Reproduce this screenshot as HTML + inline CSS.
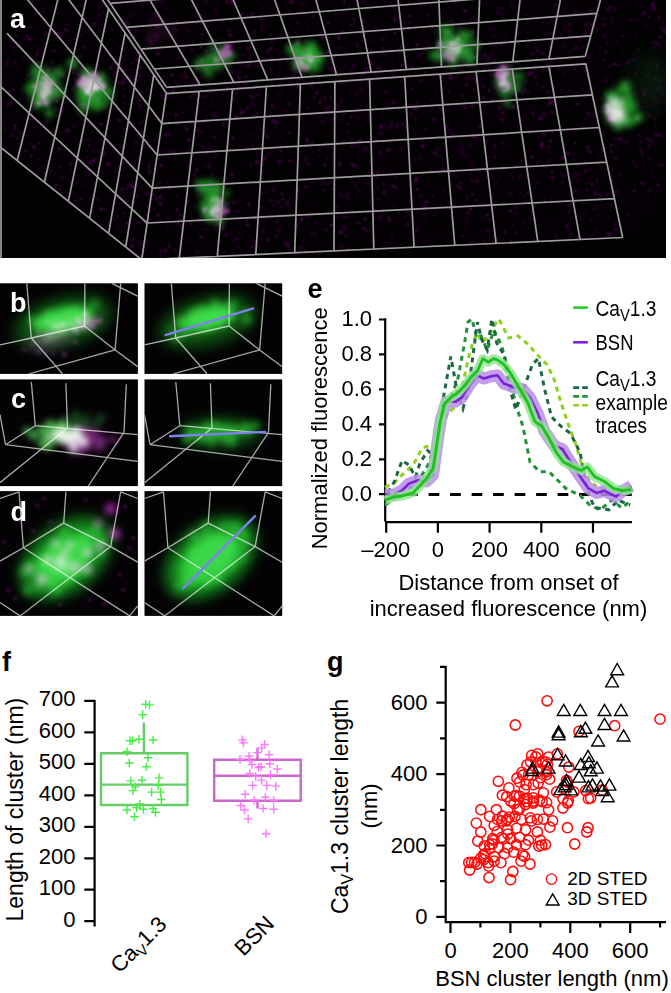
<!DOCTYPE html><html><head><meta charset="utf-8"><style>
html,body{margin:0;padding:0;background:#fff;width:671px;height:993px;overflow:hidden}
svg{display:block;font-family:"Liberation Sans",sans-serif}
</style></head><body>
<svg width="671" height="993" viewBox="0 0 671 993">
<defs>
<filter id="bl4" x="-50%" y="-50%" width="200%" height="200%"><feGaussianBlur stdDeviation="4"/></filter>
<filter id="bl3" x="-50%" y="-50%" width="200%" height="200%"><feGaussianBlur stdDeviation="3.2"/></filter>
<filter id="bl1" x="-50%" y="-50%" width="200%" height="200%"><feGaussianBlur stdDeviation="0.9"/></filter>
<filter id="bl2" x="-50%" y="-50%" width="200%" height="200%"><feGaussianBlur stdDeviation="1.6"/></filter>
<filter id="bl7" x="-50%" y="-50%" width="200%" height="200%"><feGaussianBlur stdDeviation="7"/></filter>
<filter id="bl12" x="-50%" y="-50%" width="200%" height="200%"><feGaussianBlur stdDeviation="12"/></filter>
<filter id="speck" x="0" y="0" width="100%" height="100%">
<feTurbulence type="fractalNoise" baseFrequency="0.22" numOctaves="2" seed="11"/>
<feColorMatrix type="matrix" values="0 0 0 0 0.34  0 0 0 0 0.02  0 0 0 0 0.34  3.5 0 0 0 -1.9"/>
<feGaussianBlur stdDeviation="0.7"/>
</filter>
<clipPath id="cpa"><rect x="0" y="0" width="666" height="258"/></clipPath>
</defs>

<rect x="0" y="0" width="666" height="258" fill="#030103"/>
<g clip-path="url(#cpa)">
<g fill="#5c0c62" filter="url(#bl1)"><circle cx="523" cy="142" r="1.2" opacity="0.3"/><circle cx="212" cy="101" r="1.0" opacity="0.6"/><circle cx="249" cy="204" r="1.5" opacity="0.6"/><circle cx="87" cy="93" r="1.9" opacity="0.6"/><circle cx="471" cy="42" r="1.1" opacity="0.6"/><circle cx="226" cy="91" r="1.0" opacity="0.4"/><circle cx="124" cy="195" r="1.3" opacity="0.2"/><circle cx="2" cy="119" r="0.9" opacity="0.2"/><circle cx="541" cy="53" r="1.2" opacity="0.6"/><circle cx="533" cy="114" r="1.9" opacity="0.5"/><circle cx="138" cy="163" r="1.4" opacity="0.2"/><circle cx="107" cy="198" r="1.3" opacity="0.2"/><circle cx="47" cy="122" r="1.7" opacity="0.6"/><circle cx="316" cy="238" r="1.2" opacity="0.4"/><circle cx="95" cy="211" r="1.5" opacity="0.2"/><circle cx="574" cy="67" r="1.0" opacity="0.6"/><circle cx="288" cy="245" r="1.7" opacity="0.7"/><circle cx="521" cy="176" r="1.2" opacity="0.6"/><circle cx="638" cy="203" r="0.9" opacity="0.6"/><circle cx="161" cy="82" r="1.5" opacity="0.6"/><circle cx="451" cy="131" r="1.4" opacity="0.4"/><circle cx="358" cy="223" r="1.8" opacity="0.6"/><circle cx="532" cy="13" r="1.2" opacity="0.3"/><circle cx="567" cy="112" r="1.3" opacity="0.2"/><circle cx="136" cy="98" r="1.9" opacity="0.4"/><circle cx="290" cy="17" r="1.4" opacity="0.3"/><circle cx="209" cy="25" r="1.0" opacity="0.7"/><circle cx="487" cy="141" r="1.6" opacity="0.6"/><circle cx="43" cy="7" r="1.6" opacity="0.2"/><circle cx="103" cy="41" r="0.9" opacity="0.4"/><circle cx="641" cy="182" r="1.7" opacity="0.5"/><circle cx="666" cy="33" r="1.7" opacity="0.6"/><circle cx="344" cy="71" r="1.1" opacity="0.6"/><circle cx="657" cy="65" r="1.6" opacity="0.6"/><circle cx="416" cy="178" r="1.0" opacity="0.2"/><circle cx="441" cy="156" r="1.8" opacity="0.3"/><circle cx="571" cy="204" r="1.8" opacity="0.2"/><circle cx="259" cy="208" r="1.5" opacity="0.6"/><circle cx="379" cy="133" r="1.5" opacity="0.4"/><circle cx="654" cy="8" r="1.8" opacity="0.6"/><circle cx="488" cy="231" r="1.6" opacity="0.4"/><circle cx="369" cy="86" r="1.8" opacity="0.3"/><circle cx="655" cy="124" r="1.5" opacity="0.3"/><circle cx="405" cy="106" r="1.7" opacity="0.6"/><circle cx="498" cy="13" r="1.2" opacity="0.7"/><circle cx="606" cy="82" r="1.3" opacity="0.5"/><circle cx="421" cy="196" r="1.5" opacity="0.6"/><circle cx="392" cy="123" r="1.7" opacity="0.5"/><circle cx="37" cy="69" r="1.3" opacity="0.2"/><circle cx="200" cy="104" r="1.8" opacity="0.3"/><circle cx="188" cy="182" r="1.1" opacity="0.4"/><circle cx="335" cy="205" r="1.8" opacity="0.2"/><circle cx="511" cy="241" r="1.5" opacity="0.5"/><circle cx="167" cy="229" r="1.0" opacity="0.5"/><circle cx="376" cy="147" r="1.1" opacity="0.6"/><circle cx="259" cy="222" r="1.0" opacity="0.7"/><circle cx="546" cy="24" r="1.7" opacity="0.3"/><circle cx="417" cy="27" r="1.2" opacity="0.4"/><circle cx="3" cy="68" r="1.3" opacity="0.4"/><circle cx="218" cy="3" r="1.7" opacity="0.4"/><circle cx="542" cy="22" r="1.3" opacity="0.3"/><circle cx="276" cy="109" r="1.6" opacity="0.4"/><circle cx="503" cy="170" r="1.6" opacity="0.4"/><circle cx="358" cy="28" r="1.8" opacity="0.2"/><circle cx="131" cy="16" r="1.9" opacity="0.4"/><circle cx="93" cy="207" r="1.0" opacity="0.2"/><circle cx="259" cy="184" r="0.9" opacity="0.7"/><circle cx="253" cy="80" r="1.0" opacity="0.3"/><circle cx="61" cy="67" r="0.9" opacity="0.6"/><circle cx="615" cy="115" r="1.3" opacity="0.3"/><circle cx="9" cy="91" r="1.4" opacity="0.4"/><circle cx="157" cy="16" r="1.3" opacity="0.6"/><circle cx="187" cy="129" r="1.7" opacity="0.7"/><circle cx="304" cy="23" r="1.8" opacity="0.2"/><circle cx="281" cy="136" r="1.5" opacity="0.2"/><circle cx="552" cy="200" r="1.2" opacity="0.7"/><circle cx="224" cy="178" r="1.2" opacity="0.3"/><circle cx="284" cy="244" r="1.2" opacity="0.7"/><circle cx="516" cy="56" r="1.2" opacity="0.5"/><circle cx="646" cy="92" r="1.3" opacity="0.2"/><circle cx="501" cy="22" r="0.9" opacity="0.5"/><circle cx="13" cy="88" r="1.0" opacity="0.5"/><circle cx="180" cy="221" r="1.1" opacity="0.7"/><circle cx="551" cy="121" r="1.0" opacity="0.2"/><circle cx="389" cy="179" r="1.6" opacity="0.3"/><circle cx="528" cy="132" r="1.3" opacity="0.4"/><circle cx="143" cy="187" r="1.5" opacity="0.2"/><circle cx="438" cy="41" r="1.2" opacity="0.4"/><circle cx="263" cy="208" r="1.9" opacity="0.3"/><circle cx="203" cy="223" r="1.1" opacity="0.3"/><circle cx="167" cy="252" r="1.7" opacity="0.3"/><circle cx="126" cy="23" r="1.8" opacity="0.7"/><circle cx="196" cy="88" r="1.3" opacity="0.6"/><circle cx="321" cy="228" r="1.1" opacity="0.6"/><circle cx="512" cy="93" r="1.7" opacity="0.6"/><circle cx="577" cy="104" r="1.8" opacity="0.6"/><circle cx="351" cy="25" r="1.5" opacity="0.6"/><circle cx="210" cy="29" r="1.3" opacity="0.2"/><circle cx="68" cy="130" r="1.8" opacity="0.6"/><circle cx="642" cy="153" r="1.1" opacity="0.4"/><circle cx="326" cy="119" r="1.0" opacity="0.2"/><circle cx="366" cy="195" r="1.5" opacity="0.2"/><circle cx="119" cy="83" r="1.5" opacity="0.6"/><circle cx="283" cy="58" r="1.5" opacity="0.2"/><circle cx="274" cy="205" r="1.8" opacity="0.4"/><circle cx="611" cy="17" r="0.9" opacity="0.3"/><circle cx="133" cy="85" r="1.5" opacity="0.2"/><circle cx="299" cy="187" r="1.2" opacity="0.3"/><circle cx="306" cy="41" r="1.8" opacity="0.4"/><circle cx="127" cy="223" r="1.7" opacity="0.2"/><circle cx="565" cy="73" r="1.7" opacity="0.4"/><circle cx="231" cy="222" r="1.0" opacity="0.5"/><circle cx="560" cy="5" r="1.4" opacity="0.2"/><circle cx="542" cy="133" r="1.7" opacity="0.5"/><circle cx="144" cy="66" r="1.1" opacity="0.4"/><circle cx="310" cy="155" r="1.4" opacity="0.2"/><circle cx="380" cy="218" r="1.4" opacity="0.6"/><circle cx="423" cy="215" r="1.0" opacity="0.7"/><circle cx="188" cy="213" r="1.3" opacity="0.2"/><circle cx="634" cy="53" r="1.6" opacity="0.2"/><circle cx="369" cy="62" r="1.8" opacity="0.2"/><circle cx="130" cy="43" r="0.9" opacity="0.4"/><circle cx="181" cy="191" r="1.5" opacity="0.4"/><circle cx="76" cy="126" r="1.6" opacity="0.3"/><circle cx="605" cy="81" r="1.7" opacity="0.4"/><circle cx="640" cy="142" r="1.5" opacity="0.7"/><circle cx="118" cy="171" r="1.1" opacity="0.4"/><circle cx="94" cy="144" r="1.0" opacity="0.2"/><circle cx="304" cy="125" r="1.7" opacity="0.3"/><circle cx="400" cy="84" r="1.3" opacity="0.3"/><circle cx="596" cy="192" r="1.0" opacity="0.6"/><circle cx="87" cy="216" r="1.0" opacity="0.5"/><circle cx="422" cy="35" r="1.7" opacity="0.3"/><circle cx="124" cy="213" r="1.3" opacity="0.6"/><circle cx="606" cy="157" r="1.7" opacity="0.3"/><circle cx="124" cy="71" r="1.9" opacity="0.7"/><circle cx="240" cy="72" r="1.2" opacity="0.5"/><circle cx="163" cy="200" r="1.8" opacity="0.3"/><circle cx="408" cy="23" r="1.0" opacity="0.5"/><circle cx="271" cy="70" r="1.4" opacity="0.6"/><circle cx="325" cy="108" r="1.6" opacity="0.4"/><circle cx="262" cy="217" r="1.5" opacity="0.7"/><circle cx="415" cy="107" r="1.6" opacity="0.5"/><circle cx="541" cy="4" r="1.1" opacity="0.5"/><circle cx="228" cy="124" r="1.4" opacity="0.3"/><circle cx="577" cy="238" r="1.6" opacity="0.4"/><circle cx="119" cy="226" r="1.4" opacity="0.2"/><circle cx="337" cy="18" r="1.3" opacity="0.3"/><circle cx="144" cy="1" r="1.3" opacity="0.5"/><circle cx="253" cy="97" r="1.5" opacity="0.5"/><circle cx="525" cy="116" r="1.5" opacity="0.4"/><circle cx="461" cy="70" r="1.2" opacity="0.6"/><circle cx="464" cy="152" r="1.0" opacity="0.6"/><circle cx="303" cy="69" r="1.5" opacity="0.3"/><circle cx="336" cy="34" r="1.2" opacity="0.5"/><circle cx="539" cy="27" r="1.3" opacity="0.3"/><circle cx="286" cy="111" r="1.9" opacity="0.4"/><circle cx="267" cy="137" r="1.8" opacity="0.5"/><circle cx="15" cy="52" r="1.7" opacity="0.3"/><circle cx="303" cy="81" r="1.3" opacity="0.2"/><circle cx="364" cy="73" r="1.9" opacity="0.3"/><circle cx="408" cy="83" r="1.7" opacity="0.3"/><circle cx="190" cy="82" r="1.2" opacity="0.6"/><circle cx="346" cy="137" r="1.6" opacity="0.2"/><circle cx="648" cy="206" r="1.0" opacity="0.3"/><circle cx="549" cy="66" r="1.0" opacity="0.4"/><circle cx="495" cy="145" r="1.3" opacity="0.4"/><circle cx="451" cy="31" r="1.0" opacity="0.2"/><circle cx="466" cy="11" r="1.6" opacity="0.6"/><circle cx="140" cy="123" r="1.5" opacity="0.6"/><circle cx="124" cy="96" r="1.3" opacity="0.6"/><circle cx="534" cy="107" r="1.6" opacity="0.4"/><circle cx="308" cy="222" r="1.8" opacity="0.2"/><circle cx="245" cy="88" r="1.7" opacity="0.3"/><circle cx="539" cy="137" r="1.0" opacity="0.5"/><circle cx="425" cy="207" r="1.5" opacity="0.7"/><circle cx="582" cy="104" r="1.3" opacity="0.2"/><circle cx="465" cy="133" r="1.0" opacity="0.4"/><circle cx="87" cy="169" r="1.8" opacity="0.5"/><circle cx="649" cy="158" r="1.7" opacity="0.4"/><circle cx="557" cy="27" r="1.4" opacity="0.2"/><circle cx="175" cy="82" r="1.6" opacity="0.3"/><circle cx="330" cy="67" r="1.6" opacity="0.5"/><circle cx="542" cy="117" r="1.7" opacity="0.3"/><circle cx="442" cy="18" r="1.8" opacity="0.3"/><circle cx="320" cy="150" r="1.6" opacity="0.6"/><circle cx="337" cy="236" r="1.0" opacity="0.3"/><circle cx="95" cy="64" r="1.6" opacity="0.2"/><circle cx="402" cy="66" r="1.6" opacity="0.6"/><circle cx="32" cy="72" r="1.3" opacity="0.3"/><circle cx="482" cy="79" r="0.9" opacity="0.6"/><circle cx="592" cy="184" r="1.7" opacity="0.6"/><circle cx="656" cy="78" r="1.8" opacity="0.3"/><circle cx="242" cy="14" r="1.6" opacity="0.6"/><circle cx="139" cy="242" r="1.1" opacity="0.3"/><circle cx="307" cy="217" r="1.5" opacity="0.5"/><circle cx="276" cy="123" r="1.7" opacity="0.4"/><circle cx="344" cy="119" r="1.3" opacity="0.2"/><circle cx="263" cy="228" r="1.0" opacity="0.6"/><circle cx="379" cy="94" r="1.8" opacity="0.3"/><circle cx="388" cy="150" r="1.6" opacity="0.4"/><circle cx="348" cy="124" r="1.6" opacity="0.5"/><circle cx="210" cy="43" r="1.7" opacity="0.3"/><circle cx="175" cy="141" r="1.4" opacity="0.2"/><circle cx="97" cy="198" r="1.6" opacity="0.5"/><circle cx="136" cy="70" r="1.3" opacity="0.6"/><circle cx="254" cy="19" r="1.4" opacity="0.3"/><circle cx="491" cy="54" r="1.6" opacity="0.5"/><circle cx="207" cy="220" r="1.5" opacity="0.2"/><circle cx="543" cy="87" r="1.8" opacity="0.4"/><circle cx="211" cy="206" r="1.5" opacity="0.4"/><circle cx="465" cy="107" r="1.8" opacity="0.6"/><circle cx="382" cy="126" r="1.8" opacity="0.6"/><circle cx="548" cy="24" r="0.9" opacity="0.6"/><circle cx="321" cy="37" r="1.2" opacity="0.2"/><circle cx="589" cy="12" r="0.9" opacity="0.4"/><circle cx="150" cy="12" r="1.3" opacity="0.4"/><circle cx="495" cy="185" r="1.8" opacity="0.5"/><circle cx="245" cy="84" r="1.2" opacity="0.4"/><circle cx="363" cy="114" r="1.7" opacity="0.2"/><circle cx="133" cy="187" r="1.9" opacity="0.7"/><circle cx="437" cy="149" r="1.7" opacity="0.4"/><circle cx="542" cy="71" r="1.9" opacity="0.3"/><circle cx="338" cy="212" r="1.0" opacity="0.7"/><circle cx="185" cy="238" r="1.9" opacity="0.2"/><circle cx="553" cy="87" r="1.7" opacity="0.5"/><circle cx="230" cy="35" r="1.6" opacity="0.7"/><circle cx="117" cy="134" r="1.1" opacity="0.2"/><circle cx="280" cy="232" r="1.1" opacity="0.6"/><circle cx="604" cy="19" r="1.3" opacity="0.6"/><circle cx="112" cy="212" r="1.0" opacity="0.4"/><circle cx="332" cy="60" r="1.8" opacity="0.6"/><circle cx="408" cy="212" r="1.3" opacity="0.7"/><circle cx="246" cy="77" r="1.3" opacity="0.7"/><circle cx="292" cy="18" r="1.1" opacity="0.3"/><circle cx="63" cy="155" r="1.8" opacity="0.3"/><circle cx="534" cy="112" r="1.4" opacity="0.2"/><circle cx="333" cy="90" r="1.0" opacity="0.5"/><circle cx="378" cy="197" r="1.6" opacity="0.2"/><circle cx="158" cy="27" r="1.7" opacity="0.5"/><circle cx="637" cy="57" r="1.4" opacity="0.2"/><circle cx="341" cy="246" r="1.3" opacity="0.6"/><circle cx="519" cy="118" r="1.3" opacity="0.6"/><circle cx="495" cy="236" r="1.9" opacity="0.4"/><circle cx="272" cy="106" r="1.8" opacity="0.7"/><circle cx="421" cy="160" r="1.2" opacity="0.6"/><circle cx="306" cy="187" r="1.7" opacity="0.6"/><circle cx="300" cy="152" r="1.4" opacity="0.3"/><circle cx="99" cy="30" r="1.7" opacity="0.4"/><circle cx="249" cy="138" r="1.0" opacity="0.2"/><circle cx="202" cy="60" r="1.4" opacity="0.7"/><circle cx="457" cy="147" r="1.1" opacity="0.2"/><circle cx="444" cy="190" r="1.4" opacity="0.4"/><circle cx="182" cy="112" r="1.4" opacity="0.5"/><circle cx="136" cy="31" r="1.6" opacity="0.5"/><circle cx="120" cy="208" r="1.8" opacity="0.3"/><circle cx="132" cy="248" r="1.1" opacity="0.6"/><circle cx="466" cy="53" r="1.0" opacity="0.6"/><circle cx="289" cy="252" r="1.4" opacity="0.5"/><circle cx="556" cy="237" r="1.3" opacity="0.6"/><circle cx="404" cy="57" r="1.0" opacity="0.6"/><circle cx="395" cy="177" r="1.4" opacity="0.5"/><circle cx="374" cy="64" r="1.5" opacity="0.6"/><circle cx="128" cy="11" r="1.5" opacity="0.2"/><circle cx="346" cy="217" r="1.6" opacity="0.6"/><circle cx="181" cy="101" r="1.3" opacity="0.3"/><circle cx="640" cy="149" r="1.1" opacity="0.4"/><circle cx="79" cy="159" r="1.4" opacity="0.3"/><circle cx="424" cy="62" r="1.1" opacity="0.7"/><circle cx="140" cy="22" r="1.8" opacity="0.2"/><circle cx="9" cy="128" r="1.3" opacity="0.2"/><circle cx="525" cy="89" r="1.3" opacity="0.6"/><circle cx="371" cy="61" r="1.7" opacity="0.5"/><circle cx="297" cy="51" r="1.0" opacity="0.6"/><circle cx="114" cy="83" r="1.5" opacity="0.2"/><circle cx="485" cy="103" r="1.3" opacity="0.2"/><circle cx="297" cy="101" r="1.0" opacity="0.5"/><circle cx="421" cy="81" r="1.5" opacity="0.6"/><circle cx="335" cy="160" r="1.3" opacity="0.2"/><circle cx="377" cy="129" r="1.4" opacity="0.2"/><circle cx="335" cy="205" r="0.9" opacity="0.4"/><circle cx="661" cy="165" r="1.7" opacity="0.6"/><circle cx="460" cy="136" r="1.6" opacity="0.4"/><circle cx="410" cy="203" r="1.1" opacity="0.6"/><circle cx="623" cy="37" r="1.4" opacity="0.3"/><circle cx="330" cy="241" r="1.1" opacity="0.5"/><circle cx="448" cy="130" r="1.5" opacity="0.6"/><circle cx="127" cy="186" r="1.2" opacity="0.3"/><circle cx="519" cy="178" r="1.7" opacity="0.4"/><circle cx="289" cy="201" r="1.1" opacity="0.5"/><circle cx="426" cy="104" r="1.5" opacity="0.3"/><circle cx="166" cy="156" r="1.0" opacity="0.6"/><circle cx="402" cy="124" r="1.8" opacity="0.6"/><circle cx="195" cy="230" r="1.3" opacity="0.2"/><circle cx="115" cy="117" r="1.1" opacity="0.2"/><circle cx="380" cy="214" r="1.7" opacity="0.2"/><circle cx="152" cy="196" r="1.7" opacity="0.3"/><circle cx="105" cy="24" r="1.3" opacity="0.6"/><circle cx="93" cy="24" r="1.1" opacity="0.7"/><circle cx="15" cy="152" r="1.3" opacity="0.3"/><circle cx="662" cy="178" r="1.5" opacity="0.3"/><circle cx="340" cy="161" r="0.9" opacity="0.7"/><circle cx="444" cy="168" r="1.1" opacity="0.4"/><circle cx="615" cy="103" r="1.8" opacity="0.7"/><circle cx="212" cy="175" r="0.9" opacity="0.7"/><circle cx="365" cy="219" r="1.8" opacity="0.6"/><circle cx="490" cy="220" r="1.7" opacity="0.5"/><circle cx="51" cy="171" r="1.3" opacity="0.7"/><circle cx="324" cy="236" r="1.2" opacity="0.2"/><circle cx="158" cy="215" r="1.8" opacity="0.7"/><circle cx="618" cy="149" r="1.3" opacity="0.5"/><circle cx="64" cy="149" r="1.6" opacity="0.4"/><circle cx="339" cy="38" r="1.8" opacity="0.7"/><circle cx="397" cy="110" r="1.8" opacity="0.2"/><circle cx="444" cy="241" r="1.9" opacity="0.2"/><circle cx="89" cy="146" r="1.0" opacity="0.6"/><circle cx="487" cy="124" r="1.6" opacity="0.2"/><circle cx="271" cy="41" r="1.9" opacity="0.5"/><circle cx="495" cy="157" r="1.5" opacity="0.6"/><circle cx="617" cy="99" r="1.3" opacity="0.6"/><circle cx="83" cy="34" r="1.5" opacity="0.2"/><circle cx="432" cy="27" r="1.9" opacity="0.5"/><circle cx="370" cy="202" r="1.7" opacity="0.4"/><circle cx="450" cy="33" r="1.0" opacity="0.7"/><circle cx="589" cy="90" r="1.9" opacity="0.3"/><circle cx="621" cy="29" r="1.1" opacity="0.6"/><circle cx="371" cy="42" r="1.4" opacity="0.4"/><circle cx="460" cy="189" r="1.7" opacity="0.6"/><circle cx="273" cy="121" r="1.7" opacity="0.6"/><circle cx="620" cy="166" r="1.3" opacity="0.2"/><circle cx="537" cy="90" r="1.5" opacity="0.4"/><circle cx="121" cy="153" r="1.1" opacity="0.2"/><circle cx="285" cy="205" r="1.1" opacity="0.3"/><circle cx="581" cy="17" r="1.7" opacity="0.3"/><circle cx="32" cy="45" r="1.1" opacity="0.2"/><circle cx="173" cy="91" r="1.8" opacity="0.6"/><circle cx="569" cy="91" r="1.0" opacity="0.2"/><circle cx="495" cy="61" r="1.7" opacity="0.6"/><circle cx="417" cy="45" r="1.7" opacity="0.7"/><circle cx="497" cy="196" r="1.2" opacity="0.4"/><circle cx="343" cy="226" r="1.0" opacity="0.5"/><circle cx="435" cy="26" r="1.3" opacity="0.3"/><circle cx="57" cy="101" r="1.7" opacity="0.7"/><circle cx="157" cy="76" r="1.2" opacity="0.7"/><circle cx="142" cy="109" r="1.1" opacity="0.5"/><circle cx="436" cy="163" r="0.9" opacity="0.4"/><circle cx="583" cy="14" r="1.8" opacity="0.3"/><circle cx="657" cy="88" r="1.2" opacity="0.6"/><circle cx="64" cy="98" r="1.2" opacity="0.5"/><circle cx="462" cy="81" r="0.9" opacity="0.4"/><circle cx="368" cy="231" r="1.3" opacity="0.4"/><circle cx="468" cy="80" r="1.5" opacity="0.4"/><circle cx="565" cy="11" r="1.7" opacity="0.4"/><circle cx="305" cy="150" r="1.3" opacity="0.2"/><circle cx="177" cy="46" r="0.9" opacity="0.4"/><circle cx="537" cy="76" r="1.5" opacity="0.3"/><circle cx="439" cy="107" r="1.2" opacity="0.3"/><circle cx="201" cy="47" r="1.8" opacity="0.7"/><circle cx="8" cy="147" r="1.7" opacity="0.2"/><circle cx="364" cy="188" r="1.1" opacity="0.2"/><circle cx="485" cy="164" r="1.1" opacity="0.7"/><circle cx="611" cy="19" r="1.2" opacity="0.6"/><circle cx="343" cy="232" r="1.7" opacity="0.3"/><circle cx="650" cy="190" r="1.3" opacity="0.2"/><circle cx="111" cy="56" r="1.7" opacity="0.2"/><circle cx="498" cy="170" r="1.3" opacity="0.5"/><circle cx="262" cy="164" r="1.7" opacity="0.6"/><circle cx="502" cy="157" r="1.3" opacity="0.3"/><circle cx="36" cy="64" r="1.2" opacity="0.3"/><circle cx="73" cy="56" r="1.0" opacity="0.2"/><circle cx="619" cy="189" r="0.9" opacity="0.3"/><circle cx="275" cy="116" r="1.2" opacity="0.5"/><circle cx="215" cy="157" r="1.9" opacity="0.3"/><circle cx="63" cy="75" r="1.1" opacity="0.6"/><circle cx="314" cy="97" r="1.3" opacity="0.6"/><circle cx="492" cy="154" r="1.1" opacity="0.3"/><circle cx="133" cy="63" r="1.2" opacity="0.6"/><circle cx="363" cy="54" r="1.3" opacity="0.2"/><circle cx="548" cy="191" r="1.1" opacity="0.2"/><circle cx="321" cy="33" r="1.4" opacity="0.6"/><circle cx="490" cy="29" r="1.1" opacity="0.4"/><circle cx="479" cy="128" r="1.0" opacity="0.5"/><circle cx="359" cy="192" r="1.1" opacity="0.5"/><circle cx="472" cy="181" r="1.5" opacity="0.7"/><circle cx="578" cy="3" r="1.0" opacity="0.4"/><circle cx="655" cy="7" r="1.0" opacity="0.2"/><circle cx="437" cy="91" r="1.2" opacity="0.4"/><circle cx="523" cy="92" r="1.8" opacity="0.4"/><circle cx="213" cy="205" r="0.9" opacity="0.2"/><circle cx="225" cy="59" r="1.0" opacity="0.5"/><circle cx="52" cy="145" r="1.9" opacity="0.3"/><circle cx="491" cy="85" r="1.5" opacity="0.2"/><circle cx="288" cy="245" r="1.0" opacity="0.7"/><circle cx="3" cy="125" r="1.2" opacity="0.2"/><circle cx="306" cy="97" r="1.3" opacity="0.3"/><circle cx="453" cy="134" r="1.6" opacity="0.6"/><circle cx="538" cy="169" r="1.8" opacity="0.2"/><circle cx="596" cy="113" r="0.9" opacity="0.6"/><circle cx="540" cy="61" r="1.1" opacity="0.6"/><circle cx="380" cy="155" r="1.9" opacity="0.3"/><circle cx="606" cy="34" r="1.3" opacity="0.3"/><circle cx="470" cy="209" r="1.7" opacity="0.2"/><circle cx="89" cy="145" r="1.2" opacity="0.7"/><circle cx="530" cy="150" r="1.6" opacity="0.2"/><circle cx="170" cy="151" r="1.2" opacity="0.4"/><circle cx="485" cy="58" r="1.0" opacity="0.5"/><circle cx="416" cy="179" r="1.7" opacity="0.7"/><circle cx="237" cy="118" r="1.7" opacity="0.2"/><circle cx="373" cy="173" r="1.7" opacity="0.5"/><circle cx="591" cy="221" r="1.8" opacity="0.5"/><circle cx="411" cy="188" r="1.6" opacity="0.2"/><circle cx="414" cy="170" r="0.9" opacity="0.3"/><circle cx="102" cy="173" r="1.6" opacity="0.5"/><circle cx="350" cy="56" r="1.4" opacity="0.4"/><circle cx="279" cy="36" r="1.1" opacity="0.3"/><circle cx="348" cy="250" r="1.0" opacity="0.4"/><circle cx="560" cy="188" r="1.6" opacity="0.4"/><circle cx="47" cy="65" r="1.8" opacity="0.3"/><circle cx="212" cy="114" r="1.6" opacity="0.2"/><circle cx="4" cy="149" r="1.0" opacity="0.5"/><circle cx="418" cy="177" r="1.4" opacity="0.5"/><circle cx="663" cy="21" r="1.0" opacity="0.5"/><circle cx="123" cy="194" r="1.3" opacity="0.5"/><circle cx="226" cy="119" r="1.1" opacity="0.6"/><circle cx="499" cy="88" r="1.3" opacity="0.7"/><circle cx="98" cy="65" r="1.9" opacity="0.4"/><circle cx="114" cy="23" r="1.0" opacity="0.5"/><circle cx="276" cy="237" r="1.6" opacity="0.4"/><circle cx="248" cy="66" r="1.6" opacity="0.6"/><circle cx="138" cy="80" r="1.7" opacity="0.3"/><circle cx="387" cy="151" r="1.3" opacity="0.6"/><circle cx="318" cy="156" r="1.3" opacity="0.5"/><circle cx="319" cy="78" r="1.2" opacity="0.3"/><circle cx="461" cy="183" r="1.6" opacity="0.6"/><circle cx="89" cy="75" r="1.3" opacity="0.4"/><circle cx="278" cy="230" r="1.1" opacity="0.4"/><circle cx="588" cy="28" r="1.5" opacity="0.3"/><circle cx="7" cy="62" r="1.3" opacity="0.6"/><circle cx="119" cy="88" r="0.9" opacity="0.3"/><circle cx="274" cy="120" r="1.1" opacity="0.5"/><circle cx="232" cy="126" r="1.0" opacity="0.4"/><circle cx="123" cy="124" r="0.9" opacity="0.2"/><circle cx="377" cy="64" r="1.0" opacity="0.2"/><circle cx="188" cy="69" r="1.5" opacity="0.2"/><circle cx="544" cy="114" r="1.7" opacity="0.6"/><circle cx="126" cy="147" r="1.0" opacity="0.2"/><circle cx="427" cy="241" r="1.8" opacity="0.4"/><circle cx="648" cy="170" r="1.0" opacity="0.3"/><circle cx="133" cy="239" r="1.8" opacity="0.4"/><circle cx="261" cy="193" r="1.2" opacity="0.2"/><circle cx="598" cy="17" r="1.0" opacity="0.3"/><circle cx="486" cy="220" r="1.5" opacity="0.2"/><circle cx="507" cy="36" r="1.1" opacity="0.2"/><circle cx="484" cy="71" r="1.0" opacity="0.5"/><circle cx="493" cy="176" r="1.3" opacity="0.4"/><circle cx="600" cy="48" r="1.4" opacity="0.4"/><circle cx="108" cy="77" r="1.0" opacity="0.2"/><circle cx="581" cy="91" r="1.5" opacity="0.4"/><circle cx="126" cy="131" r="1.2" opacity="0.6"/><circle cx="111" cy="68" r="1.8" opacity="0.7"/><circle cx="466" cy="108" r="1.3" opacity="0.3"/><circle cx="98" cy="183" r="1.3" opacity="0.2"/><circle cx="538" cy="151" r="1.0" opacity="0.6"/><circle cx="494" cy="63" r="1.6" opacity="0.5"/><circle cx="608" cy="102" r="1.1" opacity="0.4"/><circle cx="441" cy="109" r="1.6" opacity="0.5"/><circle cx="116" cy="0" r="1.6" opacity="0.6"/><circle cx="271" cy="48" r="1.9" opacity="0.5"/><circle cx="583" cy="87" r="1.3" opacity="0.4"/><circle cx="477" cy="186" r="1.8" opacity="0.3"/><circle cx="275" cy="94" r="1.3" opacity="0.2"/><circle cx="150" cy="21" r="1.2" opacity="0.5"/><circle cx="269" cy="152" r="1.4" opacity="0.4"/><circle cx="502" cy="103" r="1.4" opacity="0.5"/><circle cx="608" cy="116" r="1.1" opacity="0.4"/><circle cx="587" cy="183" r="1.6" opacity="0.3"/><circle cx="103" cy="159" r="1.0" opacity="0.2"/><circle cx="394" cy="29" r="1.6" opacity="0.3"/><circle cx="347" cy="13" r="1.9" opacity="0.2"/><circle cx="622" cy="110" r="1.8" opacity="0.3"/><circle cx="337" cy="116" r="1.3" opacity="0.2"/><circle cx="217" cy="44" r="1.8" opacity="0.6"/><circle cx="302" cy="241" r="0.9" opacity="0.3"/><circle cx="87" cy="55" r="1.0" opacity="0.3"/><circle cx="338" cy="207" r="1.6" opacity="0.4"/><circle cx="18" cy="46" r="1.5" opacity="0.4"/><circle cx="200" cy="216" r="1.7" opacity="0.2"/><circle cx="57" cy="12" r="1.9" opacity="0.3"/><circle cx="634" cy="161" r="1.2" opacity="0.3"/><circle cx="303" cy="63" r="1.7" opacity="0.7"/><circle cx="378" cy="68" r="1.4" opacity="0.6"/><circle cx="457" cy="57" r="1.3" opacity="0.4"/><circle cx="619" cy="128" r="1.2" opacity="0.7"/><circle cx="39" cy="169" r="1.6" opacity="0.4"/><circle cx="164" cy="197" r="1.1" opacity="0.3"/><circle cx="384" cy="185" r="1.1" opacity="0.5"/><circle cx="47" cy="169" r="0.9" opacity="0.2"/><circle cx="177" cy="210" r="1.9" opacity="0.6"/><circle cx="236" cy="38" r="0.9" opacity="0.6"/><circle cx="18" cy="98" r="1.0" opacity="0.2"/><circle cx="189" cy="150" r="1.7" opacity="0.6"/><circle cx="404" cy="21" r="1.9" opacity="0.3"/><circle cx="513" cy="89" r="1.2" opacity="0.7"/><circle cx="646" cy="100" r="1.5" opacity="0.4"/><circle cx="580" cy="40" r="1.8" opacity="0.5"/><circle cx="506" cy="103" r="1.4" opacity="0.4"/><circle cx="274" cy="200" r="1.4" opacity="0.3"/><circle cx="15" cy="126" r="1.8" opacity="0.7"/><circle cx="92" cy="188" r="1.5" opacity="0.3"/><circle cx="377" cy="140" r="1.3" opacity="0.7"/><circle cx="108" cy="104" r="1.5" opacity="0.3"/><circle cx="522" cy="121" r="1.1" opacity="0.5"/><circle cx="570" cy="193" r="1.8" opacity="0.2"/><circle cx="236" cy="211" r="1.6" opacity="0.6"/><circle cx="374" cy="4" r="1.3" opacity="0.4"/><circle cx="403" cy="62" r="1.3" opacity="0.3"/><circle cx="139" cy="4" r="1.8" opacity="0.5"/><circle cx="297" cy="43" r="1.8" opacity="0.6"/><circle cx="473" cy="18" r="1.8" opacity="0.5"/><circle cx="161" cy="256" r="1.7" opacity="0.5"/><circle cx="389" cy="217" r="1.1" opacity="0.6"/><circle cx="250" cy="58" r="1.8" opacity="0.6"/><circle cx="254" cy="136" r="1.4" opacity="0.5"/><circle cx="608" cy="234" r="1.9" opacity="0.6"/><circle cx="623" cy="70" r="1.6" opacity="0.2"/><circle cx="393" cy="57" r="1.2" opacity="0.4"/><circle cx="385" cy="89" r="0.9" opacity="0.3"/><circle cx="191" cy="25" r="1.1" opacity="0.5"/><circle cx="456" cy="76" r="1.6" opacity="0.4"/><circle cx="654" cy="117" r="1.6" opacity="0.4"/><circle cx="604" cy="37" r="1.8" opacity="0.5"/><circle cx="477" cy="137" r="1.9" opacity="0.4"/><circle cx="526" cy="163" r="1.1" opacity="0.4"/><circle cx="255" cy="241" r="1.5" opacity="0.6"/><circle cx="478" cy="18" r="1.4" opacity="0.2"/><circle cx="449" cy="91" r="1.5" opacity="0.6"/><circle cx="350" cy="131" r="1.3" opacity="0.2"/><circle cx="348" cy="44" r="1.5" opacity="0.2"/><circle cx="460" cy="20" r="1.1" opacity="0.2"/><circle cx="212" cy="130" r="1.0" opacity="0.3"/><circle cx="209" cy="56" r="1.5" opacity="0.4"/><circle cx="452" cy="173" r="1.6" opacity="0.4"/><circle cx="621" cy="35" r="1.6" opacity="0.4"/><circle cx="275" cy="12" r="1.8" opacity="0.2"/><circle cx="203" cy="97" r="1.8" opacity="0.3"/><circle cx="143" cy="46" r="1.8" opacity="0.2"/><circle cx="154" cy="209" r="1.5" opacity="0.2"/><circle cx="14" cy="47" r="1.4" opacity="0.6"/><circle cx="119" cy="120" r="1.9" opacity="0.6"/><circle cx="597" cy="72" r="1.8" opacity="0.3"/><circle cx="84" cy="194" r="1.0" opacity="0.6"/><circle cx="419" cy="156" r="1.5" opacity="0.2"/><circle cx="276" cy="240" r="1.0" opacity="0.3"/><circle cx="464" cy="23" r="1.8" opacity="0.4"/><circle cx="262" cy="22" r="1.7" opacity="0.2"/><circle cx="486" cy="103" r="1.8" opacity="0.5"/><circle cx="500" cy="65" r="1.4" opacity="0.4"/><circle cx="612" cy="181" r="1.9" opacity="0.6"/><circle cx="254" cy="32" r="1.4" opacity="0.7"/><circle cx="383" cy="210" r="1.4" opacity="0.2"/><circle cx="232" cy="232" r="1.0" opacity="0.4"/><circle cx="305" cy="49" r="1.9" opacity="0.3"/><circle cx="286" cy="240" r="1.7" opacity="0.2"/><circle cx="183" cy="167" r="0.9" opacity="0.6"/><circle cx="261" cy="153" r="0.9" opacity="0.2"/><circle cx="239" cy="78" r="1.8" opacity="0.7"/><circle cx="394" cy="67" r="1.1" opacity="0.5"/><circle cx="349" cy="192" r="1.5" opacity="0.4"/><circle cx="132" cy="77" r="1.8" opacity="0.4"/><circle cx="253" cy="146" r="1.4" opacity="0.7"/><circle cx="612" cy="152" r="1.4" opacity="0.6"/><circle cx="132" cy="203" r="1.1" opacity="0.6"/><circle cx="77" cy="182" r="1.7" opacity="0.3"/><circle cx="567" cy="152" r="1.0" opacity="0.5"/><circle cx="505" cy="232" r="1.8" opacity="0.6"/><circle cx="358" cy="118" r="1.4" opacity="0.4"/><circle cx="327" cy="65" r="1.0" opacity="0.4"/><circle cx="360" cy="81" r="1.5" opacity="0.7"/><circle cx="304" cy="162" r="1.1" opacity="0.5"/><circle cx="227" cy="3" r="1.0" opacity="0.4"/><circle cx="422" cy="166" r="1.2" opacity="0.4"/><circle cx="151" cy="103" r="1.0" opacity="0.2"/><circle cx="441" cy="85" r="1.8" opacity="0.3"/><circle cx="89" cy="125" r="1.6" opacity="0.5"/><circle cx="579" cy="181" r="1.3" opacity="0.6"/><circle cx="201" cy="13" r="1.2" opacity="0.5"/><circle cx="263" cy="53" r="1.4" opacity="0.2"/><circle cx="572" cy="179" r="0.9" opacity="0.4"/><circle cx="122" cy="177" r="1.2" opacity="0.5"/><circle cx="302" cy="219" r="1.9" opacity="0.6"/><circle cx="352" cy="42" r="1.4" opacity="0.2"/><circle cx="562" cy="59" r="1.2" opacity="0.3"/><circle cx="592" cy="118" r="1.0" opacity="0.2"/><circle cx="308" cy="28" r="1.1" opacity="0.6"/><circle cx="354" cy="67" r="1.6" opacity="0.2"/><circle cx="590" cy="33" r="1.8" opacity="0.3"/><circle cx="593" cy="125" r="1.3" opacity="0.4"/><circle cx="207" cy="55" r="1.7" opacity="0.2"/><circle cx="440" cy="152" r="1.0" opacity="0.2"/><circle cx="477" cy="39" r="1.6" opacity="0.4"/><circle cx="375" cy="219" r="1.5" opacity="0.6"/><circle cx="376" cy="73" r="1.3" opacity="0.4"/><circle cx="234" cy="117" r="1.3" opacity="0.3"/><circle cx="587" cy="96" r="1.4" opacity="0.4"/><circle cx="583" cy="64" r="1.4" opacity="0.2"/><circle cx="286" cy="143" r="1.2" opacity="0.5"/><circle cx="341" cy="102" r="1.2" opacity="0.7"/><circle cx="370" cy="174" r="1.6" opacity="0.3"/><circle cx="185" cy="36" r="1.2" opacity="0.3"/><circle cx="485" cy="55" r="1.7" opacity="0.6"/><circle cx="556" cy="176" r="1.4" opacity="0.3"/><circle cx="605" cy="78" r="1.6" opacity="0.2"/><circle cx="201" cy="218" r="1.1" opacity="0.3"/><circle cx="353" cy="108" r="1.2" opacity="0.4"/><circle cx="463" cy="10" r="1.3" opacity="0.4"/><circle cx="298" cy="78" r="1.4" opacity="0.6"/><circle cx="159" cy="232" r="1.1" opacity="0.4"/><circle cx="99" cy="98" r="1.4" opacity="0.4"/><circle cx="481" cy="58" r="1.5" opacity="0.4"/><circle cx="478" cy="236" r="1.4" opacity="0.2"/><circle cx="151" cy="42" r="1.7" opacity="0.3"/><circle cx="71" cy="42" r="1.3" opacity="0.3"/><circle cx="84" cy="90" r="1.1" opacity="0.5"/><circle cx="403" cy="243" r="1.3" opacity="0.2"/><circle cx="634" cy="191" r="1.3" opacity="0.7"/><circle cx="25" cy="102" r="1.2" opacity="0.2"/><circle cx="192" cy="50" r="1.4" opacity="0.7"/><circle cx="462" cy="59" r="1.3" opacity="0.3"/><circle cx="356" cy="21" r="1.6" opacity="0.2"/><circle cx="560" cy="104" r="1.1" opacity="0.2"/><circle cx="122" cy="190" r="1.4" opacity="0.5"/><circle cx="309" cy="164" r="1.7" opacity="0.6"/><circle cx="176" cy="183" r="1.6" opacity="0.3"/><circle cx="418" cy="138" r="1.0" opacity="0.4"/><circle cx="130" cy="222" r="1.5" opacity="0.5"/><circle cx="134" cy="148" r="0.9" opacity="0.7"/><circle cx="206" cy="190" r="1.0" opacity="0.5"/><circle cx="396" cy="166" r="0.9" opacity="0.6"/><circle cx="387" cy="35" r="1.7" opacity="0.2"/><circle cx="412" cy="74" r="1.1" opacity="0.4"/><circle cx="205" cy="102" r="1.3" opacity="0.2"/><circle cx="154" cy="14" r="1.9" opacity="0.5"/><circle cx="510" cy="194" r="1.1" opacity="0.6"/><circle cx="533" cy="53" r="1.1" opacity="0.4"/><circle cx="588" cy="202" r="1.8" opacity="0.2"/><circle cx="513" cy="226" r="1.5" opacity="0.5"/><circle cx="569" cy="81" r="1.2" opacity="0.4"/><circle cx="561" cy="29" r="0.9" opacity="0.2"/><circle cx="192" cy="7" r="1.9" opacity="0.3"/><circle cx="358" cy="118" r="1.8" opacity="0.2"/><circle cx="228" cy="150" r="1.0" opacity="0.4"/><circle cx="188" cy="42" r="1.4" opacity="0.3"/><circle cx="595" cy="194" r="1.3" opacity="0.3"/><circle cx="571" cy="195" r="1.6" opacity="0.3"/><circle cx="598" cy="155" r="1.2" opacity="0.4"/><circle cx="122" cy="147" r="1.8" opacity="0.4"/><circle cx="249" cy="225" r="1.2" opacity="0.5"/><circle cx="465" cy="78" r="0.9" opacity="0.7"/><circle cx="412" cy="208" r="1.6" opacity="0.3"/><circle cx="488" cy="143" r="1.1" opacity="0.6"/><circle cx="364" cy="73" r="1.7" opacity="0.3"/><circle cx="110" cy="146" r="1.6" opacity="0.4"/><circle cx="644" cy="13" r="1.7" opacity="0.6"/><circle cx="127" cy="175" r="0.9" opacity="0.6"/><circle cx="639" cy="54" r="1.0" opacity="0.2"/><circle cx="503" cy="130" r="1.0" opacity="0.2"/><circle cx="472" cy="52" r="1.6" opacity="0.4"/><circle cx="303" cy="3" r="0.9" opacity="0.7"/><circle cx="526" cy="123" r="1.1" opacity="0.5"/><circle cx="82" cy="205" r="0.9" opacity="0.3"/><circle cx="42" cy="40" r="1.1" opacity="0.6"/><circle cx="201" cy="237" r="1.8" opacity="0.7"/><circle cx="378" cy="169" r="1.0" opacity="0.7"/><circle cx="196" cy="180" r="1.2" opacity="0.6"/><circle cx="400" cy="64" r="1.1" opacity="0.6"/><circle cx="429" cy="139" r="1.3" opacity="0.4"/><circle cx="94" cy="87" r="1.1" opacity="0.2"/><circle cx="394" cy="194" r="1.9" opacity="0.2"/><circle cx="483" cy="68" r="1.4" opacity="0.4"/><circle cx="82" cy="185" r="1.3" opacity="0.5"/><circle cx="330" cy="54" r="1.0" opacity="0.3"/><circle cx="380" cy="67" r="1.9" opacity="0.4"/><circle cx="395" cy="10" r="1.3" opacity="0.6"/><circle cx="128" cy="241" r="0.9" opacity="0.6"/><circle cx="6" cy="63" r="1.1" opacity="0.5"/><circle cx="191" cy="213" r="1.1" opacity="0.7"/><circle cx="176" cy="30" r="1.8" opacity="0.3"/><circle cx="599" cy="195" r="1.6" opacity="0.5"/><circle cx="393" cy="238" r="1.6" opacity="0.3"/><circle cx="128" cy="188" r="1.7" opacity="0.4"/><circle cx="217" cy="147" r="1.4" opacity="0.4"/><circle cx="244" cy="83" r="1.2" opacity="0.5"/><circle cx="642" cy="156" r="1.7" opacity="0.4"/><circle cx="240" cy="25" r="0.9" opacity="0.3"/><circle cx="479" cy="152" r="1.4" opacity="0.2"/><circle cx="110" cy="166" r="1.4" opacity="0.3"/><circle cx="308" cy="6" r="1.0" opacity="0.4"/><circle cx="297" cy="161" r="1.1" opacity="0.3"/><circle cx="182" cy="123" r="1.8" opacity="0.2"/><circle cx="528" cy="193" r="1.6" opacity="0.6"/><circle cx="441" cy="92" r="1.5" opacity="0.2"/><circle cx="104" cy="108" r="1.1" opacity="0.4"/><circle cx="503" cy="239" r="1.4" opacity="0.5"/><circle cx="124" cy="130" r="1.3" opacity="0.6"/><circle cx="367" cy="109" r="1.4" opacity="0.3"/><circle cx="561" cy="157" r="1.4" opacity="0.4"/><circle cx="103" cy="209" r="1.7" opacity="0.4"/><circle cx="537" cy="182" r="1.5" opacity="0.5"/><circle cx="61" cy="36" r="1.9" opacity="0.6"/><circle cx="122" cy="20" r="1.2" opacity="0.5"/><circle cx="42" cy="104" r="1.6" opacity="0.2"/><circle cx="294" cy="165" r="1.4" opacity="0.3"/><circle cx="288" cy="39" r="1.3" opacity="0.4"/><circle cx="32" cy="104" r="1.6" opacity="0.5"/><circle cx="46" cy="175" r="1.8" opacity="0.6"/><circle cx="572" cy="204" r="1.4" opacity="0.3"/><circle cx="132" cy="54" r="1.2" opacity="0.3"/><circle cx="323" cy="183" r="1.8" opacity="0.4"/><circle cx="222" cy="171" r="1.6" opacity="0.3"/><circle cx="45" cy="173" r="1.5" opacity="0.7"/><circle cx="361" cy="90" r="1.7" opacity="0.5"/><circle cx="79" cy="69" r="0.9" opacity="0.3"/><circle cx="120" cy="32" r="1.0" opacity="0.5"/><circle cx="112" cy="229" r="1.2" opacity="0.2"/><circle cx="528" cy="210" r="1.5" opacity="0.3"/><circle cx="38" cy="64" r="1.2" opacity="0.3"/><circle cx="197" cy="9" r="1.5" opacity="0.3"/><circle cx="412" cy="163" r="1.0" opacity="0.4"/><circle cx="565" cy="31" r="1.7" opacity="0.2"/><circle cx="287" cy="243" r="1.8" opacity="0.3"/><circle cx="564" cy="158" r="1.9" opacity="0.6"/><circle cx="404" cy="184" r="1.2" opacity="0.3"/><circle cx="423" cy="146" r="1.9" opacity="0.7"/><circle cx="585" cy="33" r="1.7" opacity="0.6"/><circle cx="434" cy="119" r="1.7" opacity="0.6"/><circle cx="572" cy="52" r="1.0" opacity="0.2"/><circle cx="588" cy="147" r="1.6" opacity="0.6"/><circle cx="576" cy="48" r="1.9" opacity="0.5"/><circle cx="616" cy="158" r="1.9" opacity="0.5"/><circle cx="167" cy="231" r="1.0" opacity="0.4"/><circle cx="287" cy="98" r="1.0" opacity="0.3"/><circle cx="425" cy="154" r="1.4" opacity="0.4"/><circle cx="243" cy="89" r="1.3" opacity="0.4"/><circle cx="220" cy="223" r="1.7" opacity="0.4"/><circle cx="574" cy="160" r="1.6" opacity="0.5"/><circle cx="239" cy="62" r="1.4" opacity="0.6"/><circle cx="601" cy="177" r="0.9" opacity="0.3"/><circle cx="366" cy="148" r="1.7" opacity="0.6"/><circle cx="646" cy="89" r="1.7" opacity="0.2"/><circle cx="594" cy="41" r="1.0" opacity="0.6"/><circle cx="573" cy="56" r="1.4" opacity="0.3"/><circle cx="420" cy="130" r="1.0" opacity="0.3"/><circle cx="205" cy="97" r="1.1" opacity="0.2"/><circle cx="303" cy="54" r="1.1" opacity="0.6"/><circle cx="288" cy="205" r="1.9" opacity="0.5"/><circle cx="660" cy="165" r="1.2" opacity="0.2"/><circle cx="530" cy="109" r="1.5" opacity="0.3"/><circle cx="505" cy="80" r="1.9" opacity="0.4"/><circle cx="158" cy="136" r="1.0" opacity="0.6"/><circle cx="598" cy="1" r="1.8" opacity="0.3"/><circle cx="473" cy="32" r="1.8" opacity="0.6"/><circle cx="130" cy="125" r="1.4" opacity="0.5"/><circle cx="185" cy="73" r="1.5" opacity="0.5"/><circle cx="520" cy="85" r="0.9" opacity="0.6"/><circle cx="58" cy="33" r="1.8" opacity="0.7"/><circle cx="135" cy="211" r="1.3" opacity="0.6"/><circle cx="328" cy="23" r="1.8" opacity="0.6"/><circle cx="385" cy="194" r="1.5" opacity="0.2"/><circle cx="467" cy="201" r="1.2" opacity="0.4"/><circle cx="429" cy="14" r="1.7" opacity="0.3"/><circle cx="573" cy="36" r="1.6" opacity="0.3"/><circle cx="336" cy="219" r="1.3" opacity="0.2"/><circle cx="243" cy="24" r="0.9" opacity="0.2"/><circle cx="648" cy="113" r="1.8" opacity="0.3"/><circle cx="590" cy="228" r="0.9" opacity="0.2"/><circle cx="622" cy="65" r="1.3" opacity="0.2"/><circle cx="198" cy="252" r="1.8" opacity="0.4"/><circle cx="467" cy="217" r="1.5" opacity="0.3"/><circle cx="85" cy="201" r="1.0" opacity="0.2"/><circle cx="129" cy="85" r="1.7" opacity="0.2"/><circle cx="395" cy="19" r="1.8" opacity="0.6"/><circle cx="316" cy="201" r="1.1" opacity="0.3"/><circle cx="7" cy="101" r="0.9" opacity="0.4"/><circle cx="380" cy="152" r="1.5" opacity="0.6"/><circle cx="452" cy="171" r="1.6" opacity="0.7"/><circle cx="349" cy="249" r="1.3" opacity="0.7"/><circle cx="139" cy="137" r="1.8" opacity="0.5"/><circle cx="481" cy="119" r="1.1" opacity="0.6"/><circle cx="66" cy="49" r="1.7" opacity="0.6"/><circle cx="123" cy="58" r="1.7" opacity="0.4"/><circle cx="224" cy="252" r="1.8" opacity="0.5"/><circle cx="291" cy="82" r="1.8" opacity="0.4"/><circle cx="160" cy="140" r="0.9" opacity="0.5"/><circle cx="154" cy="17" r="1.2" opacity="0.5"/><circle cx="524" cy="222" r="1.6" opacity="0.4"/><circle cx="597" cy="173" r="1.5" opacity="0.4"/><circle cx="175" cy="252" r="1.0" opacity="0.6"/><circle cx="343" cy="217" r="1.8" opacity="0.3"/><circle cx="532" cy="157" r="1.8" opacity="0.6"/><circle cx="435" cy="153" r="1.7" opacity="0.6"/><circle cx="279" cy="105" r="1.8" opacity="0.2"/><circle cx="656" cy="122" r="1.2" opacity="0.2"/><circle cx="340" cy="14" r="1.8" opacity="0.2"/><circle cx="220" cy="153" r="1.1" opacity="0.4"/><circle cx="140" cy="30" r="1.3" opacity="0.5"/><circle cx="623" cy="52" r="1.0" opacity="0.3"/><circle cx="570" cy="91" r="1.7" opacity="0.5"/><circle cx="160" cy="182" r="1.4" opacity="0.6"/><circle cx="306" cy="135" r="1.0" opacity="0.5"/><circle cx="78" cy="100" r="1.4" opacity="0.4"/><circle cx="608" cy="105" r="0.9" opacity="0.7"/><circle cx="138" cy="53" r="1.2" opacity="0.3"/><circle cx="273" cy="21" r="1.6" opacity="0.2"/><circle cx="39" cy="143" r="1.5" opacity="0.6"/><circle cx="653" cy="95" r="0.9" opacity="0.6"/><circle cx="351" cy="93" r="1.2" opacity="0.6"/><circle cx="116" cy="220" r="1.0" opacity="0.6"/><circle cx="302" cy="173" r="1.1" opacity="0.4"/><circle cx="83" cy="141" r="1.3" opacity="0.6"/><circle cx="269" cy="154" r="1.7" opacity="0.5"/><circle cx="251" cy="165" r="1.4" opacity="0.5"/><circle cx="169" cy="189" r="1.2" opacity="0.7"/><circle cx="18" cy="138" r="1.5" opacity="0.7"/><circle cx="189" cy="140" r="1.8" opacity="0.6"/><circle cx="447" cy="126" r="1.5" opacity="0.4"/><circle cx="162" cy="2" r="1.3" opacity="0.7"/><circle cx="590" cy="33" r="1.7" opacity="0.2"/><circle cx="564" cy="228" r="1.1" opacity="0.2"/><circle cx="32" cy="1" r="1.8" opacity="0.6"/><circle cx="384" cy="235" r="1.4" opacity="0.2"/><circle cx="575" cy="20" r="1.6" opacity="0.3"/><circle cx="517" cy="128" r="1.2" opacity="0.3"/><circle cx="86" cy="105" r="1.7" opacity="0.2"/><circle cx="43" cy="166" r="1.5" opacity="0.2"/><circle cx="189" cy="141" r="1.6" opacity="0.4"/><circle cx="335" cy="67" r="1.3" opacity="0.3"/><circle cx="424" cy="69" r="1.4" opacity="0.2"/><circle cx="416" cy="119" r="1.6" opacity="0.5"/><circle cx="127" cy="223" r="1.6" opacity="0.6"/><circle cx="408" cy="208" r="1.2" opacity="0.2"/><circle cx="223" cy="228" r="1.9" opacity="0.6"/><circle cx="472" cy="186" r="0.9" opacity="0.2"/><circle cx="338" cy="58" r="1.4" opacity="0.2"/><circle cx="236" cy="119" r="1.6" opacity="0.5"/><circle cx="573" cy="175" r="1.8" opacity="0.2"/><circle cx="437" cy="112" r="1.5" opacity="0.2"/><circle cx="38" cy="53" r="1.4" opacity="0.6"/><circle cx="157" cy="149" r="1.1" opacity="0.2"/><circle cx="289" cy="161" r="1.3" opacity="0.7"/><circle cx="195" cy="127" r="1.0" opacity="0.4"/><circle cx="640" cy="122" r="1.8" opacity="0.2"/><circle cx="172" cy="75" r="1.6" opacity="0.6"/><circle cx="8" cy="105" r="1.9" opacity="0.5"/><circle cx="569" cy="212" r="1.3" opacity="0.6"/><circle cx="279" cy="75" r="1.3" opacity="0.4"/><circle cx="315" cy="66" r="1.4" opacity="0.3"/><circle cx="74" cy="96" r="1.1" opacity="0.5"/><circle cx="178" cy="223" r="1.8" opacity="0.6"/><circle cx="84" cy="77" r="1.8" opacity="0.5"/><circle cx="23" cy="58" r="1.3" opacity="0.6"/><circle cx="64" cy="161" r="1.5" opacity="0.2"/><circle cx="297" cy="72" r="1.3" opacity="0.3"/><circle cx="504" cy="40" r="1.7" opacity="0.3"/><circle cx="514" cy="80" r="0.9" opacity="0.4"/><circle cx="33" cy="85" r="1.6" opacity="0.5"/><circle cx="394" cy="186" r="1.8" opacity="0.3"/><circle cx="68" cy="181" r="1.3" opacity="0.2"/><circle cx="128" cy="184" r="1.3" opacity="0.2"/><circle cx="325" cy="112" r="1.4" opacity="0.6"/><circle cx="359" cy="1" r="1.0" opacity="0.3"/><circle cx="286" cy="202" r="1.2" opacity="0.6"/><circle cx="434" cy="122" r="1.3" opacity="0.5"/><circle cx="255" cy="57" r="1.1" opacity="0.4"/><circle cx="43" cy="10" r="1.7" opacity="0.5"/><circle cx="19" cy="133" r="1.1" opacity="0.7"/><circle cx="570" cy="24" r="1.8" opacity="0.6"/><circle cx="78" cy="164" r="1.8" opacity="0.4"/><circle cx="477" cy="81" r="1.1" opacity="0.6"/><circle cx="383" cy="38" r="1.0" opacity="0.6"/><circle cx="94" cy="24" r="1.4" opacity="0.7"/><circle cx="655" cy="78" r="1.1" opacity="0.2"/><circle cx="158" cy="172" r="1.0" opacity="0.4"/><circle cx="247" cy="225" r="1.8" opacity="0.6"/><circle cx="541" cy="164" r="1.9" opacity="0.2"/><circle cx="334" cy="71" r="1.2" opacity="0.5"/><circle cx="634" cy="59" r="1.3" opacity="0.6"/><circle cx="535" cy="26" r="0.9" opacity="0.5"/><circle cx="270" cy="200" r="1.5" opacity="0.6"/><circle cx="659" cy="81" r="1.5" opacity="0.2"/><circle cx="615" cy="64" r="1.7" opacity="0.6"/><circle cx="179" cy="24" r="1.0" opacity="0.5"/><circle cx="78" cy="19" r="1.2" opacity="0.4"/><circle cx="300" cy="41" r="1.7" opacity="0.2"/><circle cx="279" cy="162" r="1.9" opacity="0.6"/><circle cx="614" cy="118" r="1.7" opacity="0.2"/><circle cx="528" cy="223" r="1.1" opacity="0.4"/><circle cx="544" cy="54" r="1.5" opacity="0.5"/><circle cx="148" cy="195" r="1.7" opacity="0.5"/><circle cx="194" cy="175" r="1.6" opacity="0.6"/><circle cx="568" cy="70" r="0.9" opacity="0.2"/><circle cx="351" cy="117" r="1.9" opacity="0.2"/><circle cx="131" cy="84" r="1.5" opacity="0.3"/><circle cx="426" cy="42" r="1.7" opacity="0.4"/><circle cx="161" cy="204" r="1.5" opacity="0.7"/><circle cx="468" cy="213" r="1.7" opacity="0.6"/><circle cx="392" cy="205" r="1.5" opacity="0.5"/><circle cx="244" cy="241" r="1.1" opacity="0.2"/><circle cx="210" cy="184" r="1.7" opacity="0.6"/><circle cx="395" cy="188" r="1.5" opacity="0.4"/><circle cx="263" cy="192" r="1.6" opacity="0.3"/><circle cx="153" cy="160" r="1.4" opacity="0.4"/><circle cx="158" cy="107" r="1.2" opacity="0.3"/><circle cx="291" cy="152" r="1.1" opacity="0.4"/><circle cx="588" cy="128" r="1.0" opacity="0.3"/><circle cx="149" cy="166" r="1.7" opacity="0.6"/><circle cx="560" cy="87" r="1.4" opacity="0.4"/><circle cx="100" cy="202" r="1.6" opacity="0.2"/><circle cx="138" cy="61" r="1.3" opacity="0.6"/><circle cx="236" cy="117" r="1.8" opacity="0.7"/><circle cx="182" cy="76" r="1.3" opacity="0.3"/><circle cx="175" cy="48" r="1.5" opacity="0.4"/><circle cx="339" cy="48" r="1.7" opacity="0.3"/><circle cx="42" cy="168" r="0.9" opacity="0.3"/><circle cx="191" cy="125" r="1.8" opacity="0.2"/><circle cx="195" cy="93" r="1.3" opacity="0.5"/><circle cx="482" cy="218" r="1.1" opacity="0.7"/><circle cx="206" cy="117" r="1.4" opacity="0.2"/><circle cx="101" cy="124" r="1.8" opacity="0.7"/><circle cx="552" cy="21" r="1.2" opacity="0.7"/><circle cx="631" cy="82" r="1.1" opacity="0.2"/><circle cx="407" cy="235" r="1.1" opacity="0.4"/><circle cx="651" cy="8" r="1.6" opacity="0.5"/><circle cx="279" cy="71" r="1.8" opacity="0.3"/><circle cx="501" cy="81" r="1.7" opacity="0.3"/><circle cx="502" cy="119" r="1.5" opacity="0.7"/><circle cx="59" cy="77" r="1.5" opacity="0.2"/><circle cx="481" cy="77" r="1.4" opacity="0.4"/><circle cx="410" cy="106" r="1.5" opacity="0.7"/><circle cx="161" cy="57" r="1.1" opacity="0.3"/><circle cx="656" cy="10" r="1.3" opacity="0.4"/><circle cx="77" cy="12" r="1.2" opacity="0.5"/><circle cx="170" cy="217" r="1.3" opacity="0.3"/><circle cx="399" cy="4" r="0.9" opacity="0.3"/><circle cx="75" cy="41" r="1.5" opacity="0.2"/><circle cx="334" cy="129" r="1.1" opacity="0.4"/><circle cx="176" cy="115" r="1.7" opacity="0.7"/><circle cx="265" cy="42" r="1.0" opacity="0.4"/><circle cx="343" cy="5" r="1.0" opacity="0.5"/><circle cx="467" cy="197" r="1.3" opacity="0.6"/><circle cx="645" cy="14" r="1.2" opacity="0.6"/><circle cx="417" cy="227" r="1.5" opacity="0.4"/><circle cx="317" cy="60" r="1.7" opacity="0.5"/><circle cx="585" cy="82" r="1.3" opacity="0.2"/><circle cx="223" cy="187" r="1.2" opacity="0.5"/><circle cx="398" cy="171" r="1.2" opacity="0.5"/><circle cx="50" cy="80" r="1.2" opacity="0.2"/><circle cx="533" cy="54" r="1.7" opacity="0.6"/><circle cx="297" cy="61" r="1.2" opacity="0.5"/><circle cx="518" cy="141" r="1.1" opacity="0.2"/><circle cx="205" cy="239" r="1.5" opacity="0.4"/><circle cx="552" cy="172" r="1.6" opacity="0.6"/><circle cx="387" cy="197" r="1.0" opacity="0.7"/><circle cx="494" cy="35" r="1.3" opacity="0.6"/><circle cx="617" cy="117" r="1.8" opacity="0.2"/><circle cx="623" cy="98" r="1.3" opacity="0.4"/><circle cx="61" cy="55" r="1.2" opacity="0.3"/><circle cx="184" cy="48" r="1.4" opacity="0.6"/><circle cx="248" cy="48" r="1.7" opacity="0.7"/><circle cx="420" cy="195" r="1.1" opacity="0.2"/><circle cx="575" cy="143" r="1.2" opacity="0.7"/><circle cx="15" cy="26" r="0.9" opacity="0.3"/><circle cx="217" cy="192" r="1.3" opacity="0.2"/><circle cx="563" cy="9" r="1.5" opacity="0.2"/><circle cx="123" cy="83" r="1.7" opacity="0.7"/><circle cx="298" cy="133" r="1.0" opacity="0.4"/><circle cx="252" cy="241" r="1.6" opacity="0.4"/><circle cx="552" cy="178" r="1.7" opacity="0.6"/><circle cx="457" cy="151" r="1.4" opacity="0.5"/><circle cx="522" cy="160" r="1.7" opacity="0.2"/><circle cx="105" cy="88" r="1.3" opacity="0.4"/><circle cx="469" cy="137" r="1.3" opacity="0.3"/><circle cx="353" cy="35" r="1.0" opacity="0.6"/><circle cx="37" cy="38" r="1.1" opacity="0.4"/><circle cx="277" cy="236" r="1.6" opacity="0.3"/><circle cx="202" cy="34" r="1.5" opacity="0.7"/><circle cx="86" cy="93" r="1.2" opacity="0.3"/><circle cx="545" cy="134" r="1.3" opacity="0.7"/><circle cx="476" cy="175" r="1.0" opacity="0.3"/><circle cx="231" cy="254" r="1.1" opacity="0.3"/><circle cx="450" cy="208" r="1.3" opacity="0.7"/><circle cx="599" cy="154" r="1.2" opacity="0.3"/><circle cx="5" cy="122" r="1.6" opacity="0.4"/><circle cx="333" cy="189" r="1.5" opacity="0.6"/><circle cx="244" cy="55" r="1.3" opacity="0.5"/><circle cx="446" cy="43" r="1.4" opacity="0.7"/><circle cx="560" cy="15" r="1.4" opacity="0.4"/><circle cx="257" cy="19" r="1.0" opacity="0.3"/><circle cx="141" cy="229" r="1.7" opacity="0.2"/><circle cx="280" cy="230" r="1.1" opacity="0.7"/><circle cx="599" cy="164" r="1.7" opacity="0.2"/><circle cx="59" cy="166" r="1.6" opacity="0.5"/><circle cx="207" cy="151" r="1.4" opacity="0.6"/><circle cx="613" cy="194" r="1.6" opacity="0.6"/><circle cx="458" cy="186" r="1.7" opacity="0.7"/><circle cx="642" cy="151" r="1.8" opacity="0.4"/><circle cx="197" cy="170" r="1.6" opacity="0.7"/><circle cx="583" cy="47" r="1.2" opacity="0.7"/><circle cx="550" cy="188" r="1.0" opacity="0.3"/><circle cx="431" cy="24" r="1.2" opacity="0.2"/><circle cx="276" cy="128" r="1.3" opacity="0.5"/><circle cx="362" cy="149" r="1.3" opacity="0.5"/><circle cx="251" cy="96" r="1.8" opacity="0.5"/><circle cx="522" cy="12" r="1.0" opacity="0.4"/><circle cx="524" cy="196" r="1.1" opacity="0.6"/><circle cx="512" cy="3" r="1.4" opacity="0.6"/><circle cx="635" cy="87" r="1.1" opacity="0.2"/><circle cx="234" cy="99" r="1.9" opacity="0.5"/><circle cx="167" cy="183" r="1.5" opacity="0.3"/><circle cx="280" cy="96" r="1.8" opacity="0.3"/><circle cx="434" cy="32" r="1.1" opacity="0.6"/><circle cx="82" cy="70" r="0.9" opacity="0.6"/><circle cx="518" cy="28" r="1.5" opacity="0.3"/><circle cx="462" cy="235" r="1.1" opacity="0.7"/><circle cx="128" cy="77" r="1.8" opacity="0.7"/><circle cx="426" cy="182" r="1.0" opacity="0.4"/><circle cx="409" cy="29" r="1.7" opacity="0.5"/><circle cx="532" cy="208" r="1.1" opacity="0.2"/><circle cx="445" cy="119" r="0.9" opacity="0.6"/><circle cx="39" cy="135" r="1.3" opacity="0.3"/><circle cx="638" cy="105" r="1.4" opacity="0.6"/><circle cx="498" cy="189" r="1.5" opacity="0.2"/><circle cx="168" cy="97" r="1.1" opacity="0.7"/><circle cx="547" cy="105" r="1.6" opacity="0.3"/><circle cx="367" cy="184" r="1.9" opacity="0.4"/><circle cx="519" cy="90" r="1.5" opacity="0.6"/><circle cx="660" cy="45" r="1.8" opacity="0.4"/><circle cx="643" cy="203" r="1.0" opacity="0.4"/><circle cx="323" cy="247" r="1.6" opacity="0.2"/><circle cx="228" cy="68" r="1.7" opacity="0.3"/><circle cx="596" cy="31" r="1.6" opacity="0.5"/><circle cx="312" cy="214" r="1.6" opacity="0.4"/><circle cx="122" cy="18" r="1.1" opacity="0.6"/><circle cx="239" cy="212" r="1.4" opacity="0.4"/><circle cx="192" cy="95" r="1.5" opacity="0.5"/><circle cx="203" cy="214" r="1.4" opacity="0.4"/><circle cx="223" cy="204" r="1.0" opacity="0.3"/><circle cx="591" cy="10" r="1.1" opacity="0.7"/><circle cx="530" cy="53" r="1.1" opacity="0.2"/><circle cx="498" cy="177" r="0.9" opacity="0.3"/><circle cx="573" cy="65" r="1.0" opacity="0.6"/><circle cx="212" cy="49" r="1.0" opacity="0.3"/><circle cx="216" cy="113" r="1.8" opacity="0.4"/><circle cx="243" cy="113" r="1.8" opacity="0.4"/><circle cx="92" cy="36" r="1.0" opacity="0.3"/><circle cx="232" cy="3" r="1.9" opacity="0.6"/><circle cx="301" cy="90" r="1.3" opacity="0.6"/><circle cx="386" cy="129" r="1.7" opacity="0.2"/><circle cx="474" cy="66" r="1.0" opacity="0.3"/><circle cx="258" cy="242" r="1.1" opacity="0.6"/><circle cx="422" cy="140" r="1.6" opacity="0.4"/><circle cx="107" cy="228" r="1.7" opacity="0.4"/><circle cx="491" cy="99" r="1.8" opacity="0.2"/><circle cx="594" cy="24" r="1.5" opacity="0.2"/><circle cx="579" cy="164" r="1.7" opacity="0.5"/><circle cx="536" cy="47" r="1.4" opacity="0.4"/><circle cx="629" cy="62" r="1.8" opacity="0.4"/><circle cx="410" cy="77" r="1.5" opacity="0.4"/><circle cx="339" cy="37" r="1.2" opacity="0.6"/><circle cx="71" cy="99" r="1.3" opacity="0.5"/><circle cx="552" cy="222" r="1.0" opacity="0.4"/><circle cx="157" cy="74" r="1.2" opacity="0.2"/><circle cx="103" cy="73" r="1.5" opacity="0.4"/><circle cx="157" cy="185" r="1.2" opacity="0.5"/><circle cx="130" cy="30" r="1.8" opacity="0.6"/><circle cx="133" cy="1" r="1.0" opacity="0.4"/><circle cx="248" cy="193" r="1.4" opacity="0.3"/><circle cx="12" cy="66" r="1.4" opacity="0.2"/><circle cx="178" cy="58" r="1.3" opacity="0.6"/><circle cx="332" cy="177" r="1.0" opacity="0.4"/><circle cx="356" cy="3" r="1.2" opacity="0.4"/><circle cx="551" cy="70" r="1.3" opacity="0.6"/><circle cx="575" cy="191" r="1.6" opacity="0.6"/><circle cx="657" cy="170" r="1.0" opacity="0.4"/><circle cx="76" cy="43" r="0.9" opacity="0.5"/><circle cx="186" cy="77" r="1.7" opacity="0.7"/><circle cx="214" cy="49" r="1.8" opacity="0.3"/><circle cx="489" cy="59" r="1.5" opacity="0.6"/><circle cx="397" cy="40" r="1.1" opacity="0.5"/><circle cx="601" cy="196" r="1.0" opacity="0.6"/><circle cx="514" cy="89" r="0.9" opacity="0.4"/><circle cx="284" cy="26" r="1.4" opacity="0.6"/><circle cx="118" cy="217" r="1.8" opacity="0.5"/><circle cx="358" cy="127" r="1.5" opacity="0.2"/><circle cx="294" cy="69" r="1.9" opacity="0.5"/><circle cx="134" cy="12" r="1.1" opacity="0.6"/><circle cx="656" cy="43" r="1.5" opacity="0.7"/><circle cx="489" cy="30" r="1.0" opacity="0.6"/><circle cx="154" cy="24" r="1.0" opacity="0.5"/><circle cx="609" cy="120" r="1.7" opacity="0.2"/><circle cx="62" cy="97" r="1.5" opacity="0.3"/><circle cx="454" cy="132" r="1.2" opacity="0.2"/><circle cx="81" cy="56" r="1.3" opacity="0.6"/><circle cx="56" cy="9" r="1.5" opacity="0.2"/><circle cx="581" cy="126" r="1.5" opacity="0.2"/><circle cx="551" cy="103" r="1.9" opacity="0.7"/><circle cx="164" cy="23" r="1.3" opacity="0.3"/><circle cx="68" cy="136" r="1.3" opacity="0.2"/><circle cx="257" cy="46" r="1.4" opacity="0.3"/><circle cx="316" cy="117" r="0.9" opacity="0.6"/><circle cx="123" cy="163" r="1.2" opacity="0.7"/><circle cx="360" cy="190" r="1.7" opacity="0.2"/><circle cx="298" cy="23" r="1.8" opacity="0.5"/><circle cx="585" cy="71" r="1.5" opacity="0.4"/><circle cx="468" cy="220" r="1.4" opacity="0.4"/><circle cx="309" cy="50" r="1.5" opacity="0.6"/><circle cx="499" cy="178" r="1.4" opacity="0.4"/><circle cx="128" cy="72" r="1.2" opacity="0.2"/><circle cx="417" cy="242" r="1.2" opacity="0.4"/><circle cx="535" cy="219" r="1.9" opacity="0.7"/><circle cx="552" cy="112" r="1.7" opacity="0.7"/><circle cx="384" cy="183" r="1.2" opacity="0.5"/><circle cx="71" cy="164" r="1.6" opacity="0.6"/><circle cx="60" cy="184" r="1.5" opacity="0.2"/><circle cx="249" cy="44" r="1.5" opacity="0.3"/><circle cx="267" cy="136" r="1.3" opacity="0.7"/><circle cx="271" cy="87" r="0.9" opacity="0.5"/><circle cx="585" cy="26" r="1.3" opacity="0.4"/><circle cx="515" cy="117" r="0.9" opacity="0.2"/><circle cx="76" cy="204" r="1.0" opacity="0.3"/><circle cx="41" cy="87" r="1.1" opacity="0.3"/><circle cx="618" cy="224" r="1.2" opacity="0.2"/><circle cx="20" cy="101" r="0.9" opacity="0.6"/><circle cx="168" cy="226" r="1.2" opacity="0.3"/><circle cx="282" cy="194" r="1.5" opacity="0.6"/><circle cx="227" cy="2" r="1.5" opacity="0.7"/><circle cx="355" cy="169" r="0.9" opacity="0.3"/><circle cx="594" cy="209" r="1.5" opacity="0.6"/><circle cx="520" cy="129" r="1.8" opacity="0.3"/><circle cx="196" cy="159" r="1.5" opacity="0.3"/><circle cx="252" cy="14" r="1.7" opacity="0.6"/><circle cx="269" cy="169" r="1.0" opacity="0.4"/><circle cx="135" cy="151" r="1.5" opacity="0.3"/><circle cx="121" cy="134" r="1.1" opacity="0.6"/><circle cx="459" cy="222" r="1.4" opacity="0.2"/><circle cx="391" cy="125" r="0.9" opacity="0.6"/><circle cx="586" cy="212" r="1.1" opacity="0.6"/><circle cx="327" cy="157" r="1.7" opacity="0.2"/><circle cx="542" cy="99" r="1.0" opacity="0.4"/><circle cx="129" cy="201" r="1.2" opacity="0.5"/><circle cx="60" cy="189" r="1.6" opacity="0.5"/><circle cx="59" cy="130" r="1.2" opacity="0.4"/><circle cx="532" cy="212" r="1.3" opacity="0.7"/><circle cx="223" cy="228" r="1.0" opacity="0.6"/><circle cx="567" cy="52" r="1.2" opacity="0.5"/><circle cx="539" cy="87" r="1.1" opacity="0.4"/><circle cx="267" cy="191" r="1.1" opacity="0.4"/><circle cx="302" cy="51" r="1.1" opacity="0.7"/><circle cx="153" cy="43" r="1.2" opacity="0.2"/><circle cx="121" cy="65" r="1.7" opacity="0.6"/><circle cx="200" cy="221" r="1.2" opacity="0.5"/><circle cx="169" cy="38" r="1.5" opacity="0.3"/><circle cx="542" cy="145" r="1.5" opacity="0.7"/><circle cx="150" cy="200" r="1.7" opacity="0.6"/><circle cx="186" cy="63" r="1.5" opacity="0.3"/><circle cx="483" cy="106" r="1.0" opacity="0.6"/><circle cx="627" cy="142" r="1.5" opacity="0.6"/><circle cx="278" cy="202" r="1.3" opacity="0.7"/><circle cx="521" cy="157" r="1.5" opacity="0.2"/><circle cx="613" cy="119" r="1.1" opacity="0.6"/><circle cx="369" cy="71" r="1.1" opacity="0.3"/><circle cx="24" cy="39" r="1.8" opacity="0.3"/><circle cx="191" cy="98" r="1.0" opacity="0.5"/><circle cx="209" cy="166" r="1.8" opacity="0.6"/><circle cx="664" cy="42" r="1.7" opacity="0.3"/><circle cx="41" cy="84" r="1.0" opacity="0.2"/><circle cx="215" cy="154" r="1.3" opacity="0.3"/><circle cx="332" cy="46" r="1.2" opacity="0.2"/><circle cx="537" cy="83" r="1.6" opacity="0.4"/><circle cx="48" cy="85" r="1.4" opacity="0.6"/><circle cx="422" cy="5" r="1.1" opacity="0.5"/><circle cx="101" cy="209" r="1.9" opacity="0.6"/><circle cx="588" cy="151" r="1.7" opacity="0.4"/><circle cx="592" cy="115" r="1.6" opacity="0.5"/><circle cx="430" cy="110" r="1.2" opacity="0.5"/><circle cx="73" cy="161" r="1.0" opacity="0.6"/><circle cx="205" cy="119" r="1.0" opacity="0.3"/><circle cx="577" cy="125" r="1.4" opacity="0.3"/><circle cx="464" cy="64" r="1.8" opacity="0.6"/><circle cx="354" cy="114" r="1.6" opacity="0.2"/><circle cx="664" cy="30" r="1.9" opacity="0.6"/><circle cx="357" cy="212" r="1.5" opacity="0.6"/><circle cx="263" cy="172" r="1.7" opacity="0.5"/><circle cx="52" cy="62" r="1.7" opacity="0.5"/><circle cx="298" cy="231" r="1.6" opacity="0.2"/><circle cx="162" cy="250" r="1.4" opacity="0.2"/><circle cx="453" cy="138" r="1.3" opacity="0.4"/><circle cx="235" cy="163" r="0.9" opacity="0.3"/><circle cx="239" cy="145" r="1.1" opacity="0.4"/><circle cx="392" cy="49" r="1.1" opacity="0.6"/><circle cx="103" cy="53" r="1.7" opacity="0.3"/><circle cx="396" cy="207" r="1.3" opacity="0.4"/><circle cx="335" cy="218" r="1.8" opacity="0.5"/><circle cx="277" cy="123" r="1.7" opacity="0.5"/><circle cx="442" cy="77" r="1.4" opacity="0.7"/><circle cx="27" cy="36" r="1.4" opacity="0.7"/><circle cx="204" cy="167" r="1.5" opacity="0.4"/><circle cx="429" cy="46" r="1.5" opacity="0.6"/><circle cx="380" cy="199" r="1.5" opacity="0.2"/><circle cx="325" cy="183" r="1.1" opacity="0.4"/><circle cx="578" cy="174" r="1.9" opacity="0.5"/><circle cx="613" cy="104" r="1.8" opacity="0.3"/><circle cx="636" cy="167" r="1.6" opacity="0.5"/><circle cx="13" cy="135" r="1.1" opacity="0.6"/><circle cx="332" cy="120" r="1.3" opacity="0.4"/><circle cx="80" cy="122" r="1.4" opacity="0.3"/><circle cx="77" cy="168" r="1.3" opacity="0.4"/><circle cx="540" cy="238" r="1.1" opacity="0.3"/><circle cx="138" cy="81" r="1.0" opacity="0.4"/><circle cx="340" cy="47" r="1.4" opacity="0.3"/><circle cx="352" cy="146" r="1.3" opacity="0.7"/><circle cx="218" cy="216" r="1.6" opacity="0.4"/><circle cx="477" cy="20" r="1.5" opacity="0.6"/><circle cx="327" cy="51" r="1.1" opacity="0.4"/><circle cx="483" cy="241" r="1.2" opacity="0.7"/><circle cx="518" cy="34" r="1.5" opacity="0.6"/><circle cx="626" cy="1" r="1.1" opacity="0.7"/><circle cx="471" cy="49" r="1.2" opacity="0.4"/><circle cx="388" cy="72" r="1.1" opacity="0.4"/><circle cx="103" cy="13" r="1.4" opacity="0.5"/><circle cx="165" cy="6" r="1.5" opacity="0.3"/><circle cx="83" cy="68" r="1.8" opacity="0.4"/><circle cx="421" cy="113" r="0.9" opacity="0.5"/><circle cx="201" cy="191" r="1.3" opacity="0.4"/><circle cx="615" cy="7" r="1.2" opacity="0.3"/><circle cx="138" cy="128" r="1.4" opacity="0.3"/><circle cx="591" cy="103" r="1.0" opacity="0.3"/><circle cx="248" cy="125" r="1.6" opacity="0.2"/><circle cx="279" cy="214" r="1.2" opacity="0.3"/><circle cx="223" cy="96" r="1.6" opacity="0.2"/><circle cx="242" cy="252" r="1.6" opacity="0.3"/><circle cx="240" cy="48" r="1.4" opacity="0.4"/><circle cx="408" cy="224" r="1.6" opacity="0.7"/><circle cx="533" cy="192" r="1.5" opacity="0.3"/><circle cx="334" cy="103" r="1.1" opacity="0.5"/><circle cx="661" cy="37" r="1.6" opacity="0.6"/><circle cx="612" cy="23" r="1.4" opacity="0.5"/><circle cx="123" cy="89" r="1.1" opacity="0.6"/><circle cx="460" cy="27" r="1.9" opacity="0.5"/><circle cx="232" cy="80" r="1.6" opacity="0.4"/><circle cx="304" cy="79" r="1.9" opacity="0.2"/><circle cx="314" cy="160" r="1.2" opacity="0.4"/><circle cx="117" cy="196" r="1.5" opacity="0.4"/><circle cx="401" cy="149" r="1.9" opacity="0.5"/><circle cx="206" cy="97" r="1.0" opacity="0.3"/><circle cx="447" cy="126" r="1.8" opacity="0.5"/><circle cx="504" cy="122" r="1.6" opacity="0.3"/><circle cx="310" cy="31" r="0.9" opacity="0.5"/><circle cx="373" cy="52" r="1.0" opacity="0.6"/><circle cx="207" cy="1" r="1.7" opacity="0.5"/><circle cx="0" cy="85" r="1.7" opacity="0.5"/><circle cx="195" cy="251" r="1.2" opacity="0.4"/><circle cx="173" cy="151" r="0.9" opacity="0.4"/><circle cx="298" cy="98" r="1.0" opacity="0.3"/><circle cx="30" cy="27" r="1.3" opacity="0.7"/><circle cx="585" cy="29" r="1.0" opacity="0.2"/><circle cx="516" cy="214" r="1.6" opacity="0.5"/><circle cx="615" cy="102" r="1.2" opacity="0.3"/><circle cx="213" cy="172" r="0.9" opacity="0.3"/><circle cx="245" cy="67" r="1.2" opacity="0.5"/><circle cx="538" cy="50" r="1.6" opacity="0.6"/><circle cx="448" cy="32" r="1.8" opacity="0.5"/><circle cx="139" cy="101" r="1.7" opacity="0.6"/><circle cx="357" cy="45" r="1.3" opacity="0.7"/><circle cx="617" cy="4" r="1.2" opacity="0.3"/><circle cx="191" cy="224" r="1.3" opacity="0.6"/><circle cx="417" cy="34" r="0.9" opacity="0.5"/><circle cx="496" cy="30" r="1.5" opacity="0.2"/><circle cx="421" cy="8" r="1.0" opacity="0.3"/><circle cx="625" cy="89" r="1.4" opacity="0.5"/><circle cx="9" cy="92" r="1.4" opacity="0.7"/><circle cx="645" cy="89" r="1.2" opacity="0.2"/><circle cx="137" cy="196" r="1.6" opacity="0.6"/><circle cx="366" cy="41" r="1.4" opacity="0.5"/><circle cx="206" cy="51" r="1.3" opacity="0.7"/><circle cx="32" cy="119" r="1.7" opacity="0.7"/><circle cx="386" cy="92" r="1.5" opacity="0.6"/><circle cx="315" cy="235" r="1.4" opacity="0.5"/><circle cx="33" cy="16" r="1.0" opacity="0.5"/><circle cx="268" cy="240" r="1.7" opacity="0.6"/><circle cx="547" cy="233" r="1.7" opacity="0.2"/><circle cx="528" cy="91" r="1.9" opacity="0.3"/><circle cx="449" cy="8" r="1.5" opacity="0.4"/><circle cx="257" cy="157" r="1.6" opacity="0.4"/><circle cx="438" cy="186" r="1.3" opacity="0.2"/><circle cx="295" cy="217" r="1.2" opacity="0.4"/><circle cx="544" cy="136" r="1.2" opacity="0.2"/><circle cx="232" cy="109" r="1.5" opacity="0.3"/><circle cx="656" cy="193" r="1.2" opacity="0.6"/><circle cx="66" cy="60" r="1.1" opacity="0.3"/><circle cx="64" cy="176" r="1.5" opacity="0.4"/><circle cx="384" cy="174" r="1.0" opacity="0.5"/><circle cx="459" cy="213" r="1.7" opacity="0.2"/><circle cx="269" cy="229" r="1.1" opacity="0.2"/><circle cx="2" cy="83" r="1.0" opacity="0.2"/><circle cx="177" cy="195" r="1.8" opacity="0.2"/><circle cx="149" cy="19" r="1.2" opacity="0.3"/><circle cx="300" cy="96" r="1.7" opacity="0.2"/><circle cx="198" cy="221" r="1.8" opacity="0.2"/><circle cx="357" cy="166" r="1.6" opacity="0.4"/><circle cx="404" cy="243" r="1.5" opacity="0.2"/><circle cx="214" cy="251" r="1.0" opacity="0.2"/><circle cx="411" cy="174" r="1.6" opacity="0.4"/><circle cx="315" cy="45" r="1.0" opacity="0.5"/><circle cx="336" cy="211" r="0.9" opacity="0.7"/><circle cx="93" cy="211" r="1.6" opacity="0.3"/><circle cx="362" cy="97" r="1.7" opacity="0.2"/><circle cx="167" cy="217" r="1.4" opacity="0.4"/><circle cx="247" cy="21" r="1.3" opacity="0.3"/><circle cx="216" cy="69" r="1.7" opacity="0.4"/><circle cx="160" cy="252" r="1.7" opacity="0.5"/><circle cx="629" cy="228" r="1.0" opacity="0.6"/><circle cx="212" cy="212" r="1.2" opacity="0.3"/><circle cx="191" cy="78" r="1.2" opacity="0.2"/><circle cx="56" cy="154" r="1.3" opacity="0.2"/><circle cx="93" cy="72" r="1.9" opacity="0.3"/><circle cx="438" cy="170" r="1.0" opacity="0.7"/><circle cx="474" cy="78" r="1.7" opacity="0.6"/><circle cx="335" cy="241" r="0.9" opacity="0.3"/><circle cx="120" cy="70" r="1.5" opacity="0.3"/><circle cx="370" cy="64" r="1.2" opacity="0.2"/><circle cx="574" cy="132" r="1.8" opacity="0.4"/><circle cx="10" cy="79" r="1.9" opacity="0.2"/><circle cx="238" cy="64" r="1.1" opacity="0.6"/><circle cx="524" cy="93" r="1.3" opacity="0.4"/><circle cx="527" cy="118" r="1.7" opacity="0.4"/><circle cx="173" cy="69" r="1.5" opacity="0.3"/><circle cx="363" cy="228" r="1.6" opacity="0.6"/><circle cx="120" cy="231" r="1.4" opacity="0.5"/><circle cx="384" cy="192" r="1.8" opacity="0.6"/><circle cx="615" cy="146" r="1.2" opacity="0.5"/><circle cx="343" cy="142" r="1.3" opacity="0.6"/><circle cx="358" cy="115" r="0.9" opacity="0.4"/><circle cx="209" cy="163" r="1.7" opacity="0.3"/><circle cx="289" cy="198" r="1.3" opacity="0.5"/><circle cx="279" cy="85" r="1.9" opacity="0.3"/><circle cx="206" cy="230" r="1.6" opacity="0.5"/><circle cx="227" cy="179" r="1.4" opacity="0.5"/><circle cx="267" cy="85" r="1.0" opacity="0.4"/><circle cx="90" cy="163" r="1.7" opacity="0.7"/><circle cx="636" cy="5" r="1.5" opacity="0.4"/><circle cx="334" cy="112" r="1.9" opacity="0.3"/><circle cx="473" cy="106" r="1.5" opacity="0.6"/><circle cx="86" cy="105" r="1.7" opacity="0.4"/><circle cx="206" cy="198" r="1.1" opacity="0.2"/><circle cx="85" cy="32" r="1.2" opacity="0.5"/><circle cx="465" cy="221" r="1.7" opacity="0.2"/><circle cx="376" cy="72" r="1.1" opacity="0.4"/><circle cx="563" cy="182" r="1.5" opacity="0.5"/><circle cx="507" cy="37" r="1.4" opacity="0.4"/><circle cx="258" cy="95" r="1.6" opacity="0.7"/><circle cx="599" cy="27" r="1.1" opacity="0.3"/><circle cx="607" cy="141" r="0.9" opacity="0.3"/><circle cx="440" cy="36" r="1.1" opacity="0.2"/><circle cx="380" cy="216" r="1.2" opacity="0.5"/><circle cx="326" cy="90" r="1.5" opacity="0.3"/><circle cx="429" cy="21" r="1.4" opacity="0.2"/><circle cx="214" cy="117" r="1.4" opacity="0.4"/><circle cx="41" cy="12" r="1.3" opacity="0.3"/><circle cx="328" cy="184" r="1.8" opacity="0.5"/><circle cx="433" cy="134" r="1.0" opacity="0.2"/><circle cx="600" cy="65" r="1.8" opacity="0.3"/><circle cx="502" cy="15" r="1.6" opacity="0.4"/><circle cx="128" cy="93" r="1.3" opacity="0.2"/><circle cx="595" cy="194" r="1.7" opacity="0.7"/><circle cx="418" cy="102" r="1.7" opacity="0.4"/><circle cx="191" cy="88" r="1.2" opacity="0.5"/><circle cx="472" cy="58" r="1.4" opacity="0.3"/><circle cx="75" cy="87" r="1.6" opacity="0.4"/><circle cx="292" cy="75" r="1.2" opacity="0.7"/><circle cx="589" cy="57" r="1.6" opacity="0.6"/><circle cx="333" cy="62" r="0.9" opacity="0.3"/><circle cx="612" cy="177" r="1.6" opacity="0.2"/><circle cx="295" cy="32" r="1.4" opacity="0.5"/><circle cx="209" cy="145" r="1.7" opacity="0.5"/><circle cx="223" cy="123" r="1.5" opacity="0.6"/><circle cx="238" cy="84" r="1.3" opacity="0.6"/><circle cx="304" cy="3" r="1.8" opacity="0.3"/><circle cx="453" cy="79" r="1.7" opacity="0.2"/><circle cx="356" cy="189" r="1.0" opacity="0.5"/><circle cx="448" cy="13" r="0.9" opacity="0.6"/><circle cx="653" cy="42" r="1.8" opacity="0.3"/><circle cx="349" cy="7" r="1.2" opacity="0.5"/><circle cx="157" cy="51" r="1.5" opacity="0.4"/><circle cx="156" cy="41" r="1.4" opacity="0.5"/><circle cx="628" cy="20" r="1.2" opacity="0.3"/><circle cx="495" cy="146" r="1.8" opacity="0.2"/><circle cx="28" cy="127" r="1.1" opacity="0.2"/><circle cx="363" cy="3" r="1.8" opacity="0.3"/><circle cx="73" cy="89" r="1.6" opacity="0.5"/><circle cx="230" cy="76" r="1.6" opacity="0.3"/><circle cx="142" cy="53" r="1.8" opacity="0.5"/><circle cx="347" cy="66" r="1.1" opacity="0.5"/><circle cx="318" cy="35" r="1.4" opacity="0.4"/><circle cx="588" cy="183" r="1.3" opacity="0.3"/><circle cx="133" cy="223" r="1.0" opacity="0.5"/><circle cx="409" cy="0" r="1.7" opacity="0.3"/><circle cx="147" cy="243" r="1.8" opacity="0.4"/><circle cx="658" cy="102" r="1.4" opacity="0.4"/><circle cx="341" cy="232" r="1.9" opacity="0.7"/><circle cx="92" cy="156" r="0.9" opacity="0.2"/><circle cx="549" cy="65" r="1.8" opacity="0.6"/><circle cx="187" cy="204" r="1.9" opacity="0.3"/><circle cx="531" cy="221" r="1.2" opacity="0.6"/><circle cx="274" cy="189" r="1.5" opacity="0.5"/><circle cx="594" cy="26" r="1.6" opacity="0.6"/><circle cx="541" cy="119" r="1.8" opacity="0.6"/><circle cx="657" cy="9" r="1.0" opacity="0.3"/><circle cx="410" cy="158" r="1.7" opacity="0.5"/><circle cx="374" cy="241" r="1.7" opacity="0.6"/><circle cx="325" cy="98" r="1.2" opacity="0.7"/><circle cx="525" cy="202" r="1.6" opacity="0.6"/><circle cx="232" cy="175" r="1.3" opacity="0.6"/><circle cx="248" cy="218" r="1.4" opacity="0.3"/><circle cx="511" cy="79" r="1.0" opacity="0.3"/><circle cx="530" cy="19" r="1.0" opacity="0.3"/><circle cx="229" cy="98" r="1.1" opacity="0.6"/><circle cx="467" cy="147" r="0.9" opacity="0.6"/><circle cx="168" cy="97" r="1.4" opacity="0.2"/><circle cx="468" cy="224" r="1.0" opacity="0.4"/><circle cx="131" cy="36" r="1.4" opacity="0.3"/><circle cx="142" cy="251" r="1.0" opacity="0.4"/><circle cx="497" cy="152" r="1.6" opacity="0.2"/><circle cx="68" cy="31" r="1.6" opacity="0.5"/><circle cx="663" cy="136" r="1.2" opacity="0.3"/><circle cx="141" cy="68" r="1.5" opacity="0.6"/><circle cx="444" cy="73" r="1.0" opacity="0.7"/><circle cx="327" cy="63" r="1.7" opacity="0.3"/><circle cx="413" cy="130" r="1.7" opacity="0.2"/><circle cx="648" cy="106" r="1.4" opacity="0.3"/><circle cx="262" cy="30" r="1.8" opacity="0.4"/><circle cx="366" cy="68" r="1.5" opacity="0.6"/><circle cx="399" cy="220" r="1.1" opacity="0.6"/><circle cx="237" cy="247" r="1.6" opacity="0.4"/><circle cx="65" cy="64" r="1.1" opacity="0.2"/><circle cx="197" cy="82" r="1.4" opacity="0.7"/><circle cx="526" cy="14" r="1.9" opacity="0.3"/><circle cx="134" cy="185" r="1.2" opacity="0.3"/><circle cx="325" cy="213" r="1.3" opacity="0.3"/><circle cx="144" cy="147" r="1.6" opacity="0.2"/><circle cx="391" cy="51" r="1.5" opacity="0.4"/><circle cx="231" cy="62" r="1.1" opacity="0.4"/><circle cx="303" cy="86" r="1.2" opacity="0.3"/><circle cx="383" cy="6" r="1.6" opacity="0.2"/><circle cx="491" cy="87" r="1.1" opacity="0.3"/><circle cx="153" cy="208" r="1.2" opacity="0.3"/><circle cx="590" cy="20" r="1.1" opacity="0.4"/><circle cx="354" cy="19" r="1.3" opacity="0.2"/><circle cx="146" cy="214" r="1.8" opacity="0.4"/><circle cx="611" cy="205" r="1.6" opacity="0.6"/><circle cx="569" cy="30" r="1.3" opacity="0.6"/><circle cx="168" cy="58" r="0.9" opacity="0.3"/><circle cx="20" cy="80" r="1.0" opacity="0.6"/><circle cx="627" cy="214" r="0.9" opacity="0.4"/><circle cx="464" cy="173" r="1.8" opacity="0.2"/><circle cx="94" cy="164" r="1.4" opacity="0.2"/><circle cx="252" cy="163" r="1.1" opacity="0.2"/><circle cx="610" cy="66" r="1.2" opacity="0.7"/><circle cx="100" cy="140" r="1.4" opacity="0.5"/><circle cx="416" cy="231" r="1.8" opacity="0.6"/><circle cx="602" cy="150" r="1.6" opacity="0.7"/><circle cx="281" cy="88" r="0.9" opacity="0.5"/><circle cx="659" cy="17" r="1.3" opacity="0.6"/><circle cx="649" cy="116" r="1.3" opacity="0.6"/><circle cx="265" cy="154" r="1.1" opacity="0.3"/><circle cx="147" cy="104" r="1.3" opacity="0.2"/><circle cx="234" cy="48" r="1.0" opacity="0.3"/><circle cx="296" cy="54" r="1.8" opacity="0.5"/><circle cx="549" cy="147" r="1.6" opacity="0.6"/><circle cx="237" cy="72" r="1.8" opacity="0.2"/><circle cx="232" cy="48" r="1.0" opacity="0.7"/><circle cx="358" cy="146" r="1.5" opacity="0.5"/><circle cx="160" cy="137" r="1.5" opacity="0.2"/><circle cx="368" cy="234" r="1.1" opacity="0.2"/><circle cx="198" cy="153" r="0.9" opacity="0.3"/><circle cx="360" cy="140" r="1.6" opacity="0.6"/><circle cx="203" cy="16" r="1.5" opacity="0.4"/><circle cx="500" cy="63" r="1.4" opacity="0.2"/><circle cx="472" cy="35" r="0.9" opacity="0.6"/><circle cx="219" cy="26" r="1.8" opacity="0.2"/><circle cx="203" cy="128" r="1.1" opacity="0.2"/><circle cx="340" cy="163" r="1.4" opacity="0.7"/><circle cx="631" cy="129" r="1.0" opacity="0.2"/><circle cx="245" cy="232" r="1.2" opacity="0.3"/><circle cx="628" cy="205" r="0.9" opacity="0.2"/><circle cx="346" cy="236" r="1.4" opacity="0.5"/><circle cx="230" cy="74" r="1.8" opacity="0.5"/><circle cx="595" cy="87" r="1.8" opacity="0.2"/><circle cx="207" cy="121" r="1.8" opacity="0.3"/><circle cx="439" cy="14" r="0.9" opacity="0.5"/><circle cx="157" cy="2" r="1.2" opacity="0.6"/><circle cx="358" cy="1" r="1.1" opacity="0.3"/><circle cx="505" cy="53" r="1.6" opacity="0.3"/><circle cx="5" cy="100" r="1.5" opacity="0.3"/><circle cx="234" cy="51" r="1.7" opacity="0.2"/><circle cx="630" cy="60" r="1.4" opacity="0.3"/><circle cx="409" cy="28" r="1.5" opacity="0.5"/><circle cx="295" cy="153" r="1.1" opacity="0.4"/><circle cx="71" cy="173" r="1.7" opacity="0.2"/><circle cx="489" cy="91" r="1.7" opacity="0.6"/><circle cx="154" cy="195" r="1.6" opacity="0.6"/><circle cx="312" cy="143" r="1.4" opacity="0.7"/><circle cx="335" cy="138" r="1.0" opacity="0.6"/><circle cx="130" cy="185" r="1.8" opacity="0.6"/><circle cx="227" cy="46" r="1.6" opacity="0.5"/><circle cx="132" cy="246" r="1.9" opacity="0.6"/><circle cx="602" cy="130" r="0.9" opacity="0.5"/><circle cx="184" cy="22" r="1.1" opacity="0.5"/><circle cx="333" cy="1" r="1.8" opacity="0.2"/><circle cx="637" cy="34" r="1.2" opacity="0.5"/><circle cx="473" cy="170" r="0.9" opacity="0.6"/><circle cx="608" cy="10" r="1.5" opacity="0.7"/><circle cx="131" cy="70" r="1.3" opacity="0.4"/><circle cx="185" cy="84" r="1.5" opacity="0.5"/><circle cx="620" cy="139" r="1.9" opacity="0.7"/><circle cx="252" cy="28" r="1.4" opacity="0.2"/><circle cx="107" cy="165" r="1.8" opacity="0.5"/><circle cx="227" cy="54" r="1.6" opacity="0.2"/><circle cx="542" cy="147" r="1.9" opacity="0.5"/><circle cx="329" cy="146" r="1.7" opacity="0.3"/><circle cx="235" cy="126" r="1.0" opacity="0.2"/><circle cx="494" cy="149" r="1.3" opacity="0.4"/><circle cx="527" cy="32" r="1.5" opacity="0.5"/><circle cx="611" cy="145" r="1.3" opacity="0.5"/><circle cx="473" cy="134" r="1.2" opacity="0.2"/><circle cx="151" cy="162" r="1.0" opacity="0.6"/><circle cx="268" cy="249" r="1.7" opacity="0.3"/><circle cx="455" cy="43" r="1.3" opacity="0.6"/><circle cx="99" cy="7" r="1.8" opacity="0.5"/><circle cx="299" cy="137" r="1.2" opacity="0.6"/><circle cx="263" cy="232" r="1.4" opacity="0.6"/><circle cx="239" cy="246" r="1.2" opacity="0.4"/><circle cx="425" cy="73" r="1.4" opacity="0.4"/><circle cx="460" cy="65" r="1.3" opacity="0.4"/><circle cx="135" cy="79" r="1.5" opacity="0.6"/><circle cx="14" cy="136" r="1.1" opacity="0.3"/><circle cx="470" cy="243" r="1.9" opacity="0.4"/><circle cx="119" cy="109" r="1.4" opacity="0.5"/><circle cx="577" cy="179" r="1.5" opacity="0.4"/><circle cx="369" cy="117" r="1.1" opacity="0.7"/><circle cx="517" cy="63" r="1.0" opacity="0.3"/><circle cx="231" cy="110" r="1.0" opacity="0.6"/><circle cx="13" cy="90" r="1.0" opacity="0.7"/><circle cx="255" cy="217" r="1.8" opacity="0.7"/><circle cx="188" cy="30" r="1.0" opacity="0.5"/><circle cx="63" cy="112" r="1.8" opacity="0.5"/><circle cx="349" cy="71" r="0.9" opacity="0.7"/><circle cx="466" cy="229" r="1.8" opacity="0.4"/><circle cx="292" cy="162" r="0.9" opacity="0.5"/><circle cx="611" cy="119" r="1.9" opacity="0.6"/><circle cx="249" cy="66" r="1.7" opacity="0.4"/><circle cx="297" cy="33" r="1.0" opacity="0.5"/><circle cx="336" cy="14" r="1.7" opacity="0.6"/><circle cx="471" cy="209" r="1.2" opacity="0.2"/><circle cx="245" cy="111" r="1.6" opacity="0.5"/><circle cx="616" cy="173" r="1.1" opacity="0.2"/><circle cx="611" cy="234" r="1.2" opacity="0.5"/><circle cx="353" cy="165" r="1.8" opacity="0.6"/><circle cx="126" cy="201" r="1.8" opacity="0.6"/><circle cx="111" cy="80" r="1.1" opacity="0.6"/><circle cx="14" cy="62" r="1.7" opacity="0.4"/><circle cx="586" cy="209" r="1.0" opacity="0.3"/><circle cx="146" cy="44" r="1.0" opacity="0.2"/><circle cx="246" cy="108" r="1.5" opacity="0.2"/><circle cx="129" cy="236" r="1.6" opacity="0.4"/><circle cx="435" cy="214" r="1.2" opacity="0.6"/><circle cx="462" cy="237" r="1.2" opacity="0.3"/><circle cx="178" cy="238" r="1.4" opacity="0.3"/><circle cx="661" cy="190" r="1.0" opacity="0.3"/><circle cx="265" cy="158" r="1.8" opacity="0.7"/><circle cx="269" cy="121" r="1.3" opacity="0.3"/><circle cx="216" cy="10" r="1.8" opacity="0.4"/><circle cx="171" cy="243" r="1.0" opacity="0.2"/><circle cx="25" cy="19" r="1.4" opacity="0.3"/><circle cx="131" cy="81" r="0.9" opacity="0.3"/><circle cx="600" cy="136" r="1.0" opacity="0.2"/><circle cx="468" cy="195" r="1.1" opacity="0.2"/><circle cx="322" cy="121" r="1.7" opacity="0.4"/><circle cx="262" cy="80" r="1.7" opacity="0.4"/><circle cx="474" cy="223" r="1.1" opacity="0.3"/><circle cx="171" cy="53" r="0.9" opacity="0.5"/><circle cx="356" cy="167" r="1.5" opacity="0.2"/><circle cx="101" cy="51" r="1.4" opacity="0.2"/><circle cx="579" cy="191" r="1.4" opacity="0.4"/><circle cx="280" cy="53" r="1.7" opacity="0.3"/><circle cx="3" cy="79" r="1.2" opacity="0.6"/><circle cx="481" cy="231" r="1.6" opacity="0.3"/><circle cx="395" cy="102" r="1.5" opacity="0.7"/><circle cx="598" cy="187" r="1.2" opacity="0.4"/><circle cx="459" cy="175" r="1.1" opacity="0.6"/><circle cx="366" cy="72" r="1.8" opacity="0.3"/><circle cx="659" cy="135" r="1.9" opacity="0.6"/><circle cx="260" cy="90" r="1.7" opacity="0.5"/><circle cx="335" cy="56" r="1.2" opacity="0.3"/><circle cx="610" cy="7" r="1.7" opacity="0.6"/><circle cx="199" cy="196" r="1.8" opacity="0.3"/><circle cx="288" cy="248" r="1.4" opacity="0.4"/><circle cx="257" cy="244" r="1.3" opacity="0.3"/><circle cx="384" cy="41" r="1.7" opacity="0.4"/><circle cx="435" cy="35" r="1.0" opacity="0.2"/><circle cx="527" cy="104" r="1.1" opacity="0.3"/><circle cx="235" cy="203" r="1.5" opacity="0.6"/><circle cx="194" cy="206" r="1.1" opacity="0.7"/><circle cx="630" cy="165" r="0.9" opacity="0.3"/><circle cx="560" cy="63" r="1.1" opacity="0.2"/><circle cx="405" cy="218" r="1.2" opacity="0.4"/><circle cx="526" cy="82" r="1.7" opacity="0.5"/><circle cx="440" cy="149" r="1.2" opacity="0.3"/><circle cx="500" cy="228" r="1.0" opacity="0.5"/><circle cx="79" cy="75" r="1.3" opacity="0.4"/><circle cx="329" cy="51" r="1.4" opacity="0.6"/><circle cx="486" cy="171" r="1.3" opacity="0.7"/><circle cx="587" cy="24" r="1.8" opacity="0.6"/><circle cx="519" cy="213" r="1.6" opacity="0.3"/><circle cx="282" cy="158" r="1.1" opacity="0.3"/><circle cx="475" cy="57" r="1.6" opacity="0.6"/><circle cx="384" cy="56" r="0.9" opacity="0.6"/><circle cx="493" cy="77" r="1.0" opacity="0.2"/><circle cx="497" cy="182" r="1.1" opacity="0.3"/><circle cx="615" cy="224" r="1.9" opacity="0.4"/><circle cx="335" cy="21" r="1.3" opacity="0.3"/><circle cx="62" cy="178" r="1.6" opacity="0.5"/><circle cx="374" cy="245" r="1.1" opacity="0.7"/><circle cx="440" cy="107" r="1.1" opacity="0.3"/><circle cx="99" cy="22" r="1.8" opacity="0.2"/><circle cx="392" cy="236" r="1.5" opacity="0.5"/><circle cx="640" cy="215" r="1.3" opacity="0.5"/><circle cx="493" cy="100" r="1.3" opacity="0.6"/><circle cx="110" cy="91" r="1.6" opacity="0.3"/><circle cx="237" cy="93" r="1.2" opacity="0.6"/><circle cx="510" cy="64" r="1.9" opacity="0.4"/><circle cx="178" cy="82" r="1.4" opacity="0.3"/><circle cx="206" cy="26" r="1.4" opacity="0.4"/><circle cx="260" cy="18" r="1.4" opacity="0.5"/><circle cx="608" cy="75" r="1.7" opacity="0.2"/><circle cx="585" cy="196" r="1.4" opacity="0.5"/><circle cx="62" cy="110" r="1.5" opacity="0.6"/><circle cx="506" cy="136" r="1.3" opacity="0.3"/><circle cx="412" cy="107" r="1.8" opacity="0.7"/><circle cx="232" cy="44" r="1.9" opacity="0.7"/><circle cx="276" cy="38" r="1.2" opacity="0.2"/><circle cx="343" cy="115" r="1.4" opacity="0.4"/><circle cx="342" cy="100" r="1.0" opacity="0.7"/><circle cx="548" cy="91" r="1.5" opacity="0.2"/><circle cx="20" cy="19" r="1.6" opacity="0.2"/><circle cx="616" cy="191" r="1.3" opacity="0.6"/><circle cx="205" cy="110" r="1.2" opacity="0.6"/><circle cx="49" cy="69" r="1.8" opacity="0.6"/><circle cx="304" cy="91" r="1.0" opacity="0.4"/><circle cx="539" cy="202" r="1.2" opacity="0.5"/><circle cx="252" cy="133" r="1.0" opacity="0.5"/><circle cx="465" cy="157" r="1.2" opacity="0.4"/><circle cx="161" cy="152" r="1.7" opacity="0.5"/><circle cx="611" cy="145" r="1.6" opacity="0.7"/><circle cx="331" cy="225" r="1.6" opacity="0.6"/><circle cx="433" cy="196" r="1.3" opacity="0.5"/><circle cx="614" cy="1" r="1.1" opacity="0.3"/><circle cx="280" cy="40" r="1.4" opacity="0.5"/><circle cx="263" cy="239" r="1.4" opacity="0.3"/><circle cx="137" cy="19" r="1.7" opacity="0.2"/><circle cx="196" cy="16" r="0.9" opacity="0.7"/><circle cx="55" cy="70" r="1.7" opacity="0.4"/><circle cx="232" cy="174" r="1.9" opacity="0.5"/><circle cx="37" cy="90" r="1.6" opacity="0.6"/><circle cx="109" cy="146" r="0.9" opacity="0.2"/><circle cx="298" cy="193" r="1.1" opacity="0.4"/><circle cx="324" cy="146" r="1.6" opacity="0.4"/><circle cx="312" cy="86" r="1.9" opacity="0.5"/><circle cx="564" cy="27" r="1.8" opacity="0.3"/><circle cx="403" cy="198" r="1.3" opacity="0.2"/><circle cx="380" cy="55" r="1.2" opacity="0.6"/><circle cx="137" cy="52" r="1.8" opacity="0.5"/><circle cx="553" cy="159" r="1.1" opacity="0.6"/><circle cx="257" cy="129" r="1.0" opacity="0.2"/><circle cx="37" cy="100" r="1.5" opacity="0.3"/><circle cx="473" cy="194" r="1.7" opacity="0.6"/><circle cx="116" cy="228" r="1.0" opacity="0.7"/><circle cx="72" cy="181" r="1.5" opacity="0.6"/><circle cx="145" cy="54" r="1.3" opacity="0.6"/><circle cx="231" cy="233" r="1.5" opacity="0.3"/><circle cx="346" cy="227" r="1.6" opacity="0.5"/><circle cx="332" cy="225" r="1.3" opacity="0.6"/><circle cx="175" cy="91" r="1.6" opacity="0.3"/><circle cx="589" cy="54" r="1.4" opacity="0.4"/><circle cx="160" cy="197" r="1.9" opacity="0.7"/><circle cx="206" cy="208" r="1.8" opacity="0.7"/><circle cx="93" cy="161" r="1.9" opacity="0.6"/><circle cx="474" cy="137" r="1.7" opacity="0.7"/><circle cx="284" cy="37" r="1.6" opacity="0.3"/><circle cx="480" cy="126" r="1.5" opacity="0.6"/><circle cx="513" cy="178" r="1.4" opacity="0.3"/><circle cx="225" cy="150" r="1.0" opacity="0.7"/><circle cx="448" cy="132" r="1.2" opacity="0.2"/><circle cx="618" cy="194" r="1.7" opacity="0.4"/><circle cx="625" cy="84" r="1.4" opacity="0.5"/><circle cx="521" cy="232" r="1.1" opacity="0.2"/><circle cx="543" cy="12" r="1.0" opacity="0.6"/><circle cx="229" cy="69" r="1.7" opacity="0.3"/><circle cx="426" cy="202" r="1.9" opacity="0.7"/><circle cx="19" cy="144" r="1.7" opacity="0.4"/><circle cx="653" cy="49" r="1.1" opacity="0.2"/><circle cx="81" cy="199" r="1.3" opacity="0.7"/><circle cx="391" cy="18" r="1.7" opacity="0.2"/><circle cx="505" cy="230" r="1.5" opacity="0.2"/><circle cx="93" cy="198" r="1.8" opacity="0.5"/><circle cx="219" cy="83" r="1.7" opacity="0.5"/><circle cx="106" cy="4" r="1.1" opacity="0.2"/><circle cx="88" cy="120" r="1.2" opacity="0.4"/><circle cx="150" cy="118" r="1.0" opacity="0.4"/><circle cx="493" cy="102" r="1.0" opacity="0.2"/><circle cx="46" cy="80" r="1.0" opacity="0.2"/><circle cx="343" cy="79" r="1.0" opacity="0.2"/><circle cx="303" cy="55" r="1.4" opacity="0.2"/><circle cx="115" cy="11" r="1.1" opacity="0.2"/><circle cx="212" cy="149" r="1.7" opacity="0.5"/><circle cx="542" cy="143" r="1.8" opacity="0.6"/><circle cx="368" cy="152" r="0.9" opacity="0.4"/><circle cx="175" cy="56" r="1.0" opacity="0.3"/><circle cx="235" cy="216" r="1.8" opacity="0.2"/><circle cx="128" cy="118" r="1.8" opacity="0.3"/><circle cx="660" cy="88" r="1.3" opacity="0.4"/><circle cx="269" cy="60" r="1.3" opacity="0.3"/><circle cx="649" cy="146" r="1.4" opacity="0.7"/><circle cx="403" cy="162" r="1.1" opacity="0.6"/><circle cx="553" cy="132" r="1.5" opacity="0.6"/><circle cx="158" cy="223" r="1.5" opacity="0.6"/><circle cx="658" cy="42" r="1.3" opacity="0.2"/><circle cx="296" cy="174" r="1.1" opacity="0.4"/><circle cx="386" cy="242" r="1.5" opacity="0.4"/><circle cx="437" cy="156" r="1.9" opacity="0.3"/><circle cx="641" cy="22" r="1.0" opacity="0.2"/><circle cx="364" cy="2" r="1.8" opacity="0.5"/><circle cx="391" cy="91" r="1.9" opacity="0.2"/><circle cx="205" cy="70" r="1.1" opacity="0.5"/><circle cx="625" cy="110" r="1.6" opacity="0.4"/><circle cx="352" cy="71" r="1.1" opacity="0.7"/><circle cx="604" cy="60" r="1.3" opacity="0.4"/><circle cx="656" cy="143" r="0.9" opacity="0.6"/><circle cx="533" cy="66" r="1.4" opacity="0.2"/><circle cx="393" cy="222" r="1.0" opacity="0.4"/><circle cx="307" cy="141" r="1.2" opacity="0.7"/><circle cx="217" cy="241" r="1.7" opacity="0.5"/><circle cx="301" cy="248" r="1.6" opacity="0.7"/><circle cx="452" cy="220" r="1.0" opacity="0.6"/><circle cx="467" cy="50" r="1.2" opacity="0.5"/><circle cx="114" cy="56" r="1.3" opacity="0.4"/><circle cx="344" cy="228" r="1.8" opacity="0.3"/><circle cx="572" cy="182" r="1.2" opacity="0.5"/><circle cx="90" cy="124" r="1.2" opacity="0.2"/><circle cx="275" cy="230" r="1.5" opacity="0.2"/><circle cx="491" cy="64" r="0.9" opacity="0.6"/><circle cx="299" cy="4" r="1.2" opacity="0.4"/><circle cx="64" cy="74" r="1.8" opacity="0.2"/><circle cx="410" cy="16" r="1.6" opacity="0.7"/><circle cx="465" cy="11" r="1.3" opacity="0.6"/><circle cx="603" cy="135" r="1.3" opacity="0.7"/><circle cx="548" cy="17" r="1.5" opacity="0.3"/><circle cx="9" cy="66" r="1.0" opacity="0.4"/><circle cx="417" cy="190" r="1.1" opacity="0.7"/><circle cx="37" cy="67" r="1.5" opacity="0.2"/><circle cx="584" cy="70" r="1.6" opacity="0.3"/><circle cx="607" cy="179" r="1.6" opacity="0.3"/><circle cx="78" cy="207" r="1.3" opacity="0.3"/><circle cx="354" cy="66" r="1.8" opacity="0.5"/><circle cx="242" cy="133" r="1.8" opacity="0.3"/><circle cx="530" cy="183" r="1.4" opacity="0.2"/><circle cx="434" cy="104" r="1.0" opacity="0.6"/><circle cx="306" cy="251" r="1.3" opacity="0.6"/><circle cx="486" cy="206" r="1.4" opacity="0.6"/><circle cx="360" cy="197" r="1.4" opacity="0.4"/><circle cx="548" cy="176" r="1.6" opacity="0.2"/><circle cx="339" cy="120" r="1.4" opacity="0.5"/><circle cx="605" cy="175" r="1.3" opacity="0.5"/><circle cx="268" cy="76" r="1.2" opacity="0.2"/><circle cx="205" cy="248" r="1.1" opacity="0.5"/><circle cx="597" cy="181" r="1.4" opacity="0.6"/><circle cx="54" cy="51" r="1.4" opacity="0.7"/><circle cx="549" cy="152" r="1.3" opacity="0.4"/><circle cx="390" cy="71" r="1.7" opacity="0.5"/><circle cx="120" cy="75" r="1.7" opacity="0.4"/><circle cx="347" cy="195" r="1.3" opacity="0.6"/><circle cx="354" cy="138" r="1.3" opacity="0.4"/><circle cx="475" cy="22" r="0.9" opacity="0.3"/><circle cx="112" cy="30" r="1.6" opacity="0.5"/><circle cx="589" cy="55" r="1.2" opacity="0.2"/><circle cx="74" cy="124" r="1.7" opacity="0.2"/><circle cx="352" cy="117" r="1.4" opacity="0.5"/><circle cx="652" cy="171" r="1.8" opacity="0.2"/><circle cx="136" cy="59" r="1.5" opacity="0.6"/><circle cx="570" cy="32" r="1.8" opacity="0.4"/><circle cx="516" cy="206" r="1.3" opacity="0.4"/><circle cx="482" cy="203" r="0.9" opacity="0.4"/><circle cx="644" cy="165" r="1.3" opacity="0.5"/><circle cx="371" cy="51" r="1.8" opacity="0.6"/><circle cx="570" cy="51" r="1.2" opacity="0.2"/><circle cx="190" cy="31" r="1.6" opacity="0.4"/><circle cx="307" cy="145" r="1.7" opacity="0.6"/><circle cx="304" cy="243" r="1.6" opacity="0.3"/><circle cx="377" cy="21" r="1.1" opacity="0.6"/><circle cx="239" cy="224" r="1.0" opacity="0.2"/><circle cx="273" cy="10" r="1.1" opacity="0.3"/><circle cx="348" cy="132" r="1.6" opacity="0.3"/><circle cx="230" cy="11" r="1.7" opacity="0.2"/><circle cx="327" cy="159" r="1.8" opacity="0.2"/><circle cx="164" cy="94" r="1.6" opacity="0.5"/><circle cx="342" cy="32" r="1.6" opacity="0.6"/><circle cx="561" cy="94" r="1.4" opacity="0.2"/><circle cx="163" cy="98" r="1.3" opacity="0.6"/><circle cx="462" cy="152" r="1.7" opacity="0.5"/><circle cx="628" cy="136" r="0.9" opacity="0.4"/><circle cx="432" cy="216" r="1.0" opacity="0.2"/><circle cx="322" cy="5" r="1.0" opacity="0.4"/><circle cx="248" cy="127" r="1.0" opacity="0.7"/><circle cx="456" cy="133" r="0.9" opacity="0.4"/><circle cx="453" cy="26" r="1.3" opacity="0.6"/><circle cx="635" cy="94" r="1.3" opacity="0.5"/><circle cx="626" cy="51" r="1.1" opacity="0.4"/><circle cx="31" cy="156" r="1.4" opacity="0.7"/><circle cx="166" cy="250" r="1.6" opacity="0.6"/><circle cx="486" cy="114" r="1.0" opacity="0.5"/><circle cx="327" cy="119" r="1.1" opacity="0.2"/><circle cx="145" cy="92" r="0.9" opacity="0.7"/><circle cx="417" cy="189" r="1.3" opacity="0.6"/><circle cx="535" cy="78" r="1.9" opacity="0.4"/><circle cx="419" cy="156" r="1.1" opacity="0.6"/><circle cx="447" cy="138" r="1.1" opacity="0.6"/><circle cx="316" cy="9" r="1.1" opacity="0.6"/><circle cx="386" cy="103" r="1.9" opacity="0.3"/><circle cx="174" cy="162" r="1.0" opacity="0.2"/><circle cx="51" cy="87" r="1.6" opacity="0.6"/><circle cx="424" cy="115" r="1.3" opacity="0.3"/><circle cx="644" cy="94" r="1.3" opacity="0.7"/><circle cx="158" cy="54" r="1.9" opacity="0.6"/><circle cx="288" cy="122" r="1.4" opacity="0.3"/><circle cx="386" cy="55" r="1.8" opacity="0.2"/><circle cx="634" cy="163" r="1.4" opacity="0.3"/><circle cx="515" cy="166" r="1.9" opacity="0.5"/><circle cx="56" cy="89" r="1.9" opacity="0.4"/><circle cx="305" cy="125" r="1.0" opacity="0.2"/><circle cx="205" cy="68" r="1.2" opacity="0.5"/><circle cx="42" cy="24" r="1.0" opacity="0.7"/><circle cx="195" cy="172" r="1.3" opacity="0.2"/><circle cx="213" cy="115" r="1.7" opacity="0.5"/><circle cx="369" cy="62" r="1.7" opacity="0.4"/><circle cx="378" cy="172" r="1.2" opacity="0.4"/><circle cx="180" cy="215" r="1.3" opacity="0.7"/><circle cx="461" cy="142" r="1.8" opacity="0.5"/><circle cx="415" cy="160" r="1.4" opacity="0.5"/><circle cx="487" cy="215" r="1.6" opacity="0.7"/><circle cx="363" cy="21" r="1.9" opacity="0.6"/><circle cx="406" cy="127" r="1.9" opacity="0.6"/><circle cx="243" cy="238" r="1.1" opacity="0.4"/><circle cx="607" cy="43" r="1.8" opacity="0.4"/><circle cx="427" cy="178" r="1.3" opacity="0.3"/><circle cx="255" cy="41" r="1.0" opacity="0.4"/><circle cx="532" cy="73" r="1.8" opacity="0.6"/><circle cx="425" cy="221" r="1.2" opacity="0.4"/><circle cx="592" cy="25" r="1.9" opacity="0.7"/><circle cx="550" cy="34" r="1.7" opacity="0.6"/><circle cx="477" cy="181" r="1.8" opacity="0.6"/><circle cx="20" cy="116" r="1.1" opacity="0.2"/><circle cx="417" cy="53" r="0.9" opacity="0.5"/><circle cx="87" cy="118" r="1.2" opacity="0.2"/><circle cx="168" cy="9" r="1.5" opacity="0.4"/><circle cx="339" cy="166" r="1.3" opacity="0.6"/><circle cx="140" cy="106" r="1.6" opacity="0.7"/><circle cx="473" cy="117" r="1.5" opacity="0.4"/><circle cx="84" cy="108" r="1.6" opacity="0.5"/><circle cx="143" cy="76" r="1.6" opacity="0.4"/><circle cx="341" cy="82" r="1.9" opacity="0.7"/><circle cx="631" cy="84" r="1.0" opacity="0.3"/><circle cx="476" cy="141" r="1.0" opacity="0.7"/><circle cx="419" cy="55" r="1.5" opacity="0.5"/><circle cx="419" cy="146" r="1.0" opacity="0.3"/><circle cx="374" cy="32" r="0.9" opacity="0.5"/><circle cx="432" cy="239" r="1.1" opacity="0.6"/><circle cx="216" cy="33" r="1.5" opacity="0.4"/><circle cx="398" cy="16" r="1.7" opacity="0.5"/><circle cx="482" cy="140" r="1.8" opacity="0.2"/><circle cx="655" cy="59" r="1.3" opacity="0.2"/><circle cx="656" cy="133" r="1.0" opacity="0.6"/><circle cx="510" cy="1" r="1.1" opacity="0.3"/><circle cx="568" cy="205" r="1.4" opacity="0.6"/><circle cx="269" cy="239" r="1.0" opacity="0.3"/><circle cx="502" cy="188" r="1.1" opacity="0.4"/><circle cx="104" cy="5" r="1.6" opacity="0.4"/><circle cx="443" cy="137" r="1.1" opacity="0.6"/><circle cx="477" cy="69" r="1.7" opacity="0.4"/><circle cx="269" cy="95" r="0.9" opacity="0.5"/><circle cx="596" cy="109" r="1.7" opacity="0.2"/><circle cx="423" cy="210" r="1.2" opacity="0.4"/><circle cx="81" cy="89" r="1.1" opacity="0.3"/><circle cx="171" cy="114" r="0.9" opacity="0.7"/><circle cx="281" cy="151" r="1.5" opacity="0.7"/><circle cx="5" cy="67" r="1.6" opacity="0.2"/><circle cx="532" cy="156" r="1.4" opacity="0.3"/><circle cx="324" cy="190" r="1.3" opacity="0.6"/><circle cx="487" cy="58" r="1.5" opacity="0.5"/><circle cx="236" cy="239" r="1.7" opacity="0.6"/><circle cx="267" cy="13" r="1.4" opacity="0.3"/><circle cx="17" cy="36" r="1.3" opacity="0.6"/><circle cx="268" cy="51" r="1.7" opacity="0.6"/><circle cx="468" cy="65" r="1.5" opacity="0.4"/><circle cx="603" cy="162" r="1.1" opacity="0.4"/><circle cx="321" cy="113" r="1.5" opacity="0.4"/><circle cx="502" cy="142" r="1.6" opacity="0.5"/><circle cx="199" cy="58" r="1.1" opacity="0.2"/><circle cx="141" cy="93" r="1.7" opacity="0.6"/><circle cx="393" cy="103" r="1.8" opacity="0.4"/><circle cx="34" cy="107" r="1.6" opacity="0.5"/><circle cx="250" cy="63" r="1.6" opacity="0.4"/><circle cx="213" cy="57" r="1.6" opacity="0.3"/><circle cx="215" cy="137" r="1.6" opacity="0.6"/><circle cx="8" cy="58" r="1.0" opacity="0.5"/><circle cx="544" cy="166" r="1.7" opacity="0.6"/><circle cx="603" cy="60" r="1.0" opacity="0.4"/><circle cx="418" cy="48" r="1.9" opacity="0.3"/><circle cx="80" cy="91" r="1.0" opacity="0.6"/><circle cx="529" cy="130" r="1.3" opacity="0.4"/><circle cx="312" cy="76" r="1.5" opacity="0.6"/><circle cx="16" cy="14" r="1.7" opacity="0.5"/><circle cx="203" cy="64" r="1.4" opacity="0.5"/><circle cx="122" cy="146" r="1.7" opacity="0.4"/><circle cx="229" cy="30" r="1.9" opacity="0.5"/><circle cx="91" cy="74" r="1.2" opacity="0.5"/><circle cx="104" cy="153" r="1.5" opacity="0.6"/><circle cx="38" cy="159" r="1.4" opacity="0.5"/><circle cx="307" cy="101" r="1.5" opacity="0.2"/><circle cx="510" cy="86" r="1.6" opacity="0.2"/><circle cx="141" cy="187" r="1.5" opacity="0.5"/><circle cx="636" cy="74" r="0.9" opacity="0.7"/><circle cx="552" cy="187" r="1.5" opacity="0.2"/><circle cx="246" cy="94" r="1.2" opacity="0.3"/><circle cx="235" cy="129" r="1.1" opacity="0.3"/><circle cx="175" cy="154" r="1.6" opacity="0.5"/><circle cx="499" cy="8" r="1.2" opacity="0.4"/><circle cx="564" cy="46" r="1.7" opacity="0.5"/><circle cx="369" cy="183" r="1.1" opacity="0.3"/><circle cx="173" cy="26" r="1.3" opacity="0.6"/><circle cx="328" cy="53" r="1.8" opacity="0.7"/><circle cx="156" cy="35" r="1.4" opacity="0.5"/><circle cx="166" cy="62" r="1.6" opacity="0.2"/><circle cx="491" cy="167" r="1.2" opacity="0.2"/><circle cx="74" cy="194" r="1.2" opacity="0.6"/><circle cx="435" cy="26" r="1.2" opacity="0.4"/><circle cx="63" cy="76" r="1.6" opacity="0.4"/><circle cx="590" cy="178" r="1.5" opacity="0.5"/><circle cx="493" cy="28" r="1.4" opacity="0.5"/><circle cx="611" cy="183" r="1.2" opacity="0.3"/><circle cx="75" cy="61" r="1.0" opacity="0.6"/><circle cx="637" cy="219" r="1.0" opacity="0.2"/><circle cx="399" cy="57" r="1.7" opacity="0.2"/><circle cx="371" cy="21" r="1.5" opacity="0.2"/><circle cx="418" cy="207" r="1.0" opacity="0.6"/><circle cx="472" cy="163" r="1.9" opacity="0.5"/><circle cx="627" cy="70" r="1.2" opacity="0.2"/><circle cx="655" cy="135" r="1.5" opacity="0.5"/><circle cx="353" cy="183" r="1.3" opacity="0.6"/><circle cx="125" cy="80" r="1.6" opacity="0.3"/><circle cx="416" cy="164" r="1.4" opacity="0.2"/><circle cx="292" cy="9" r="1.1" opacity="0.3"/><circle cx="648" cy="76" r="1.6" opacity="0.5"/><circle cx="177" cy="58" r="1.5" opacity="0.3"/><circle cx="659" cy="19" r="1.1" opacity="0.5"/><circle cx="358" cy="48" r="1.6" opacity="0.2"/><circle cx="573" cy="49" r="1.4" opacity="0.2"/><circle cx="520" cy="193" r="1.2" opacity="0.5"/><circle cx="313" cy="182" r="1.5" opacity="0.5"/><circle cx="240" cy="233" r="1.5" opacity="0.4"/><circle cx="383" cy="210" r="1.6" opacity="0.6"/><circle cx="175" cy="39" r="1.5" opacity="0.5"/><circle cx="606" cy="37" r="1.1" opacity="0.5"/><circle cx="520" cy="69" r="0.9" opacity="0.4"/><circle cx="407" cy="69" r="0.9" opacity="0.5"/><circle cx="190" cy="242" r="1.0" opacity="0.4"/><circle cx="35" cy="28" r="1.0" opacity="0.3"/><circle cx="203" cy="82" r="1.1" opacity="0.2"/><circle cx="214" cy="18" r="1.0" opacity="0.5"/><circle cx="298" cy="190" r="1.7" opacity="0.6"/><circle cx="231" cy="1" r="1.3" opacity="0.6"/><circle cx="258" cy="66" r="1.1" opacity="0.4"/><circle cx="335" cy="48" r="1.0" opacity="0.2"/><circle cx="549" cy="225" r="1.0" opacity="0.3"/><circle cx="327" cy="108" r="1.4" opacity="0.5"/><circle cx="466" cy="180" r="1.4" opacity="0.3"/><circle cx="90" cy="211" r="0.9" opacity="0.3"/><circle cx="11" cy="136" r="1.7" opacity="0.5"/><circle cx="563" cy="92" r="1.8" opacity="0.3"/><circle cx="108" cy="156" r="1.2" opacity="0.3"/><circle cx="513" cy="18" r="1.4" opacity="0.4"/><circle cx="494" cy="145" r="1.0" opacity="0.6"/><circle cx="348" cy="110" r="1.3" opacity="0.5"/><circle cx="251" cy="237" r="1.2" opacity="0.5"/><circle cx="587" cy="17" r="1.0" opacity="0.6"/><circle cx="484" cy="202" r="1.3" opacity="0.3"/><circle cx="492" cy="46" r="1.6" opacity="0.3"/><circle cx="335" cy="103" r="1.6" opacity="0.2"/><circle cx="466" cy="154" r="1.2" opacity="0.3"/><circle cx="122" cy="189" r="1.6" opacity="0.5"/><circle cx="556" cy="223" r="1.1" opacity="0.3"/><circle cx="175" cy="152" r="1.8" opacity="0.6"/><circle cx="381" cy="26" r="1.3" opacity="0.5"/><circle cx="202" cy="132" r="1.2" opacity="0.7"/><circle cx="608" cy="217" r="1.7" opacity="0.3"/><circle cx="150" cy="148" r="1.8" opacity="0.4"/><circle cx="352" cy="9" r="1.4" opacity="0.3"/><circle cx="18" cy="71" r="1.8" opacity="0.3"/><circle cx="535" cy="71" r="1.3" opacity="0.2"/><circle cx="648" cy="139" r="1.7" opacity="0.6"/><circle cx="319" cy="116" r="1.2" opacity="0.6"/><circle cx="140" cy="133" r="1.3" opacity="0.2"/><circle cx="221" cy="38" r="1.5" opacity="0.3"/><circle cx="115" cy="73" r="1.7" opacity="0.6"/><circle cx="250" cy="187" r="1.0" opacity="0.6"/><circle cx="470" cy="170" r="1.5" opacity="0.6"/><circle cx="351" cy="141" r="1.4" opacity="0.7"/><circle cx="141" cy="244" r="1.9" opacity="0.5"/><circle cx="426" cy="219" r="1.0" opacity="0.3"/><circle cx="218" cy="17" r="1.8" opacity="0.3"/><circle cx="50" cy="150" r="1.5" opacity="0.4"/><circle cx="373" cy="137" r="1.2" opacity="0.6"/><circle cx="539" cy="117" r="1.3" opacity="0.6"/><circle cx="557" cy="226" r="1.5" opacity="0.2"/><circle cx="646" cy="23" r="1.3" opacity="0.3"/><circle cx="335" cy="103" r="1.4" opacity="0.6"/><circle cx="334" cy="206" r="1.3" opacity="0.7"/><circle cx="395" cy="21" r="1.5" opacity="0.4"/><circle cx="354" cy="238" r="1.0" opacity="0.7"/><circle cx="293" cy="1" r="1.2" opacity="0.4"/><circle cx="452" cy="234" r="1.8" opacity="0.6"/><circle cx="290" cy="225" r="1.6" opacity="0.5"/><circle cx="563" cy="42" r="1.8" opacity="0.2"/><circle cx="332" cy="114" r="1.2" opacity="0.3"/><circle cx="133" cy="240" r="1.6" opacity="0.3"/><circle cx="281" cy="206" r="1.7" opacity="0.5"/><circle cx="82" cy="47" r="1.0" opacity="0.3"/><circle cx="46" cy="34" r="1.8" opacity="0.7"/><circle cx="511" cy="211" r="1.7" opacity="0.7"/><circle cx="204" cy="122" r="1.8" opacity="0.4"/><circle cx="649" cy="189" r="1.8" opacity="0.3"/><circle cx="431" cy="141" r="1.2" opacity="0.4"/><circle cx="338" cy="105" r="1.5" opacity="0.6"/><circle cx="329" cy="45" r="1.2" opacity="0.6"/><circle cx="558" cy="13" r="1.3" opacity="0.5"/><circle cx="320" cy="13" r="1.6" opacity="0.2"/><circle cx="381" cy="220" r="1.5" opacity="0.4"/><circle cx="221" cy="139" r="1.4" opacity="0.2"/><circle cx="413" cy="238" r="1.4" opacity="0.4"/><circle cx="496" cy="46" r="1.4" opacity="0.6"/><circle cx="462" cy="96" r="1.6" opacity="0.6"/><circle cx="604" cy="25" r="1.7" opacity="0.6"/><circle cx="3" cy="111" r="1.2" opacity="0.2"/><circle cx="64" cy="134" r="1.2" opacity="0.3"/><circle cx="72" cy="11" r="0.9" opacity="0.5"/><circle cx="359" cy="157" r="1.1" opacity="0.5"/><circle cx="649" cy="17" r="1.6" opacity="0.6"/><circle cx="45" cy="126" r="0.9" opacity="0.6"/><circle cx="479" cy="82" r="1.9" opacity="0.2"/><circle cx="571" cy="234" r="1.2" opacity="0.7"/><circle cx="240" cy="41" r="1.6" opacity="0.3"/><circle cx="197" cy="68" r="1.5" opacity="0.6"/><circle cx="61" cy="73" r="1.5" opacity="0.2"/><circle cx="77" cy="199" r="0.9" opacity="0.5"/><circle cx="249" cy="205" r="1.7" opacity="0.5"/><circle cx="283" cy="212" r="0.9" opacity="0.5"/><circle cx="503" cy="113" r="1.8" opacity="0.7"/><circle cx="371" cy="171" r="1.0" opacity="0.7"/><circle cx="354" cy="64" r="1.4" opacity="0.3"/><circle cx="123" cy="79" r="1.3" opacity="0.5"/><circle cx="382" cy="118" r="1.5" opacity="0.4"/><circle cx="226" cy="235" r="1.7" opacity="0.6"/><circle cx="639" cy="135" r="1.2" opacity="0.6"/><circle cx="241" cy="253" r="1.1" opacity="0.3"/><circle cx="559" cy="219" r="1.7" opacity="0.3"/><circle cx="442" cy="75" r="1.1" opacity="0.6"/><circle cx="265" cy="227" r="1.4" opacity="0.3"/><circle cx="581" cy="127" r="1.5" opacity="0.4"/><circle cx="489" cy="157" r="1.4" opacity="0.4"/><circle cx="392" cy="6" r="1.8" opacity="0.6"/><circle cx="237" cy="231" r="1.2" opacity="0.3"/><circle cx="468" cy="157" r="1.6" opacity="0.3"/><circle cx="570" cy="1" r="1.6" opacity="0.3"/><circle cx="298" cy="42" r="1.7" opacity="0.6"/><circle cx="548" cy="93" r="1.8" opacity="0.4"/><circle cx="447" cy="80" r="1.1" opacity="0.2"/><circle cx="361" cy="14" r="1.4" opacity="0.4"/><circle cx="123" cy="2" r="1.4" opacity="0.5"/><circle cx="70" cy="169" r="1.4" opacity="0.4"/><circle cx="438" cy="56" r="1.8" opacity="0.3"/><circle cx="93" cy="150" r="1.8" opacity="0.5"/><circle cx="226" cy="171" r="1.0" opacity="0.4"/><circle cx="297" cy="226" r="1.6" opacity="0.7"/><circle cx="490" cy="42" r="1.0" opacity="0.7"/><circle cx="397" cy="189" r="1.2" opacity="0.4"/><circle cx="598" cy="214" r="1.3" opacity="0.4"/><circle cx="241" cy="113" r="1.7" opacity="0.7"/><circle cx="161" cy="166" r="1.8" opacity="0.7"/><circle cx="626" cy="194" r="1.2" opacity="0.2"/><circle cx="26" cy="99" r="1.2" opacity="0.4"/><circle cx="271" cy="190" r="1.3" opacity="0.3"/><circle cx="364" cy="92" r="1.8" opacity="0.2"/><circle cx="267" cy="24" r="1.8" opacity="0.4"/><circle cx="258" cy="164" r="1.4" opacity="0.5"/><circle cx="454" cy="234" r="1.5" opacity="0.2"/><circle cx="139" cy="222" r="1.1" opacity="0.2"/><circle cx="214" cy="40" r="1.0" opacity="0.7"/><circle cx="143" cy="131" r="1.7" opacity="0.4"/><circle cx="320" cy="58" r="1.2" opacity="0.6"/><circle cx="410" cy="144" r="1.6" opacity="0.7"/><circle cx="412" cy="67" r="1.5" opacity="0.6"/><circle cx="570" cy="239" r="1.5" opacity="0.7"/><circle cx="198" cy="11" r="1.8" opacity="0.3"/><circle cx="243" cy="208" r="1.2" opacity="0.6"/><circle cx="93" cy="161" r="1.4" opacity="0.5"/><circle cx="652" cy="141" r="1.8" opacity="0.5"/><circle cx="498" cy="239" r="1.7" opacity="0.4"/><circle cx="347" cy="235" r="1.2" opacity="0.5"/><circle cx="96" cy="18" r="1.7" opacity="0.3"/><circle cx="511" cy="194" r="1.8" opacity="0.4"/><circle cx="661" cy="176" r="1.0" opacity="0.2"/><circle cx="143" cy="121" r="1.8" opacity="0.3"/><circle cx="605" cy="208" r="1.2" opacity="0.6"/><circle cx="326" cy="230" r="1.6" opacity="0.6"/><circle cx="554" cy="180" r="1.5" opacity="0.2"/><circle cx="590" cy="152" r="1.6" opacity="0.6"/><circle cx="513" cy="107" r="1.9" opacity="0.6"/><circle cx="154" cy="20" r="1.8" opacity="0.2"/><circle cx="257" cy="128" r="1.3" opacity="0.2"/><circle cx="429" cy="192" r="1.1" opacity="0.5"/><circle cx="550" cy="238" r="1.1" opacity="0.4"/><circle cx="280" cy="94" r="1.4" opacity="0.3"/><circle cx="546" cy="151" r="1.1" opacity="0.4"/><circle cx="600" cy="98" r="1.3" opacity="0.3"/><circle cx="157" cy="221" r="1.0" opacity="0.3"/><circle cx="356" cy="166" r="1.3" opacity="0.5"/><circle cx="653" cy="176" r="1.7" opacity="0.4"/><circle cx="31" cy="114" r="1.8" opacity="0.6"/><circle cx="485" cy="69" r="1.3" opacity="0.6"/><circle cx="616" cy="139" r="1.3" opacity="0.6"/><circle cx="382" cy="134" r="1.5" opacity="0.5"/><circle cx="3" cy="115" r="1.5" opacity="0.3"/><circle cx="241" cy="87" r="1.2" opacity="0.5"/><circle cx="571" cy="112" r="1.1" opacity="0.4"/><circle cx="254" cy="106" r="1.8" opacity="0.3"/><circle cx="642" cy="90" r="0.9" opacity="0.4"/><circle cx="197" cy="20" r="1.1" opacity="0.2"/><circle cx="507" cy="8" r="1.6" opacity="0.3"/><circle cx="77" cy="73" r="1.3" opacity="0.5"/><circle cx="297" cy="196" r="1.4" opacity="0.4"/><circle cx="307" cy="139" r="1.3" opacity="0.7"/><circle cx="219" cy="61" r="1.1" opacity="0.7"/><circle cx="330" cy="45" r="0.9" opacity="0.4"/><circle cx="366" cy="100" r="1.1" opacity="0.3"/><circle cx="331" cy="69" r="1.7" opacity="0.5"/><circle cx="639" cy="148" r="1.0" opacity="0.5"/><circle cx="228" cy="88" r="1.6" opacity="0.6"/><circle cx="55" cy="33" r="1.8" opacity="0.7"/><circle cx="56" cy="185" r="1.7" opacity="0.7"/><circle cx="533" cy="200" r="1.2" opacity="0.3"/><circle cx="588" cy="114" r="1.3" opacity="0.6"/><circle cx="139" cy="255" r="1.5" opacity="0.5"/><circle cx="433" cy="108" r="1.0" opacity="0.6"/><circle cx="114" cy="220" r="1.0" opacity="0.7"/><circle cx="297" cy="190" r="1.8" opacity="0.4"/><circle cx="198" cy="130" r="1.5" opacity="0.6"/><circle cx="163" cy="99" r="1.4" opacity="0.3"/><circle cx="662" cy="94" r="1.4" opacity="0.3"/><circle cx="197" cy="22" r="1.0" opacity="0.7"/><circle cx="607" cy="112" r="1.6" opacity="0.4"/><circle cx="155" cy="209" r="1.0" opacity="0.2"/><circle cx="37" cy="55" r="1.7" opacity="0.5"/><circle cx="73" cy="73" r="1.8" opacity="0.4"/><circle cx="639" cy="115" r="1.2" opacity="0.5"/><circle cx="198" cy="63" r="1.8" opacity="0.5"/><circle cx="286" cy="5" r="1.9" opacity="0.3"/><circle cx="24" cy="166" r="1.9" opacity="0.2"/><circle cx="502" cy="8" r="1.8" opacity="0.5"/><circle cx="232" cy="72" r="1.7" opacity="0.6"/><circle cx="255" cy="245" r="0.9" opacity="0.5"/><circle cx="550" cy="159" r="1.3" opacity="0.4"/><circle cx="197" cy="190" r="1.6" opacity="0.3"/><circle cx="33" cy="59" r="1.0" opacity="0.5"/><circle cx="194" cy="195" r="1.1" opacity="0.3"/><circle cx="211" cy="105" r="1.4" opacity="0.5"/><circle cx="549" cy="103" r="1.5" opacity="0.4"/><circle cx="462" cy="6" r="1.4" opacity="0.3"/><circle cx="498" cy="12" r="1.4" opacity="0.4"/><circle cx="87" cy="175" r="0.9" opacity="0.2"/><circle cx="135" cy="166" r="1.2" opacity="0.7"/><circle cx="218" cy="195" r="1.3" opacity="0.3"/><circle cx="488" cy="230" r="1.4" opacity="0.5"/><circle cx="535" cy="175" r="1.8" opacity="0.2"/><circle cx="590" cy="171" r="1.0" opacity="0.6"/><circle cx="616" cy="229" r="1.9" opacity="0.6"/><circle cx="388" cy="108" r="1.5" opacity="0.7"/><circle cx="186" cy="28" r="1.4" opacity="0.5"/><circle cx="297" cy="44" r="1.8" opacity="0.4"/><circle cx="156" cy="199" r="1.7" opacity="0.6"/><circle cx="381" cy="128" r="1.6" opacity="0.6"/><circle cx="403" cy="143" r="1.0" opacity="0.2"/><circle cx="87" cy="157" r="1.6" opacity="0.5"/><circle cx="70" cy="38" r="1.6" opacity="0.4"/><circle cx="359" cy="158" r="1.7" opacity="0.2"/><circle cx="615" cy="9" r="1.9" opacity="0.4"/><circle cx="85" cy="79" r="1.8" opacity="0.2"/><circle cx="48" cy="42" r="1.3" opacity="0.2"/><circle cx="200" cy="145" r="1.6" opacity="0.3"/><circle cx="544" cy="236" r="1.0" opacity="0.3"/><circle cx="643" cy="107" r="1.2" opacity="0.5"/><circle cx="455" cy="41" r="1.0" opacity="0.6"/><circle cx="0" cy="112" r="1.5" opacity="0.3"/><circle cx="378" cy="178" r="1.8" opacity="0.5"/><circle cx="623" cy="112" r="1.0" opacity="0.7"/><circle cx="427" cy="222" r="1.0" opacity="0.5"/><circle cx="607" cy="194" r="1.4" opacity="0.6"/><circle cx="92" cy="98" r="1.0" opacity="0.3"/><circle cx="451" cy="137" r="1.4" opacity="0.5"/><circle cx="114" cy="73" r="1.1" opacity="0.4"/><circle cx="336" cy="138" r="1.8" opacity="0.2"/><circle cx="281" cy="66" r="1.2" opacity="0.4"/><circle cx="169" cy="150" r="1.7" opacity="0.3"/><circle cx="277" cy="182" r="1.2" opacity="0.5"/><circle cx="291" cy="78" r="1.1" opacity="0.2"/><circle cx="342" cy="83" r="1.3" opacity="0.4"/><circle cx="21" cy="134" r="1.6" opacity="0.3"/><circle cx="551" cy="141" r="1.7" opacity="0.7"/><circle cx="317" cy="93" r="1.7" opacity="0.7"/><circle cx="110" cy="112" r="1.6" opacity="0.6"/><circle cx="384" cy="74" r="1.4" opacity="0.2"/><circle cx="589" cy="76" r="1.7" opacity="0.7"/><circle cx="404" cy="226" r="1.0" opacity="0.3"/><circle cx="586" cy="119" r="1.8" opacity="0.4"/><circle cx="570" cy="229" r="1.6" opacity="0.4"/><circle cx="578" cy="192" r="1.0" opacity="0.5"/><circle cx="224" cy="126" r="1.4" opacity="0.6"/><circle cx="190" cy="239" r="1.2" opacity="0.2"/><circle cx="357" cy="95" r="1.8" opacity="0.5"/><circle cx="372" cy="84" r="1.3" opacity="0.6"/><circle cx="76" cy="114" r="1.4" opacity="0.2"/><circle cx="582" cy="220" r="1.5" opacity="0.4"/><circle cx="232" cy="202" r="1.7" opacity="0.4"/><circle cx="206" cy="93" r="1.1" opacity="0.6"/><circle cx="135" cy="141" r="1.6" opacity="0.2"/><circle cx="366" cy="230" r="1.4" opacity="0.7"/><circle cx="237" cy="21" r="1.0" opacity="0.2"/><circle cx="172" cy="187" r="1.3" opacity="0.5"/><circle cx="481" cy="4" r="1.7" opacity="0.3"/><circle cx="421" cy="202" r="1.7" opacity="0.3"/><circle cx="166" cy="135" r="1.8" opacity="0.7"/><circle cx="491" cy="74" r="1.8" opacity="0.5"/><circle cx="119" cy="184" r="1.3" opacity="0.4"/><circle cx="496" cy="87" r="1.1" opacity="0.3"/><circle cx="102" cy="155" r="1.9" opacity="0.7"/><circle cx="638" cy="20" r="1.8" opacity="0.5"/><circle cx="100" cy="1" r="1.3" opacity="0.2"/><circle cx="458" cy="217" r="1.2" opacity="0.2"/><circle cx="624" cy="107" r="1.9" opacity="0.2"/><circle cx="372" cy="161" r="1.7" opacity="0.4"/><circle cx="428" cy="16" r="1.5" opacity="0.4"/><circle cx="35" cy="46" r="1.2" opacity="0.6"/><circle cx="225" cy="112" r="1.0" opacity="0.3"/><circle cx="71" cy="64" r="1.5" opacity="0.3"/><circle cx="315" cy="248" r="0.9" opacity="0.4"/><circle cx="440" cy="49" r="1.0" opacity="0.7"/><circle cx="273" cy="191" r="1.8" opacity="0.4"/><circle cx="545" cy="201" r="1.6" opacity="0.7"/><circle cx="56" cy="96" r="1.5" opacity="0.5"/><circle cx="602" cy="43" r="1.0" opacity="0.2"/><circle cx="306" cy="237" r="1.0" opacity="0.2"/><circle cx="194" cy="81" r="1.3" opacity="0.4"/><circle cx="389" cy="150" r="1.6" opacity="0.6"/><circle cx="295" cy="169" r="1.1" opacity="0.6"/><circle cx="397" cy="179" r="1.2" opacity="0.2"/><circle cx="34" cy="147" r="1.7" opacity="0.7"/><circle cx="385" cy="195" r="0.9" opacity="0.3"/><circle cx="513" cy="180" r="1.3" opacity="0.3"/><circle cx="189" cy="99" r="1.1" opacity="0.7"/><circle cx="494" cy="51" r="1.0" opacity="0.4"/><circle cx="537" cy="68" r="1.5" opacity="0.3"/><circle cx="247" cy="246" r="1.2" opacity="0.6"/><circle cx="593" cy="53" r="1.0" opacity="0.7"/><circle cx="306" cy="159" r="1.7" opacity="0.4"/><circle cx="289" cy="133" r="1.5" opacity="0.6"/><circle cx="650" cy="163" r="1.1" opacity="0.3"/><circle cx="563" cy="23" r="1.0" opacity="0.3"/><circle cx="647" cy="26" r="1.1" opacity="0.6"/><circle cx="230" cy="57" r="1.8" opacity="0.2"/><circle cx="519" cy="223" r="1.1" opacity="0.3"/><circle cx="157" cy="36" r="1.5" opacity="0.2"/><circle cx="306" cy="154" r="1.1" opacity="0.4"/><circle cx="356" cy="186" r="1.2" opacity="0.4"/><circle cx="613" cy="86" r="1.1" opacity="0.7"/><circle cx="239" cy="239" r="1.1" opacity="0.6"/><circle cx="239" cy="105" r="1.7" opacity="0.2"/><circle cx="216" cy="189" r="1.5" opacity="0.3"/><circle cx="499" cy="101" r="1.6" opacity="0.5"/><circle cx="305" cy="146" r="1.0" opacity="0.2"/><circle cx="656" cy="130" r="1.2" opacity="0.2"/><circle cx="371" cy="39" r="1.1" opacity="0.4"/><circle cx="81" cy="105" r="1.8" opacity="0.5"/><circle cx="656" cy="97" r="0.9" opacity="0.4"/><circle cx="286" cy="145" r="1.2" opacity="0.3"/><circle cx="56" cy="75" r="1.2" opacity="0.2"/><circle cx="517" cy="185" r="1.6" opacity="0.2"/><circle cx="159" cy="203" r="1.3" opacity="0.6"/><circle cx="438" cy="233" r="1.0" opacity="0.2"/><circle cx="362" cy="126" r="0.9" opacity="0.6"/><circle cx="138" cy="95" r="1.8" opacity="0.3"/><circle cx="201" cy="112" r="1.0" opacity="0.6"/><circle cx="160" cy="120" r="1.8" opacity="0.5"/><circle cx="11" cy="103" r="1.6" opacity="0.7"/><circle cx="114" cy="64" r="1.7" opacity="0.4"/><circle cx="516" cy="202" r="0.9" opacity="0.2"/><circle cx="601" cy="133" r="1.2" opacity="0.4"/><circle cx="383" cy="185" r="1.4" opacity="0.3"/><circle cx="201" cy="78" r="1.3" opacity="0.4"/><circle cx="587" cy="190" r="1.8" opacity="0.5"/><circle cx="158" cy="16" r="1.0" opacity="0.5"/><circle cx="203" cy="230" r="1.0" opacity="0.2"/><circle cx="130" cy="128" r="1.5" opacity="0.5"/><circle cx="575" cy="104" r="1.0" opacity="0.7"/><circle cx="190" cy="162" r="1.6" opacity="0.7"/><circle cx="282" cy="80" r="1.0" opacity="0.6"/><circle cx="147" cy="221" r="1.8" opacity="0.4"/><circle cx="551" cy="83" r="1.0" opacity="0.6"/><circle cx="371" cy="182" r="1.1" opacity="0.3"/><circle cx="549" cy="19" r="1.1" opacity="0.3"/><circle cx="551" cy="47" r="1.4" opacity="0.4"/><circle cx="28" cy="75" r="1.3" opacity="0.6"/><circle cx="660" cy="28" r="1.0" opacity="0.6"/><circle cx="426" cy="130" r="1.7" opacity="0.4"/><circle cx="211" cy="190" r="0.9" opacity="0.4"/><circle cx="442" cy="90" r="1.8" opacity="0.6"/><circle cx="550" cy="52" r="1.7" opacity="0.4"/><circle cx="98" cy="190" r="1.2" opacity="0.2"/><circle cx="202" cy="131" r="1.0" opacity="0.2"/><circle cx="230" cy="145" r="1.7" opacity="0.2"/><circle cx="188" cy="201" r="1.6" opacity="0.7"/><circle cx="398" cy="108" r="0.9" opacity="0.3"/><circle cx="96" cy="159" r="1.4" opacity="0.5"/><circle cx="324" cy="122" r="1.2" opacity="0.5"/><circle cx="51" cy="93" r="1.9" opacity="0.2"/><circle cx="354" cy="20" r="1.3" opacity="0.7"/><circle cx="564" cy="9" r="1.0" opacity="0.4"/><circle cx="201" cy="150" r="0.9" opacity="0.6"/><circle cx="161" cy="3" r="1.1" opacity="0.4"/><circle cx="469" cy="64" r="1.0" opacity="0.3"/><circle cx="91" cy="124" r="1.8" opacity="0.4"/><circle cx="139" cy="75" r="1.5" opacity="0.6"/><circle cx="331" cy="113" r="1.1" opacity="0.2"/><circle cx="102" cy="59" r="0.9" opacity="0.2"/><circle cx="593" cy="190" r="1.3" opacity="0.4"/><circle cx="599" cy="16" r="1.8" opacity="0.2"/><circle cx="309" cy="114" r="1.6" opacity="0.6"/><circle cx="571" cy="185" r="1.3" opacity="0.5"/><circle cx="374" cy="27" r="1.2" opacity="0.4"/><circle cx="39" cy="50" r="1.4" opacity="0.5"/><circle cx="643" cy="184" r="1.5" opacity="0.6"/><circle cx="617" cy="112" r="1.0" opacity="0.3"/><circle cx="598" cy="208" r="1.7" opacity="0.3"/><circle cx="451" cy="79" r="1.7" opacity="0.2"/><circle cx="463" cy="72" r="1.4" opacity="0.3"/><circle cx="367" cy="122" r="1.3" opacity="0.3"/><circle cx="367" cy="118" r="1.2" opacity="0.4"/><circle cx="435" cy="205" r="1.5" opacity="0.2"/><circle cx="65" cy="30" r="1.7" opacity="0.6"/><circle cx="28" cy="95" r="1.0" opacity="0.3"/><circle cx="573" cy="129" r="1.1" opacity="0.5"/><circle cx="381" cy="228" r="1.0" opacity="0.3"/><circle cx="436" cy="231" r="1.0" opacity="0.5"/><circle cx="290" cy="1" r="1.9" opacity="0.5"/><circle cx="338" cy="109" r="1.7" opacity="0.5"/><circle cx="177" cy="195" r="1.1" opacity="0.6"/><circle cx="623" cy="199" r="1.9" opacity="0.2"/><circle cx="110" cy="164" r="1.4" opacity="0.6"/><circle cx="362" cy="40" r="1.4" opacity="0.4"/><circle cx="281" cy="162" r="1.1" opacity="0.5"/><circle cx="45" cy="43" r="1.4" opacity="0.4"/><circle cx="77" cy="175" r="1.8" opacity="0.2"/><circle cx="661" cy="29" r="1.4" opacity="0.2"/><circle cx="611" cy="89" r="1.2" opacity="0.4"/><circle cx="265" cy="132" r="1.8" opacity="0.5"/><circle cx="614" cy="38" r="1.5" opacity="0.3"/><circle cx="443" cy="10" r="1.2" opacity="0.4"/><circle cx="524" cy="100" r="1.2" opacity="0.5"/><circle cx="470" cy="21" r="1.8" opacity="0.3"/><circle cx="462" cy="148" r="1.8" opacity="0.5"/><circle cx="97" cy="100" r="1.6" opacity="0.5"/><circle cx="348" cy="199" r="1.5" opacity="0.6"/><circle cx="94" cy="182" r="1.4" opacity="0.2"/><circle cx="313" cy="17" r="1.2" opacity="0.6"/><circle cx="178" cy="46" r="1.9" opacity="0.4"/><circle cx="375" cy="72" r="1.5" opacity="0.6"/><circle cx="653" cy="4" r="1.9" opacity="0.6"/><circle cx="12" cy="41" r="1.7" opacity="0.7"/><circle cx="301" cy="118" r="1.4" opacity="0.4"/><circle cx="393" cy="100" r="1.7" opacity="0.3"/><circle cx="184" cy="60" r="1.2" opacity="0.6"/><circle cx="419" cy="2" r="1.3" opacity="0.6"/><circle cx="480" cy="11" r="1.5" opacity="0.2"/><circle cx="154" cy="140" r="1.7" opacity="0.4"/><circle cx="228" cy="119" r="1.8" opacity="0.3"/><circle cx="654" cy="48" r="1.7" opacity="0.3"/><circle cx="553" cy="147" r="1.4" opacity="0.3"/><circle cx="364" cy="151" r="1.0" opacity="0.7"/><circle cx="378" cy="189" r="1.6" opacity="0.5"/><circle cx="34" cy="127" r="1.1" opacity="0.5"/><circle cx="42" cy="57" r="1.5" opacity="0.2"/><circle cx="263" cy="7" r="1.2" opacity="0.6"/><circle cx="50" cy="93" r="1.1" opacity="0.3"/><circle cx="509" cy="146" r="1.9" opacity="0.3"/><circle cx="341" cy="156" r="1.3" opacity="0.4"/><circle cx="472" cy="237" r="1.0" opacity="0.2"/><circle cx="67" cy="131" r="1.9" opacity="0.4"/><circle cx="606" cy="53" r="1.3" opacity="0.6"/><circle cx="414" cy="200" r="1.2" opacity="0.4"/><circle cx="430" cy="185" r="1.8" opacity="0.3"/><circle cx="397" cy="125" r="1.7" opacity="0.6"/><circle cx="568" cy="126" r="0.9" opacity="0.3"/><circle cx="580" cy="11" r="1.8" opacity="0.3"/><circle cx="330" cy="91" r="1.1" opacity="0.3"/><circle cx="127" cy="75" r="1.1" opacity="0.3"/><circle cx="455" cy="164" r="1.7" opacity="0.2"/><circle cx="416" cy="109" r="1.6" opacity="0.7"/><circle cx="88" cy="166" r="1.0" opacity="0.2"/><circle cx="312" cy="233" r="1.8" opacity="0.5"/><circle cx="306" cy="160" r="1.1" opacity="0.5"/><circle cx="345" cy="86" r="1.5" opacity="0.2"/><circle cx="452" cy="41" r="1.4" opacity="0.3"/><circle cx="136" cy="143" r="1.5" opacity="0.5"/><circle cx="595" cy="230" r="1.6" opacity="0.4"/><circle cx="508" cy="66" r="1.3" opacity="0.3"/><circle cx="164" cy="117" r="1.4" opacity="0.2"/><circle cx="232" cy="242" r="1.4" opacity="0.5"/><circle cx="622" cy="23" r="1.0" opacity="0.5"/><circle cx="608" cy="99" r="1.2" opacity="0.2"/><circle cx="212" cy="231" r="1.4" opacity="0.2"/><circle cx="277" cy="222" r="1.2" opacity="0.7"/><circle cx="272" cy="52" r="1.1" opacity="0.3"/><circle cx="169" cy="246" r="1.7" opacity="0.6"/><circle cx="564" cy="176" r="1.5" opacity="0.7"/><circle cx="657" cy="112" r="0.9" opacity="0.7"/><circle cx="512" cy="78" r="1.5" opacity="0.3"/><circle cx="560" cy="173" r="1.1" opacity="0.3"/><circle cx="134" cy="177" r="1.2" opacity="0.4"/><circle cx="147" cy="137" r="1.8" opacity="0.2"/><circle cx="351" cy="20" r="1.0" opacity="0.3"/><circle cx="362" cy="53" r="1.1" opacity="0.5"/><circle cx="216" cy="124" r="1.4" opacity="0.2"/><circle cx="648" cy="182" r="1.6" opacity="0.2"/><circle cx="568" cy="153" r="1.9" opacity="0.7"/><circle cx="628" cy="214" r="1.5" opacity="0.4"/><circle cx="476" cy="200" r="1.6" opacity="0.6"/><circle cx="74" cy="34" r="1.3" opacity="0.2"/><circle cx="352" cy="224" r="1.4" opacity="0.3"/><circle cx="553" cy="151" r="0.9" opacity="0.2"/><circle cx="330" cy="107" r="1.3" opacity="0.7"/><circle cx="495" cy="148" r="1.4" opacity="0.2"/><circle cx="450" cy="43" r="1.8" opacity="0.5"/><circle cx="483" cy="86" r="1.9" opacity="0.4"/><circle cx="574" cy="176" r="1.3" opacity="0.5"/><circle cx="529" cy="169" r="1.5" opacity="0.4"/><circle cx="223" cy="214" r="1.5" opacity="0.3"/><circle cx="497" cy="79" r="1.4" opacity="0.5"/><circle cx="371" cy="173" r="1.3" opacity="0.5"/><circle cx="19" cy="44" r="1.5" opacity="0.2"/><circle cx="476" cy="83" r="1.8" opacity="0.4"/><circle cx="363" cy="106" r="1.3" opacity="0.3"/><circle cx="205" cy="5" r="1.2" opacity="0.4"/><circle cx="17" cy="63" r="1.0" opacity="0.4"/><circle cx="567" cy="68" r="1.7" opacity="0.3"/><circle cx="452" cy="36" r="1.3" opacity="0.7"/><circle cx="214" cy="91" r="1.8" opacity="0.6"/><circle cx="471" cy="209" r="1.7" opacity="0.7"/><circle cx="342" cy="197" r="1.7" opacity="0.4"/><circle cx="118" cy="47" r="1.3" opacity="0.5"/><circle cx="319" cy="111" r="1.0" opacity="0.3"/><circle cx="567" cy="226" r="1.9" opacity="0.6"/><circle cx="549" cy="99" r="1.8" opacity="0.7"/><circle cx="649" cy="193" r="1.0" opacity="0.5"/><circle cx="155" cy="209" r="1.1" opacity="0.3"/><circle cx="443" cy="170" r="1.7" opacity="0.6"/><circle cx="412" cy="199" r="1.5" opacity="0.3"/><circle cx="98" cy="62" r="1.2" opacity="0.4"/><circle cx="330" cy="38" r="1.3" opacity="0.6"/><circle cx="471" cy="105" r="1.0" opacity="0.7"/><circle cx="572" cy="63" r="1.3" opacity="0.3"/><circle cx="125" cy="178" r="1.1" opacity="0.6"/><circle cx="529" cy="43" r="1.5" opacity="0.3"/><circle cx="175" cy="28" r="1.9" opacity="0.2"/><circle cx="149" cy="70" r="1.1" opacity="0.4"/><circle cx="486" cy="161" r="0.9" opacity="0.5"/><circle cx="467" cy="157" r="1.5" opacity="0.3"/><circle cx="463" cy="43" r="1.0" opacity="0.3"/><circle cx="292" cy="2" r="1.4" opacity="0.6"/><circle cx="388" cy="141" r="1.1" opacity="0.7"/><circle cx="69" cy="6" r="1.6" opacity="0.2"/><circle cx="80" cy="12" r="1.0" opacity="0.3"/><circle cx="262" cy="26" r="1.5" opacity="0.6"/><circle cx="55" cy="33" r="1.1" opacity="0.6"/><circle cx="439" cy="107" r="1.2" opacity="0.6"/><circle cx="431" cy="100" r="1.4" opacity="0.4"/><circle cx="206" cy="95" r="1.5" opacity="0.2"/><circle cx="516" cy="233" r="1.4" opacity="0.5"/><circle cx="170" cy="33" r="0.9" opacity="0.2"/><circle cx="181" cy="44" r="1.0" opacity="0.6"/><circle cx="228" cy="36" r="1.1" opacity="0.3"/><circle cx="348" cy="163" r="0.9" opacity="0.6"/><circle cx="636" cy="92" r="1.2" opacity="0.4"/><circle cx="411" cy="116" r="1.1" opacity="0.6"/><circle cx="635" cy="185" r="1.0" opacity="0.6"/><circle cx="479" cy="47" r="1.6" opacity="0.5"/><circle cx="30" cy="39" r="1.9" opacity="0.7"/><circle cx="239" cy="221" r="1.5" opacity="0.3"/><circle cx="659" cy="49" r="1.7" opacity="0.2"/><circle cx="556" cy="234" r="1.0" opacity="0.7"/><circle cx="45" cy="52" r="1.4" opacity="0.4"/><circle cx="539" cy="160" r="1.8" opacity="0.4"/><circle cx="165" cy="251" r="1.5" opacity="0.5"/><circle cx="268" cy="174" r="0.9" opacity="0.5"/><circle cx="384" cy="156" r="1.9" opacity="0.3"/><circle cx="20" cy="150" r="1.7" opacity="0.2"/><circle cx="328" cy="145" r="1.1" opacity="0.3"/><circle cx="253" cy="102" r="1.8" opacity="0.5"/><circle cx="516" cy="76" r="1.8" opacity="0.5"/><circle cx="596" cy="205" r="1.8" opacity="0.2"/><circle cx="85" cy="208" r="1.4" opacity="0.3"/><circle cx="452" cy="147" r="1.6" opacity="0.4"/><circle cx="293" cy="15" r="1.6" opacity="0.2"/><circle cx="26" cy="151" r="1.6" opacity="0.7"/><circle cx="638" cy="49" r="1.6" opacity="0.4"/><circle cx="47" cy="129" r="1.1" opacity="0.5"/><circle cx="342" cy="120" r="1.3" opacity="0.2"/><circle cx="30" cy="144" r="1.5" opacity="0.5"/><circle cx="410" cy="51" r="0.9" opacity="0.5"/><circle cx="81" cy="5" r="1.4" opacity="0.4"/><circle cx="280" cy="225" r="1.0" opacity="0.5"/><circle cx="186" cy="180" r="1.2" opacity="0.4"/><circle cx="315" cy="223" r="1.8" opacity="0.5"/><circle cx="597" cy="105" r="1.1" opacity="0.7"/><circle cx="336" cy="117" r="1.2" opacity="0.5"/><circle cx="198" cy="94" r="1.5" opacity="0.2"/><circle cx="246" cy="219" r="1.3" opacity="0.6"/><circle cx="148" cy="39" r="1.3" opacity="0.3"/><circle cx="650" cy="160" r="1.1" opacity="0.2"/><circle cx="7" cy="66" r="1.5" opacity="0.2"/><circle cx="127" cy="158" r="1.4" opacity="0.3"/><circle cx="179" cy="77" r="1.1" opacity="0.6"/><circle cx="130" cy="224" r="1.8" opacity="0.3"/><circle cx="401" cy="3" r="1.0" opacity="0.5"/><circle cx="451" cy="77" r="1.9" opacity="0.7"/><circle cx="261" cy="19" r="1.3" opacity="0.6"/><circle cx="300" cy="213" r="1.4" opacity="0.5"/><circle cx="111" cy="51" r="1.8" opacity="0.3"/><circle cx="109" cy="1" r="1.1" opacity="0.6"/><circle cx="548" cy="162" r="1.7" opacity="0.5"/><circle cx="47" cy="82" r="1.5" opacity="0.6"/><circle cx="356" cy="76" r="1.7" opacity="0.2"/><circle cx="553" cy="179" r="1.4" opacity="0.2"/><circle cx="189" cy="56" r="1.0" opacity="0.5"/><circle cx="337" cy="136" r="1.5" opacity="0.3"/><circle cx="145" cy="220" r="1.7" opacity="0.6"/><circle cx="529" cy="93" r="1.3" opacity="0.3"/><circle cx="383" cy="72" r="1.1" opacity="0.3"/><circle cx="144" cy="118" r="1.7" opacity="0.2"/><circle cx="322" cy="53" r="1.2" opacity="0.5"/><circle cx="95" cy="214" r="1.8" opacity="0.2"/><circle cx="60" cy="113" r="1.3" opacity="0.5"/><circle cx="409" cy="185" r="1.6" opacity="0.5"/><circle cx="197" cy="136" r="1.5" opacity="0.4"/><circle cx="203" cy="147" r="1.2" opacity="0.7"/><circle cx="639" cy="138" r="1.3" opacity="0.2"/><circle cx="281" cy="152" r="1.0" opacity="0.4"/><circle cx="620" cy="107" r="1.0" opacity="0.3"/><circle cx="428" cy="179" r="0.9" opacity="0.3"/><circle cx="68" cy="79" r="1.4" opacity="0.3"/><circle cx="605" cy="170" r="1.2" opacity="0.2"/><circle cx="463" cy="34" r="1.8" opacity="0.5"/><circle cx="505" cy="219" r="1.1" opacity="0.4"/><circle cx="75" cy="201" r="1.6" opacity="0.6"/><circle cx="551" cy="102" r="1.6" opacity="0.3"/><circle cx="128" cy="153" r="1.1" opacity="0.6"/><circle cx="112" cy="154" r="1.0" opacity="0.7"/><circle cx="128" cy="24" r="1.8" opacity="0.4"/><circle cx="304" cy="131" r="1.4" opacity="0.2"/><circle cx="173" cy="159" r="1.0" opacity="0.5"/><circle cx="276" cy="122" r="1.8" opacity="0.4"/><circle cx="300" cy="43" r="1.0" opacity="0.3"/><circle cx="295" cy="115" r="1.0" opacity="0.4"/><circle cx="169" cy="133" r="1.8" opacity="0.5"/><circle cx="149" cy="46" r="1.4" opacity="0.5"/><circle cx="252" cy="148" r="1.6" opacity="0.2"/><circle cx="451" cy="21" r="1.9" opacity="0.4"/><circle cx="419" cy="191" r="1.2" opacity="0.4"/><circle cx="387" cy="244" r="1.4" opacity="0.2"/><circle cx="272" cy="59" r="1.7" opacity="0.7"/><circle cx="325" cy="29" r="1.5" opacity="0.3"/><circle cx="51" cy="147" r="1.1" opacity="0.3"/><circle cx="398" cy="194" r="1.0" opacity="0.2"/><circle cx="418" cy="69" r="1.0" opacity="0.5"/><circle cx="435" cy="43" r="0.9" opacity="0.3"/><circle cx="227" cy="61" r="1.7" opacity="0.4"/><circle cx="125" cy="38" r="1.0" opacity="0.2"/><circle cx="139" cy="169" r="1.0" opacity="0.6"/><circle cx="231" cy="64" r="1.0" opacity="0.5"/><circle cx="502" cy="167" r="1.2" opacity="0.4"/><circle cx="570" cy="79" r="1.1" opacity="0.4"/><circle cx="352" cy="244" r="1.3" opacity="0.2"/><circle cx="341" cy="71" r="1.6" opacity="0.2"/><circle cx="206" cy="52" r="1.5" opacity="0.4"/><circle cx="417" cy="58" r="1.7" opacity="0.3"/><circle cx="264" cy="110" r="1.8" opacity="0.3"/><circle cx="504" cy="150" r="1.6" opacity="0.2"/><circle cx="320" cy="102" r="1.6" opacity="0.7"/><circle cx="82" cy="21" r="1.8" opacity="0.2"/><circle cx="471" cy="145" r="1.8" opacity="0.5"/><circle cx="476" cy="13" r="1.3" opacity="0.3"/><circle cx="163" cy="67" r="1.1" opacity="0.2"/><circle cx="103" cy="133" r="1.7" opacity="0.3"/><circle cx="211" cy="6" r="1.5" opacity="0.2"/><circle cx="367" cy="95" r="0.9" opacity="0.2"/><circle cx="165" cy="99" r="1.8" opacity="0.4"/><circle cx="5" cy="130" r="1.3" opacity="0.6"/><circle cx="238" cy="64" r="1.5" opacity="0.2"/><circle cx="260" cy="172" r="1.2" opacity="0.4"/><circle cx="198" cy="116" r="1.2" opacity="0.4"/><circle cx="605" cy="51" r="1.5" opacity="0.4"/><circle cx="89" cy="30" r="1.4" opacity="0.6"/><circle cx="312" cy="206" r="1.4" opacity="0.2"/><circle cx="425" cy="50" r="1.6" opacity="0.4"/><circle cx="359" cy="72" r="1.2" opacity="0.4"/><circle cx="115" cy="150" r="1.7" opacity="0.5"/><circle cx="203" cy="228" r="1.2" opacity="0.2"/><circle cx="236" cy="171" r="1.1" opacity="0.4"/><circle cx="216" cy="12" r="1.2" opacity="0.6"/><circle cx="395" cy="33" r="1.7" opacity="0.7"/><circle cx="85" cy="47" r="1.5" opacity="0.6"/><circle cx="283" cy="1" r="1.1" opacity="0.2"/><circle cx="35" cy="148" r="1.6" opacity="0.4"/><circle cx="615" cy="121" r="1.8" opacity="0.2"/><circle cx="55" cy="174" r="1.0" opacity="0.6"/><circle cx="384" cy="172" r="1.7" opacity="0.2"/><circle cx="257" cy="162" r="1.8" opacity="0.7"/><circle cx="448" cy="184" r="1.5" opacity="0.3"/><circle cx="286" cy="78" r="1.4" opacity="0.6"/><circle cx="277" cy="107" r="0.9" opacity="0.3"/><circle cx="105" cy="142" r="1.4" opacity="0.6"/><circle cx="300" cy="14" r="1.8" opacity="0.5"/><circle cx="595" cy="235" r="1.1" opacity="0.6"/><circle cx="585" cy="171" r="1.6" opacity="0.6"/><circle cx="53" cy="163" r="1.0" opacity="0.2"/><circle cx="216" cy="190" r="1.2" opacity="0.2"/><circle cx="301" cy="220" r="1.3" opacity="0.7"/><circle cx="67" cy="24" r="1.3" opacity="0.6"/><circle cx="310" cy="66" r="1.6" opacity="0.6"/><circle cx="0" cy="97" r="1.1" opacity="0.6"/><circle cx="481" cy="117" r="1.3" opacity="0.5"/><circle cx="402" cy="180" r="1.2" opacity="0.4"/><circle cx="388" cy="59" r="1.5" opacity="0.2"/><circle cx="578" cy="66" r="1.9" opacity="0.2"/><circle cx="623" cy="141" r="1.2" opacity="0.5"/><circle cx="548" cy="40" r="1.1" opacity="0.6"/><circle cx="572" cy="189" r="1.4" opacity="0.5"/><circle cx="389" cy="219" r="1.8" opacity="0.6"/><circle cx="151" cy="41" r="1.8" opacity="0.4"/><circle cx="67" cy="200" r="1.0" opacity="0.6"/><circle cx="412" cy="234" r="1.4" opacity="0.2"/><circle cx="292" cy="161" r="1.3" opacity="0.5"/><circle cx="642" cy="6" r="1.8" opacity="0.2"/><circle cx="302" cy="103" r="1.6" opacity="0.2"/><circle cx="285" cy="93" r="1.3" opacity="0.3"/><circle cx="257" cy="113" r="1.4" opacity="0.6"/><circle cx="596" cy="161" r="1.0" opacity="0.4"/><circle cx="520" cy="5" r="1.5" opacity="0.3"/><circle cx="175" cy="250" r="1.7" opacity="0.5"/><circle cx="187" cy="18" r="1.2" opacity="0.3"/><circle cx="519" cy="32" r="1.1" opacity="0.3"/><circle cx="108" cy="163" r="1.2" opacity="0.4"/><circle cx="187" cy="223" r="1.5" opacity="0.2"/><circle cx="552" cy="104" r="1.8" opacity="0.2"/><circle cx="265" cy="104" r="1.0" opacity="0.7"/><circle cx="543" cy="149" r="0.9" opacity="0.4"/><circle cx="33" cy="87" r="1.5" opacity="0.7"/><circle cx="442" cy="150" r="1.9" opacity="0.2"/><circle cx="555" cy="5" r="1.5" opacity="0.7"/><circle cx="410" cy="68" r="1.4" opacity="0.3"/><circle cx="150" cy="160" r="1.0" opacity="0.2"/><circle cx="287" cy="34" r="1.2" opacity="0.6"/><circle cx="250" cy="53" r="1.4" opacity="0.6"/><circle cx="576" cy="13" r="1.4" opacity="0.7"/><circle cx="501" cy="44" r="1.8" opacity="0.6"/><circle cx="512" cy="7" r="1.6" opacity="0.3"/><circle cx="310" cy="17" r="1.7" opacity="0.3"/><circle cx="325" cy="165" r="1.9" opacity="0.6"/><circle cx="574" cy="154" r="1.6" opacity="0.5"/><circle cx="284" cy="57" r="1.3" opacity="0.2"/><circle cx="258" cy="130" r="1.1" opacity="0.6"/><circle cx="462" cy="156" r="1.3" opacity="0.5"/><circle cx="88" cy="173" r="1.5" opacity="0.5"/><circle cx="626" cy="219" r="1.0" opacity="0.6"/><circle cx="320" cy="37" r="1.4" opacity="0.5"/><circle cx="180" cy="220" r="1.2" opacity="0.4"/><circle cx="14" cy="130" r="1.2" opacity="0.6"/><circle cx="410" cy="202" r="1.0" opacity="0.2"/><circle cx="410" cy="22" r="1.6" opacity="0.4"/><circle cx="181" cy="227" r="1.9" opacity="0.5"/><circle cx="81" cy="36" r="1.1" opacity="0.6"/><circle cx="361" cy="33" r="1.8" opacity="0.3"/><circle cx="219" cy="221" r="1.4" opacity="0.3"/><circle cx="331" cy="98" r="1.5" opacity="0.6"/><circle cx="254" cy="115" r="1.7" opacity="0.4"/><circle cx="56" cy="109" r="1.6" opacity="0.6"/><circle cx="632" cy="20" r="1.8" opacity="0.4"/><circle cx="658" cy="185" r="1.7" opacity="0.7"/><circle cx="423" cy="11" r="1.3" opacity="0.3"/><circle cx="237" cy="92" r="1.1" opacity="0.7"/><circle cx="529" cy="74" r="1.8" opacity="0.7"/><circle cx="382" cy="48" r="1.4" opacity="0.6"/><circle cx="48" cy="107" r="1.2" opacity="0.7"/><circle cx="658" cy="70" r="1.0" opacity="0.6"/><circle cx="652" cy="144" r="0.9" opacity="0.3"/><circle cx="655" cy="101" r="1.7" opacity="0.3"/><circle cx="427" cy="105" r="1.6" opacity="0.2"/><circle cx="76" cy="81" r="1.1" opacity="0.7"/><circle cx="352" cy="146" r="0.9" opacity="0.4"/><circle cx="139" cy="222" r="1.4" opacity="0.7"/><circle cx="41" cy="55" r="0.9" opacity="0.3"/><circle cx="414" cy="106" r="1.4" opacity="0.7"/><circle cx="447" cy="202" r="1.4" opacity="0.5"/><circle cx="149" cy="171" r="1.8" opacity="0.6"/><circle cx="345" cy="175" r="1.0" opacity="0.2"/><circle cx="252" cy="247" r="1.7" opacity="0.6"/><circle cx="546" cy="61" r="1.1" opacity="0.6"/><circle cx="74" cy="171" r="1.4" opacity="0.2"/><circle cx="109" cy="223" r="1.7" opacity="0.5"/><circle cx="77" cy="106" r="1.4" opacity="0.5"/><circle cx="158" cy="47" r="1.0" opacity="0.5"/><circle cx="216" cy="229" r="1.2" opacity="0.6"/><circle cx="517" cy="92" r="0.9" opacity="0.2"/><circle cx="283" cy="199" r="1.6" opacity="0.6"/><circle cx="395" cy="187" r="1.1" opacity="0.4"/><circle cx="394" cy="129" r="1.3" opacity="0.4"/><circle cx="72" cy="127" r="1.7" opacity="0.2"/><circle cx="619" cy="64" r="1.2" opacity="0.5"/><circle cx="206" cy="153" r="1.4" opacity="0.7"/><circle cx="411" cy="114" r="1.6" opacity="0.4"/><circle cx="168" cy="168" r="1.3" opacity="0.3"/><circle cx="322" cy="98" r="1.5" opacity="0.4"/><circle cx="390" cy="221" r="1.1" opacity="0.6"/><circle cx="464" cy="200" r="1.2" opacity="0.2"/><circle cx="189" cy="240" r="1.2" opacity="0.4"/><circle cx="143" cy="128" r="1.6" opacity="0.3"/><circle cx="304" cy="179" r="0.9" opacity="0.3"/><circle cx="588" cy="113" r="1.8" opacity="0.5"/><circle cx="256" cy="65" r="1.8" opacity="0.5"/><circle cx="340" cy="194" r="1.4" opacity="0.5"/><circle cx="483" cy="97" r="1.7" opacity="0.7"/><circle cx="344" cy="2" r="1.6" opacity="0.6"/><circle cx="466" cy="85" r="1.7" opacity="0.6"/><circle cx="100" cy="6" r="0.9" opacity="0.5"/><circle cx="264" cy="160" r="1.4" opacity="0.5"/><circle cx="416" cy="181" r="1.6" opacity="0.6"/><circle cx="246" cy="113" r="1.1" opacity="0.2"/><circle cx="499" cy="108" r="1.9" opacity="0.6"/><circle cx="393" cy="186" r="1.8" opacity="0.6"/><circle cx="223" cy="55" r="1.8" opacity="0.3"/><circle cx="378" cy="174" r="1.4" opacity="0.6"/><circle cx="454" cy="206" r="1.5" opacity="0.7"/><circle cx="623" cy="102" r="1.2" opacity="0.2"/><circle cx="479" cy="22" r="1.3" opacity="0.4"/><circle cx="149" cy="90" r="1.8" opacity="0.2"/><circle cx="199" cy="188" r="1.3" opacity="0.3"/><circle cx="635" cy="192" r="1.1" opacity="0.7"/><circle cx="342" cy="247" r="1.4" opacity="0.4"/><circle cx="591" cy="81" r="1.9" opacity="0.4"/><circle cx="38" cy="91" r="1.3" opacity="0.4"/><circle cx="467" cy="58" r="1.5" opacity="0.2"/><circle cx="88" cy="140" r="1.5" opacity="0.6"/><circle cx="324" cy="156" r="1.0" opacity="0.4"/><circle cx="100" cy="31" r="1.0" opacity="0.2"/><circle cx="627" cy="63" r="1.2" opacity="0.7"/><circle cx="464" cy="22" r="1.7" opacity="0.3"/><circle cx="114" cy="105" r="1.4" opacity="0.2"/><circle cx="52" cy="100" r="1.0" opacity="0.6"/><circle cx="580" cy="237" r="1.5" opacity="0.4"/><circle cx="28" cy="123" r="1.4" opacity="0.3"/><circle cx="77" cy="137" r="1.0" opacity="0.4"/><circle cx="161" cy="164" r="0.9" opacity="0.6"/><circle cx="617" cy="42" r="1.5" opacity="0.4"/><circle cx="266" cy="192" r="0.9" opacity="0.2"/><circle cx="79" cy="109" r="1.5" opacity="0.2"/><circle cx="264" cy="183" r="1.4" opacity="0.5"/><circle cx="629" cy="86" r="1.4" opacity="0.2"/><circle cx="546" cy="116" r="1.4" opacity="0.4"/><circle cx="401" cy="47" r="1.8" opacity="0.7"/><circle cx="271" cy="48" r="1.0" opacity="0.6"/><circle cx="478" cy="44" r="1.7" opacity="0.5"/><circle cx="356" cy="184" r="1.4" opacity="0.2"/><circle cx="587" cy="148" r="1.5" opacity="0.3"/><circle cx="125" cy="104" r="1.5" opacity="0.4"/><circle cx="213" cy="207" r="1.6" opacity="0.2"/><circle cx="628" cy="77" r="1.3" opacity="0.3"/><circle cx="469" cy="77" r="1.9" opacity="0.5"/><circle cx="631" cy="79" r="1.0" opacity="0.3"/><circle cx="519" cy="7" r="1.4" opacity="0.3"/><circle cx="495" cy="20" r="0.9" opacity="0.3"/><circle cx="498" cy="91" r="1.1" opacity="0.6"/><circle cx="289" cy="104" r="1.9" opacity="0.5"/><circle cx="74" cy="158" r="1.6" opacity="0.6"/><circle cx="171" cy="153" r="1.7" opacity="0.4"/><circle cx="386" cy="124" r="1.1" opacity="0.7"/><circle cx="436" cy="95" r="1.0" opacity="0.6"/><circle cx="637" cy="118" r="1.7" opacity="0.7"/><circle cx="544" cy="67" r="1.4" opacity="0.4"/><circle cx="326" cy="176" r="1.2" opacity="0.6"/><circle cx="257" cy="153" r="1.8" opacity="0.4"/><circle cx="538" cy="18" r="1.3" opacity="0.7"/><circle cx="614" cy="13" r="1.2" opacity="0.2"/><circle cx="99" cy="21" r="1.1" opacity="0.5"/><circle cx="620" cy="175" r="1.3" opacity="0.5"/><circle cx="344" cy="67" r="1.7" opacity="0.3"/><circle cx="130" cy="4" r="1.8" opacity="0.2"/><circle cx="144" cy="193" r="1.7" opacity="0.2"/><circle cx="150" cy="172" r="1.8" opacity="0.5"/><circle cx="31" cy="60" r="1.0" opacity="0.5"/><circle cx="371" cy="53" r="0.9" opacity="0.3"/><circle cx="498" cy="116" r="1.4" opacity="0.5"/><circle cx="227" cy="204" r="1.6" opacity="0.7"/><circle cx="260" cy="114" r="1.2" opacity="0.2"/><circle cx="333" cy="131" r="1.9" opacity="0.2"/><circle cx="605" cy="223" r="1.2" opacity="0.4"/><circle cx="666" cy="158" r="1.0" opacity="0.6"/><circle cx="309" cy="216" r="1.3" opacity="0.6"/><circle cx="302" cy="220" r="1.3" opacity="0.2"/><circle cx="308" cy="122" r="1.0" opacity="0.3"/><circle cx="197" cy="79" r="1.4" opacity="0.6"/><circle cx="500" cy="121" r="1.4" opacity="0.3"/><circle cx="233" cy="138" r="1.9" opacity="0.6"/><circle cx="210" cy="88" r="1.0" opacity="0.6"/><circle cx="13" cy="147" r="1.4" opacity="0.2"/><circle cx="248" cy="107" r="1.3" opacity="0.7"/><circle cx="254" cy="14" r="1.5" opacity="0.4"/><circle cx="412" cy="89" r="1.2" opacity="0.7"/><circle cx="164" cy="186" r="1.2" opacity="0.4"/><circle cx="444" cy="37" r="1.5" opacity="0.3"/><circle cx="352" cy="165" r="1.2" opacity="0.6"/><circle cx="392" cy="144" r="1.7" opacity="0.3"/><circle cx="168" cy="231" r="1.2" opacity="0.2"/><circle cx="266" cy="18" r="1.2" opacity="0.4"/><circle cx="384" cy="39" r="1.1" opacity="0.2"/><circle cx="487" cy="4" r="1.0" opacity="0.6"/><circle cx="470" cy="126" r="1.7" opacity="0.3"/><circle cx="611" cy="235" r="1.6" opacity="0.5"/><circle cx="492" cy="197" r="1.8" opacity="0.4"/><circle cx="59" cy="149" r="1.7" opacity="0.7"/><circle cx="322" cy="224" r="1.3" opacity="0.2"/><circle cx="389" cy="128" r="1.8" opacity="0.5"/><circle cx="162" cy="240" r="1.1" opacity="0.3"/><circle cx="431" cy="171" r="1.6" opacity="0.5"/><circle cx="473" cy="90" r="1.0" opacity="0.5"/><circle cx="70" cy="141" r="1.3" opacity="0.2"/><circle cx="557" cy="80" r="1.5" opacity="0.3"/><circle cx="323" cy="38" r="1.5" opacity="0.7"/><circle cx="57" cy="37" r="1.1" opacity="0.6"/><circle cx="621" cy="82" r="1.3" opacity="0.4"/><circle cx="108" cy="222" r="0.9" opacity="0.2"/><circle cx="358" cy="104" r="1.0" opacity="0.7"/><circle cx="474" cy="66" r="1.3" opacity="0.3"/><circle cx="626" cy="126" r="1.5" opacity="0.2"/><circle cx="461" cy="107" r="1.4" opacity="0.5"/><circle cx="20" cy="155" r="1.5" opacity="0.3"/><circle cx="193" cy="123" r="1.8" opacity="0.5"/><circle cx="634" cy="162" r="1.8" opacity="0.3"/><circle cx="653" cy="188" r="1.3" opacity="0.3"/><circle cx="308" cy="108" r="1.3" opacity="0.6"/><circle cx="89" cy="97" r="1.1" opacity="0.3"/><circle cx="556" cy="166" r="1.6" opacity="0.3"/><circle cx="99" cy="15" r="1.4" opacity="0.7"/><circle cx="378" cy="199" r="1.6" opacity="0.4"/><circle cx="503" cy="13" r="1.6" opacity="0.4"/><circle cx="134" cy="37" r="1.7" opacity="0.6"/><circle cx="593" cy="96" r="1.8" opacity="0.2"/><circle cx="516" cy="149" r="1.0" opacity="0.3"/><circle cx="442" cy="70" r="1.0" opacity="0.4"/><circle cx="533" cy="239" r="1.5" opacity="0.4"/><circle cx="349" cy="204" r="0.9" opacity="0.2"/><circle cx="607" cy="98" r="1.1" opacity="0.4"/><circle cx="285" cy="154" r="1.0" opacity="0.4"/><circle cx="241" cy="109" r="1.8" opacity="0.3"/><circle cx="233" cy="36" r="1.7" opacity="0.2"/><circle cx="517" cy="208" r="1.9" opacity="0.3"/><circle cx="317" cy="28" r="1.3" opacity="0.3"/><circle cx="340" cy="169" r="1.5" opacity="0.2"/></g>
<g fill="#34f03c" opacity="0.55" filter="url(#bl3)" style="mix-blend-mode:screen"><ellipse cx="45" cy="86" rx="11.2" ry="16.2" transform="rotate(0 45 86)" opacity="0.75" filter="url(#bl4)"/><circle cx="38.9" cy="71.4" r="4.0"/><circle cx="48.2" cy="98.6" r="3.7"/><circle cx="40.8" cy="77.3" r="2.6"/><circle cx="57.5" cy="89.0" r="3.2"/><circle cx="37.7" cy="103.7" r="5.2"/><circle cx="31.7" cy="85.1" r="4.0"/><circle cx="40.2" cy="80.6" r="4.2"/><circle cx="49.2" cy="85.3" r="2.7"/><circle cx="48.1" cy="95.2" r="3.2"/><circle cx="43.0" cy="75.2" r="2.6"/><circle cx="35.1" cy="86.2" r="4.0"/><circle cx="42.7" cy="74.4" r="3.5"/><circle cx="36.7" cy="71.0" r="2.9"/><circle cx="36.5" cy="98.9" r="4.9"/><circle cx="29.7" cy="89.0" r="4.9"/><circle cx="45.3" cy="86.5" r="3.2"/><circle cx="43.2" cy="83.2" r="2.8"/><circle cx="36.0" cy="94.2" r="5.4"/><circle cx="42.5" cy="76.7" r="4.2"/><circle cx="49.3" cy="112.9" r="4.5"/><circle cx="51.5" cy="95.3" r="3.2"/><circle cx="44.5" cy="100.9" r="4.6"/><circle cx="46.4" cy="85.8" r="4.9"/><circle cx="42.2" cy="84.3" r="4.9"/><circle cx="45.8" cy="76.4" r="4.3"/><circle cx="35.1" cy="72.7" r="4.7"/><circle cx="52.4" cy="82.0" r="4.6"/><circle cx="36.3" cy="90.7" r="4.2"/><circle cx="35.3" cy="92.8" r="3.5"/><circle cx="42.5" cy="85.9" r="3.8"/><circle cx="44.6" cy="100.8" r="5.3"/><circle cx="35.4" cy="65.7" r="3.1"/><circle cx="42.3" cy="88.9" r="3.7"/><circle cx="41.3" cy="78.0" r="5.0"/><circle cx="46.2" cy="81.8" r="3.3"/><circle cx="59.5" cy="91.3" r="2.8"/><circle cx="58.3" cy="89.8" r="3.8"/><circle cx="51.9" cy="86.2" r="3.1"/><circle cx="40.2" cy="75.0" r="5.2"/><circle cx="53.2" cy="82.4" r="4.5"/><circle cx="59.3" cy="72.6" r="4.9"/><circle cx="42.7" cy="74.3" r="4.7"/><circle cx="44.9" cy="90.8" r="4.6"/><circle cx="45.4" cy="94.0" r="2.9"/><circle cx="51.6" cy="91.1" r="2.6"/><circle cx="59.0" cy="92.9" r="5.2"/><circle cx="50.4" cy="75.8" r="3.8"/><circle cx="51.1" cy="93.0" r="5.3"/></g><g fill="#ee50ee" opacity="0.6" filter="url(#bl2)" style="mix-blend-mode:screen"><ellipse cx="46" cy="90" rx="6.2" ry="10.0" transform="rotate(0 46 90)" opacity="0.75" filter="url(#bl4)"/><circle cx="46.0" cy="80.1" r="2.1"/><circle cx="50.6" cy="82.8" r="3.1"/><circle cx="46.1" cy="77.7" r="2.5"/><circle cx="43.8" cy="100.8" r="1.6"/><circle cx="44.9" cy="88.1" r="2.4"/><circle cx="42.1" cy="91.5" r="2.5"/><circle cx="48.7" cy="83.7" r="2.8"/><circle cx="46.5" cy="85.2" r="2.4"/><circle cx="38.9" cy="103.3" r="2.5"/><circle cx="41.9" cy="96.2" r="3.3"/><circle cx="35.8" cy="86.3" r="2.0"/><circle cx="48.8" cy="89.2" r="1.6"/><circle cx="45.8" cy="102.6" r="3.1"/><circle cx="43.8" cy="83.7" r="1.9"/><circle cx="47.7" cy="83.3" r="2.7"/><circle cx="46.2" cy="93.3" r="2.3"/><circle cx="47.7" cy="84.1" r="3.2"/><circle cx="47.1" cy="102.8" r="2.0"/><circle cx="40.3" cy="82.9" r="1.7"/></g><g fill="#ffffff" opacity="0.35" filter="url(#bl2)" style="mix-blend-mode:screen"><ellipse cx="45" cy="88" rx="5.0" ry="7.5" transform="rotate(0 45 88)" opacity="0.75" filter="url(#bl4)"/><circle cx="43.2" cy="77.3" r="1.8"/><circle cx="45.0" cy="94.1" r="1.9"/><circle cx="47.3" cy="92.1" r="3.3"/><circle cx="44.4" cy="97.0" r="2.6"/><circle cx="47.9" cy="89.7" r="3.0"/><circle cx="44.5" cy="87.5" r="2.1"/><circle cx="45.0" cy="87.6" r="1.7"/><circle cx="44.3" cy="94.5" r="2.4"/></g><g fill="#34f03c" opacity="0.6" filter="url(#bl3)" style="mix-blend-mode:screen"><ellipse cx="94" cy="91" rx="12.5" ry="15.0" transform="rotate(0 94 91)" opacity="0.75" filter="url(#bl4)"/><circle cx="92.4" cy="102.9" r="3.6"/><circle cx="94.8" cy="99.7" r="3.6"/><circle cx="84.1" cy="101.8" r="3.3"/><circle cx="84.7" cy="87.2" r="4.1"/><circle cx="100.2" cy="95.6" r="3.0"/><circle cx="88.3" cy="90.5" r="3.6"/><circle cx="85.9" cy="104.5" r="3.7"/><circle cx="99.4" cy="89.5" r="2.7"/><circle cx="88.0" cy="97.6" r="3.3"/><circle cx="86.3" cy="74.5" r="5.2"/><circle cx="91.1" cy="87.4" r="4.1"/><circle cx="96.4" cy="94.0" r="4.7"/><circle cx="101.9" cy="104.6" r="3.5"/><circle cx="91.1" cy="90.4" r="4.5"/><circle cx="91.4" cy="96.6" r="3.8"/><circle cx="87.2" cy="72.9" r="5.3"/><circle cx="94.2" cy="98.2" r="4.3"/><circle cx="108.7" cy="98.5" r="3.3"/><circle cx="91.0" cy="92.2" r="4.0"/><circle cx="101.4" cy="89.3" r="4.8"/><circle cx="84.5" cy="103.9" r="5.1"/><circle cx="94.6" cy="91.9" r="3.2"/><circle cx="81.3" cy="96.4" r="3.7"/><circle cx="91.5" cy="91.7" r="5.5"/><circle cx="84.9" cy="81.1" r="3.1"/><circle cx="88.1" cy="81.8" r="3.6"/><circle cx="95.3" cy="98.6" r="3.0"/><circle cx="81.2" cy="101.8" r="3.2"/><circle cx="104.2" cy="90.4" r="2.7"/><circle cx="88.6" cy="95.7" r="5.0"/><circle cx="92.3" cy="100.7" r="3.2"/><circle cx="92.2" cy="79.3" r="3.1"/><circle cx="82.2" cy="84.5" r="4.2"/><circle cx="82.7" cy="96.4" r="4.7"/><circle cx="82.8" cy="111.6" r="2.8"/><circle cx="98.4" cy="95.7" r="4.0"/><circle cx="98.6" cy="91.8" r="3.4"/><circle cx="93.4" cy="83.5" r="4.3"/><circle cx="87.9" cy="90.5" r="5.2"/><circle cx="101.4" cy="77.5" r="4.6"/><circle cx="109.8" cy="91.4" r="3.5"/><circle cx="103.7" cy="104.4" r="2.8"/><circle cx="82.3" cy="88.3" r="4.1"/><circle cx="80.8" cy="86.3" r="3.1"/><circle cx="79.8" cy="93.2" r="3.3"/><circle cx="88.2" cy="81.3" r="4.2"/><circle cx="90.7" cy="86.8" r="3.3"/><circle cx="90.3" cy="94.9" r="5.4"/><circle cx="97.0" cy="84.2" r="2.7"/><circle cx="97.7" cy="89.0" r="3.6"/><circle cx="72.8" cy="63.5" r="5.2"/><circle cx="96.8" cy="105.2" r="5.2"/><circle cx="95.9" cy="91.2" r="3.1"/><circle cx="101.5" cy="84.8" r="5.4"/></g><g fill="#ee50ee" opacity="0.7" filter="url(#bl2)" style="mix-blend-mode:screen"><ellipse cx="90" cy="82" rx="8.8" ry="7.5" transform="rotate(0 90 82)" opacity="0.75" filter="url(#bl4)"/><circle cx="91.2" cy="83.4" r="2.6"/><circle cx="87.1" cy="80.0" r="2.9"/><circle cx="87.8" cy="90.5" r="3.1"/><circle cx="97.1" cy="86.2" r="2.1"/><circle cx="94.8" cy="76.8" r="2.1"/><circle cx="99.5" cy="78.5" r="1.8"/><circle cx="85.9" cy="83.6" r="2.4"/><circle cx="99.6" cy="80.1" r="2.2"/><circle cx="100.7" cy="86.9" r="2.2"/><circle cx="93.2" cy="80.2" r="2.1"/><circle cx="94.3" cy="86.7" r="3.5"/><circle cx="91.3" cy="79.6" r="2.6"/><circle cx="96.6" cy="89.3" r="1.8"/><circle cx="87.2" cy="88.4" r="3.8"/><circle cx="94.1" cy="75.3" r="3.6"/><circle cx="86.9" cy="83.1" r="2.2"/><circle cx="97.6" cy="83.5" r="2.3"/><circle cx="83.0" cy="81.9" r="2.5"/><circle cx="80.7" cy="83.6" r="3.8"/><circle cx="85.9" cy="86.2" r="3.4"/><circle cx="97.3" cy="84.7" r="2.8"/><circle cx="102.0" cy="86.2" r="3.8"/><circle cx="82.9" cy="78.7" r="2.7"/><circle cx="95.4" cy="81.7" r="2.2"/><circle cx="83.7" cy="83.1" r="3.5"/></g><g fill="#ffffff" opacity="0.45" filter="url(#bl2)" style="mix-blend-mode:screen"><ellipse cx="90" cy="86" rx="5.0" ry="6.2" transform="rotate(0 90 86)" opacity="0.75" filter="url(#bl4)"/><circle cx="91.2" cy="83.9" r="2.5"/><circle cx="90.2" cy="93.7" r="2.4"/><circle cx="88.0" cy="90.5" r="1.6"/><circle cx="96.0" cy="86.9" r="3.1"/><circle cx="91.2" cy="93.4" r="1.9"/><circle cx="91.8" cy="87.1" r="1.7"/><circle cx="87.0" cy="92.3" r="2.1"/><circle cx="91.7" cy="88.7" r="3.2"/><circle cx="91.1" cy="82.2" r="1.6"/></g><g fill="#34f03c" opacity="0.5" filter="url(#bl3)" style="mix-blend-mode:screen"><ellipse cx="216" cy="59" rx="11.2" ry="7.5" transform="rotate(-25 216 59)" opacity="0.75" filter="url(#bl4)"/><circle cx="210.6" cy="60.3" r="3.0"/><circle cx="215.1" cy="63.0" r="3.0"/><circle cx="221.3" cy="64.0" r="2.6"/><circle cx="206.3" cy="67.0" r="3.0"/><circle cx="231.6" cy="56.0" r="4.0"/><circle cx="211.5" cy="65.3" r="4.2"/><circle cx="206.7" cy="58.3" r="2.9"/><circle cx="211.7" cy="44.5" r="3.0"/><circle cx="217.2" cy="57.4" r="4.2"/><circle cx="217.0" cy="52.9" r="3.1"/><circle cx="212.2" cy="55.4" r="3.1"/><circle cx="223.2" cy="47.4" r="3.2"/><circle cx="208.8" cy="73.5" r="4.1"/><circle cx="213.9" cy="55.6" r="3.0"/><circle cx="202.3" cy="66.3" r="2.0"/><circle cx="200.0" cy="60.6" r="3.0"/><circle cx="216.3" cy="60.2" r="3.2"/><circle cx="227.8" cy="59.5" r="2.3"/><circle cx="206.7" cy="60.2" r="4.0"/><circle cx="218.0" cy="58.2" r="2.8"/><circle cx="204.7" cy="68.4" r="3.4"/><circle cx="213.1" cy="58.0" r="2.2"/><circle cx="220.8" cy="62.6" r="3.4"/><circle cx="215.9" cy="57.9" r="4.4"/><circle cx="228.2" cy="62.9" r="2.2"/><circle cx="218.2" cy="58.5" r="2.6"/><circle cx="197.9" cy="65.4" r="4.2"/><circle cx="204.2" cy="59.8" r="2.6"/><circle cx="226.0" cy="57.2" r="2.3"/><circle cx="212.8" cy="56.9" r="2.6"/><circle cx="213.3" cy="58.9" r="2.3"/><circle cx="220.2" cy="65.8" r="3.5"/></g><g fill="#ee50ee" opacity="0.6" filter="url(#bl2)" style="mix-blend-mode:screen"><ellipse cx="224" cy="54" rx="6.2" ry="5.0" transform="rotate(-25 224 54)" opacity="0.75" filter="url(#bl4)"/><circle cx="224.1" cy="51.6" r="2.4"/><circle cx="215.8" cy="60.1" r="1.9"/><circle cx="221.7" cy="56.8" r="2.4"/><circle cx="223.9" cy="53.7" r="2.3"/><circle cx="226.6" cy="49.5" r="2.5"/><circle cx="223.8" cy="54.5" r="1.5"/><circle cx="225.2" cy="48.9" r="1.6"/><circle cx="228.1" cy="51.0" r="2.4"/><circle cx="221.4" cy="56.0" r="1.6"/><circle cx="220.0" cy="51.7" r="1.8"/><circle cx="222.6" cy="51.6" r="1.9"/><circle cx="227.6" cy="46.5" r="3.0"/><circle cx="225.0" cy="54.4" r="3.1"/><circle cx="229.1" cy="52.9" r="3.1"/><circle cx="216.8" cy="60.3" r="1.6"/><circle cx="224.8" cy="54.0" r="2.6"/></g><g fill="#803080" opacity="0.2" filter="url(#bl3)" style="mix-blend-mode:screen"><ellipse cx="160" cy="30" rx="10.0" ry="7.5" transform="rotate(0 160 30)" opacity="0.75" filter="url(#bl4)"/><circle cx="173.8" cy="35.0" r="2.5"/><circle cx="158.4" cy="32.3" r="3.4"/><circle cx="150.2" cy="40.4" r="4.4"/><circle cx="151.3" cy="38.3" r="2.6"/><circle cx="155.2" cy="26.9" r="3.8"/><circle cx="160.8" cy="19.9" r="2.4"/><circle cx="173.6" cy="33.4" r="3.2"/><circle cx="168.3" cy="33.4" r="3.3"/><circle cx="149.2" cy="32.3" r="3.4"/><circle cx="159.6" cy="39.0" r="3.1"/><circle cx="160.4" cy="30.3" r="2.1"/><circle cx="166.3" cy="23.3" r="4.2"/></g><g fill="#34f03c" opacity="0.65" filter="url(#bl3)" style="mix-blend-mode:screen"><ellipse cx="307" cy="58" rx="10.0" ry="10.0" transform="rotate(-20 307 58)" opacity="0.75" filter="url(#bl4)"/><circle cx="319.7" cy="58.8" r="4.4"/><circle cx="297.9" cy="46.4" r="3.8"/><circle cx="317.1" cy="53.8" r="2.4"/><circle cx="303.1" cy="58.6" r="4.7"/><circle cx="302.9" cy="53.9" r="2.4"/><circle cx="315.5" cy="50.8" r="3.5"/><circle cx="311.2" cy="45.9" r="4.8"/><circle cx="305.0" cy="60.0" r="4.3"/><circle cx="302.1" cy="62.0" r="3.8"/><circle cx="291.1" cy="49.1" r="4.9"/><circle cx="296.9" cy="64.9" r="3.8"/><circle cx="311.7" cy="55.0" r="3.8"/><circle cx="306.2" cy="54.0" r="3.2"/><circle cx="312.9" cy="49.4" r="3.5"/><circle cx="309.2" cy="53.9" r="3.1"/><circle cx="311.7" cy="46.3" r="2.4"/><circle cx="300.7" cy="61.5" r="4.4"/><circle cx="305.5" cy="53.3" r="3.5"/><circle cx="317.2" cy="62.4" r="3.3"/><circle cx="300.1" cy="65.1" r="2.3"/><circle cx="312.6" cy="68.5" r="3.4"/><circle cx="298.5" cy="54.1" r="4.8"/><circle cx="310.4" cy="63.2" r="4.8"/><circle cx="305.5" cy="51.7" r="2.3"/><circle cx="318.3" cy="56.8" r="2.8"/><circle cx="304.4" cy="55.8" r="4.3"/><circle cx="318.8" cy="68.6" r="2.3"/><circle cx="305.2" cy="59.9" r="2.3"/><circle cx="305.2" cy="59.5" r="2.6"/><circle cx="301.6" cy="64.6" r="4.4"/><circle cx="302.7" cy="63.8" r="4.8"/><circle cx="320.1" cy="57.4" r="4.0"/><circle cx="302.0" cy="57.5" r="2.4"/><circle cx="305.1" cy="64.8" r="2.9"/><circle cx="310.9" cy="63.1" r="4.0"/><circle cx="310.0" cy="64.8" r="3.9"/><circle cx="301.6" cy="61.3" r="4.1"/><circle cx="310.0" cy="56.1" r="4.4"/><circle cx="307.6" cy="49.3" r="3.9"/><circle cx="297.6" cy="51.1" r="4.9"/><circle cx="298.0" cy="55.6" r="4.4"/></g><g fill="#ee50ee" opacity="0.5" filter="url(#bl2)" style="mix-blend-mode:screen"><ellipse cx="300" cy="64" rx="5.0" ry="5.0" transform="rotate(0 300 64)" opacity="0.75" filter="url(#bl4)"/><circle cx="300.6" cy="64.2" r="3.3"/><circle cx="298.7" cy="63.0" r="3.3"/><circle cx="296.5" cy="58.8" r="2.3"/><circle cx="301.5" cy="66.4" r="3.3"/><circle cx="306.4" cy="67.4" r="3.3"/><circle cx="300.1" cy="60.6" r="3.1"/><circle cx="301.1" cy="62.8" r="1.9"/><circle cx="310.4" cy="60.5" r="2.8"/><circle cx="303.6" cy="68.0" r="3.1"/></g><g fill="#ffffff" opacity="0.3" filter="url(#bl2)" style="mix-blend-mode:screen"><ellipse cx="309" cy="56" rx="3.8" ry="3.8" transform="rotate(0 309 56)" opacity="0.75" filter="url(#bl4)"/><circle cx="312.4" cy="58.0" r="2.9"/><circle cx="308.5" cy="57.0" r="1.8"/><circle cx="311.6" cy="62.2" r="1.5"/><circle cx="311.0" cy="55.3" r="1.8"/><circle cx="309.7" cy="54.9" r="1.9"/><circle cx="307.4" cy="57.0" r="3.0"/></g><g fill="#34f03c" opacity="0.6" filter="url(#bl3)" style="mix-blend-mode:screen"><ellipse cx="457" cy="48" rx="12.5" ry="11.2" transform="rotate(0 457 48)" opacity="0.75" filter="url(#bl4)"/><circle cx="464.9" cy="40.0" r="2.6"/><circle cx="458.6" cy="48.1" r="3.3"/><circle cx="464.6" cy="50.4" r="3.1"/><circle cx="441.3" cy="46.0" r="4.2"/><circle cx="456.1" cy="50.8" r="2.9"/><circle cx="456.0" cy="45.5" r="3.5"/><circle cx="460.8" cy="33.5" r="3.0"/><circle cx="460.3" cy="46.2" r="3.7"/><circle cx="461.7" cy="52.7" r="4.0"/><circle cx="448.1" cy="45.6" r="2.5"/><circle cx="443.7" cy="43.1" r="2.5"/><circle cx="452.8" cy="66.3" r="2.3"/><circle cx="448.7" cy="30.7" r="4.5"/><circle cx="443.9" cy="30.3" r="4.8"/><circle cx="451.9" cy="50.4" r="2.6"/><circle cx="458.2" cy="47.9" r="3.0"/><circle cx="453.7" cy="40.7" r="4.4"/><circle cx="465.7" cy="45.0" r="3.5"/><circle cx="445.4" cy="39.2" r="4.7"/><circle cx="460.1" cy="50.8" r="4.8"/><circle cx="454.4" cy="53.7" r="4.7"/><circle cx="462.3" cy="33.3" r="2.5"/><circle cx="443.3" cy="39.0" r="2.7"/><circle cx="453.3" cy="61.2" r="3.0"/><circle cx="448.0" cy="49.0" r="3.8"/><circle cx="470.0" cy="60.3" r="4.4"/><circle cx="453.4" cy="48.5" r="3.2"/><circle cx="450.1" cy="41.8" r="3.7"/><circle cx="463.2" cy="46.1" r="3.0"/><circle cx="440.3" cy="57.0" r="4.3"/><circle cx="444.8" cy="39.3" r="2.8"/><circle cx="471.4" cy="53.2" r="2.4"/><circle cx="472.7" cy="58.2" r="3.0"/><circle cx="434.4" cy="55.4" r="4.9"/><circle cx="455.8" cy="44.0" r="4.5"/><circle cx="469.6" cy="54.2" r="3.7"/><circle cx="459.2" cy="52.8" r="3.8"/><circle cx="467.6" cy="45.6" r="2.3"/><circle cx="458.2" cy="54.9" r="4.2"/><circle cx="475.8" cy="45.3" r="3.5"/><circle cx="458.2" cy="43.1" r="4.6"/><circle cx="450.3" cy="49.2" r="4.8"/><circle cx="465.8" cy="49.7" r="3.1"/><circle cx="468.1" cy="35.2" r="4.4"/><circle cx="458.8" cy="45.9" r="4.1"/><circle cx="457.6" cy="51.2" r="4.4"/><circle cx="468.9" cy="55.9" r="4.7"/><circle cx="450.9" cy="54.8" r="4.4"/></g><g fill="#ee50ee" opacity="0.55" filter="url(#bl2)" style="mix-blend-mode:screen"><ellipse cx="450" cy="52" rx="7.5" ry="7.5" transform="rotate(0 450 52)" opacity="0.75" filter="url(#bl4)"/><circle cx="451.0" cy="54.6" r="2.8"/><circle cx="452.8" cy="59.6" r="2.7"/><circle cx="453.6" cy="48.8" r="1.8"/><circle cx="450.8" cy="47.5" r="3.1"/><circle cx="455.1" cy="54.1" r="1.5"/><circle cx="446.6" cy="50.5" r="1.8"/><circle cx="450.3" cy="58.1" r="2.7"/><circle cx="446.0" cy="55.3" r="3.3"/><circle cx="451.3" cy="43.0" r="2.0"/><circle cx="453.0" cy="48.9" r="2.9"/><circle cx="453.2" cy="52.5" r="2.4"/><circle cx="448.8" cy="51.2" r="2.9"/><circle cx="440.1" cy="44.3" r="2.8"/><circle cx="448.5" cy="59.2" r="2.0"/><circle cx="449.3" cy="57.4" r="2.2"/><circle cx="458.3" cy="46.7" r="2.7"/><circle cx="453.6" cy="55.0" r="1.8"/><circle cx="455.4" cy="52.4" r="3.2"/><circle cx="455.2" cy="52.5" r="1.7"/></g><g fill="#ffffff" opacity="0.35" filter="url(#bl2)" style="mix-blend-mode:screen"><ellipse cx="455" cy="45" rx="5.0" ry="5.0" transform="rotate(0 455 45)" opacity="0.75" filter="url(#bl4)"/><circle cx="459.8" cy="45.9" r="2.0"/><circle cx="454.4" cy="47.9" r="2.0"/><circle cx="459.3" cy="45.4" r="1.7"/><circle cx="453.2" cy="45.0" r="3.1"/><circle cx="454.1" cy="44.2" r="2.5"/><circle cx="457.9" cy="40.1" r="1.9"/><circle cx="458.4" cy="50.1" r="2.9"/><circle cx="458.5" cy="38.5" r="2.3"/><circle cx="456.2" cy="41.1" r="1.9"/></g><g fill="#34f03c" opacity="0.5" filter="url(#bl3)" style="mix-blend-mode:screen"><ellipse cx="507" cy="81" rx="7.5" ry="13.8" transform="rotate(0 507 81)" opacity="0.75" filter="url(#bl4)"/><circle cx="504.7" cy="84.0" r="2.2"/><circle cx="507.9" cy="88.8" r="3.0"/><circle cx="500.2" cy="78.0" r="3.3"/><circle cx="512.5" cy="76.9" r="2.2"/><circle cx="507.7" cy="103.4" r="3.5"/><circle cx="507.3" cy="80.5" r="4.1"/><circle cx="519.7" cy="76.8" r="4.3"/><circle cx="506.3" cy="87.8" r="3.1"/><circle cx="511.3" cy="88.6" r="4.2"/><circle cx="506.0" cy="74.1" r="3.6"/><circle cx="503.2" cy="93.0" r="3.1"/><circle cx="505.8" cy="81.0" r="4.3"/><circle cx="504.5" cy="84.5" r="2.5"/><circle cx="507.8" cy="89.2" r="3.2"/><circle cx="505.2" cy="96.3" r="2.6"/><circle cx="501.3" cy="74.4" r="2.3"/><circle cx="503.2" cy="79.1" r="3.4"/><circle cx="506.8" cy="86.7" r="4.1"/><circle cx="507.8" cy="72.4" r="2.2"/><circle cx="505.6" cy="89.8" r="3.8"/><circle cx="512.6" cy="90.4" r="2.9"/><circle cx="503.0" cy="92.6" r="3.9"/><circle cx="517.6" cy="86.6" r="3.9"/><circle cx="506.4" cy="82.6" r="2.8"/><circle cx="505.8" cy="80.8" r="4.4"/><circle cx="503.7" cy="82.3" r="3.2"/><circle cx="504.4" cy="88.9" r="2.8"/><circle cx="506.6" cy="85.4" r="4.3"/><circle cx="504.6" cy="71.6" r="3.1"/><circle cx="508.0" cy="88.5" r="3.1"/><circle cx="510.9" cy="78.7" r="2.0"/><circle cx="499.2" cy="82.8" r="4.3"/></g><g fill="#ee50ee" opacity="0.65" filter="url(#bl2)" style="mix-blend-mode:screen"><ellipse cx="503" cy="78" rx="5.0" ry="10.0" transform="rotate(0 503 78)" opacity="0.75" filter="url(#bl4)"/><circle cx="503.0" cy="90.7" r="1.6"/><circle cx="503.2" cy="68.9" r="3.2"/><circle cx="508.2" cy="72.6" r="2.3"/><circle cx="501.3" cy="77.1" r="2.9"/><circle cx="497.6" cy="74.6" r="2.8"/><circle cx="507.7" cy="85.1" r="3.1"/><circle cx="504.0" cy="78.5" r="2.0"/><circle cx="503.7" cy="76.5" r="3.2"/><circle cx="498.5" cy="71.4" r="3.0"/><circle cx="503.7" cy="75.6" r="3.0"/><circle cx="502.4" cy="75.7" r="1.8"/><circle cx="506.5" cy="90.5" r="1.8"/><circle cx="501.1" cy="77.0" r="1.6"/><circle cx="503.9" cy="83.4" r="3.1"/><circle cx="508.4" cy="87.8" r="2.4"/><circle cx="503.6" cy="67.4" r="3.0"/><circle cx="504.2" cy="82.5" r="3.0"/><circle cx="501.5" cy="85.8" r="1.7"/><circle cx="501.4" cy="82.4" r="2.6"/></g><g fill="#ffffff" opacity="0.3" filter="url(#bl2)" style="mix-blend-mode:screen"><ellipse cx="504" cy="80" rx="3.8" ry="5.0" transform="rotate(0 504 80)" opacity="0.75" filter="url(#bl4)"/><circle cx="503.5" cy="83.8" r="1.9"/><circle cx="502.8" cy="77.0" r="2.1"/><circle cx="500.5" cy="84.5" r="2.1"/><circle cx="504.6" cy="83.6" r="2.9"/><circle cx="503.9" cy="83.2" r="3.0"/><circle cx="504.0" cy="74.6" r="2.3"/></g><g fill="#34f03c" opacity="0.6" filter="url(#bl3)" style="mix-blend-mode:screen"><ellipse cx="620" cy="110" rx="11.2" ry="15.0" transform="rotate(0 620 110)" opacity="0.75" filter="url(#bl4)"/><circle cx="617.2" cy="104.9" r="4.8"/><circle cx="615.5" cy="108.2" r="4.8"/><circle cx="624.1" cy="111.0" r="3.0"/><circle cx="618.2" cy="119.4" r="4.4"/><circle cx="613.1" cy="100.4" r="4.1"/><circle cx="624.4" cy="122.5" r="4.4"/><circle cx="630.5" cy="106.9" r="5.2"/><circle cx="616.0" cy="115.5" r="3.8"/><circle cx="620.0" cy="105.3" r="2.7"/><circle cx="621.3" cy="106.9" r="3.0"/><circle cx="615.5" cy="101.6" r="3.7"/><circle cx="623.5" cy="119.7" r="2.9"/><circle cx="622.6" cy="108.3" r="4.4"/><circle cx="610.0" cy="119.0" r="3.0"/><circle cx="631.0" cy="104.1" r="5.2"/><circle cx="613.3" cy="112.6" r="3.7"/><circle cx="625.2" cy="108.8" r="4.2"/><circle cx="616.5" cy="116.1" r="4.8"/><circle cx="616.9" cy="111.1" r="3.8"/><circle cx="609.7" cy="95.2" r="4.5"/><circle cx="619.8" cy="90.1" r="3.8"/><circle cx="614.5" cy="113.4" r="4.8"/><circle cx="627.6" cy="121.8" r="3.6"/><circle cx="609.5" cy="109.9" r="4.9"/><circle cx="610.9" cy="96.3" r="4.0"/><circle cx="628.3" cy="122.7" r="4.3"/><circle cx="611.2" cy="109.3" r="4.1"/><circle cx="622.6" cy="111.6" r="5.0"/><circle cx="619.7" cy="112.1" r="2.5"/><circle cx="628.4" cy="99.3" r="4.5"/><circle cx="614.5" cy="96.3" r="3.8"/><circle cx="624.2" cy="124.2" r="3.0"/><circle cx="625.1" cy="111.7" r="4.6"/><circle cx="617.2" cy="127.4" r="3.2"/><circle cx="633.0" cy="108.5" r="3.8"/><circle cx="621.4" cy="114.9" r="2.8"/><circle cx="621.4" cy="101.1" r="3.0"/><circle cx="625.2" cy="86.1" r="5.4"/><circle cx="628.6" cy="92.9" r="3.3"/><circle cx="626.6" cy="99.0" r="4.1"/><circle cx="617.9" cy="116.1" r="4.3"/><circle cx="620.2" cy="111.2" r="3.2"/><circle cx="624.5" cy="109.4" r="4.0"/><circle cx="609.8" cy="112.1" r="3.3"/><circle cx="616.6" cy="112.5" r="4.0"/><circle cx="638.9" cy="117.0" r="4.5"/><circle cx="632.8" cy="120.7" r="4.6"/><circle cx="621.3" cy="118.0" r="5.2"/></g><g fill="#ee50ee" opacity="0.6" filter="url(#bl2)" style="mix-blend-mode:screen"><ellipse cx="613" cy="114" rx="5.0" ry="6.2" transform="rotate(0 613 114)" opacity="0.75" filter="url(#bl4)"/><circle cx="614.2" cy="112.3" r="3.2"/><circle cx="607.7" cy="106.0" r="2.5"/><circle cx="613.9" cy="119.8" r="2.2"/><circle cx="610.6" cy="118.0" r="2.9"/><circle cx="619.2" cy="113.8" r="3.3"/><circle cx="610.4" cy="110.2" r="2.4"/><circle cx="610.5" cy="111.2" r="2.0"/><circle cx="611.3" cy="115.8" r="2.7"/><circle cx="613.7" cy="114.9" r="3.2"/><circle cx="607.5" cy="110.4" r="1.9"/><circle cx="608.2" cy="112.3" r="2.9"/><circle cx="619.8" cy="115.2" r="2.2"/></g><g fill="#ffffff" opacity="0.7" filter="url(#bl3)" style="mix-blend-mode:screen"><ellipse cx="615" cy="110" rx="6.2" ry="7.5" transform="rotate(0 615 110)" opacity="0.75" filter="url(#bl4)"/><circle cx="619.7" cy="111.1" r="3.3"/><circle cx="619.8" cy="105.5" r="2.8"/><circle cx="615.4" cy="114.6" r="4.3"/><circle cx="609.6" cy="108.1" r="2.8"/><circle cx="615.2" cy="108.1" r="3.3"/><circle cx="617.9" cy="111.1" r="3.1"/><circle cx="619.9" cy="102.2" r="2.9"/><circle cx="618.7" cy="106.8" r="2.8"/><circle cx="623.0" cy="117.9" r="3.6"/><circle cx="619.1" cy="107.4" r="2.7"/><circle cx="616.9" cy="110.4" r="4.2"/><circle cx="614.1" cy="100.0" r="2.4"/><circle cx="616.3" cy="120.3" r="4.3"/><circle cx="615.2" cy="114.4" r="2.5"/><circle cx="614.9" cy="108.0" r="2.3"/><circle cx="615.5" cy="118.2" r="3.4"/><circle cx="612.3" cy="100.5" r="4.3"/><circle cx="618.2" cy="110.9" r="3.9"/><circle cx="607.1" cy="107.0" r="2.1"/></g><ellipse cx="652" cy="82" rx="20" ry="28" fill="#0c4a14" opacity="0.35" filter="url(#bl12)" style="mix-blend-mode:screen"/><g fill="#34f03c" opacity="0.6" filter="url(#bl3)" style="mix-blend-mode:screen"><ellipse cx="213" cy="202" rx="8.8" ry="12.5" transform="rotate(-30 213 202)" opacity="0.75" filter="url(#bl4)"/><circle cx="217.2" cy="202.4" r="2.5"/><circle cx="210.6" cy="191.6" r="4.1"/><circle cx="213.0" cy="216.0" r="4.4"/><circle cx="203.9" cy="185.7" r="4.4"/><circle cx="208.3" cy="188.4" r="3.6"/><circle cx="217.4" cy="190.1" r="4.9"/><circle cx="200.0" cy="185.1" r="4.9"/><circle cx="218.4" cy="205.5" r="4.0"/><circle cx="215.8" cy="209.6" r="3.4"/><circle cx="206.6" cy="214.4" r="4.2"/><circle cx="217.4" cy="194.6" r="2.4"/><circle cx="201.6" cy="185.4" r="3.1"/><circle cx="208.8" cy="202.4" r="3.9"/><circle cx="217.3" cy="208.2" r="3.0"/><circle cx="218.0" cy="201.7" r="4.8"/><circle cx="213.7" cy="206.0" r="3.5"/><circle cx="209.7" cy="182.4" r="3.3"/><circle cx="216.2" cy="203.4" r="2.3"/><circle cx="209.5" cy="217.0" r="4.6"/><circle cx="201.7" cy="189.7" r="3.6"/><circle cx="208.1" cy="203.4" r="2.3"/><circle cx="216.6" cy="195.6" r="3.6"/><circle cx="209.7" cy="195.2" r="2.4"/><circle cx="226.7" cy="193.1" r="2.8"/><circle cx="206.1" cy="216.1" r="3.4"/><circle cx="220.0" cy="221.8" r="3.8"/><circle cx="202.6" cy="204.5" r="2.5"/><circle cx="212.4" cy="191.3" r="3.2"/><circle cx="217.7" cy="188.3" r="4.9"/><circle cx="208.5" cy="211.0" r="4.1"/><circle cx="211.3" cy="197.0" r="3.0"/><circle cx="210.6" cy="191.3" r="4.2"/><circle cx="217.6" cy="211.2" r="4.0"/><circle cx="210.9" cy="196.4" r="3.1"/><circle cx="203.7" cy="206.5" r="4.4"/><circle cx="208.0" cy="195.5" r="2.8"/><circle cx="209.8" cy="197.7" r="4.4"/><circle cx="210.2" cy="198.2" r="3.0"/><circle cx="212.7" cy="192.6" r="3.3"/><circle cx="212.6" cy="205.0" r="3.6"/><circle cx="216.4" cy="182.6" r="2.4"/></g><g fill="#ee50ee" opacity="0.6" filter="url(#bl2)" style="mix-blend-mode:screen"><ellipse cx="217" cy="212" rx="7.5" ry="6.2" transform="rotate(-30 217 212)" opacity="0.75" filter="url(#bl4)"/><circle cx="219.0" cy="216.1" r="2.6"/><circle cx="219.2" cy="203.8" r="2.5"/><circle cx="219.1" cy="210.8" r="2.1"/><circle cx="213.3" cy="214.4" r="2.1"/><circle cx="204.3" cy="210.3" r="2.2"/><circle cx="221.5" cy="211.8" r="3.1"/><circle cx="219.5" cy="212.8" r="2.2"/><circle cx="211.7" cy="211.3" r="2.1"/><circle cx="215.4" cy="207.9" r="2.5"/><circle cx="221.8" cy="207.2" r="2.2"/><circle cx="219.9" cy="201.3" r="3.0"/><circle cx="217.5" cy="208.2" r="2.5"/><circle cx="218.9" cy="208.3" r="2.5"/><circle cx="226.7" cy="211.1" r="2.5"/><circle cx="215.2" cy="210.4" r="2.6"/><circle cx="214.6" cy="210.0" r="3.1"/><circle cx="218.5" cy="209.3" r="3.1"/><circle cx="218.6" cy="214.7" r="1.9"/><circle cx="217.3" cy="209.6" r="2.0"/></g><g fill="#ffffff" opacity="0.3" filter="url(#bl2)" style="mix-blend-mode:screen"><ellipse cx="215" cy="207" rx="3.8" ry="5.0" transform="rotate(0 215 207)" opacity="0.75" filter="url(#bl4)"/><circle cx="212.7" cy="210.7" r="2.2"/><circle cx="215.7" cy="198.8" r="3.0"/><circle cx="218.8" cy="211.4" r="1.5"/><circle cx="216.8" cy="216.8" r="2.7"/><circle cx="217.0" cy="209.2" r="2.9"/><circle cx="216.0" cy="203.8" r="1.6"/><circle cx="211.8" cy="213.4" r="2.0"/><circle cx="213.0" cy="200.1" r="2.9"/></g>
<path d="M166.3 93.0L42.0 -88.2M161.7 123.2L31.1 -50.4M156.9 154.8L19.5 -9.9M151.9 187.9L7.1 33.4M146.7 222.8L-6.2 80.1M141.2 259.3L-20.7 130.4M153.8 74.7L125.7 247.0M140.1 54.8L108.6 233.4M125.1 32.9L89.6 218.2M108.5 8.8L68.3 201.3M90.2 -17.9L44.4 182.2M69.8 -47.7L17.2 160.5M166.6 87.4L585.2 56.4M154.2 69.0L590.8 35.9M140.8 49.1L596.9 13.4M126.2 27.3L603.5 -11.2M110.2 3.4L610.9 -38.4M92.5 -22.9L619.0 -68.4M166.6 87.4L73.0 -52.0M200.1 84.9L116.8 -55.9M233.8 82.4L161.0 -59.9M267.8 79.9L205.7 -63.9M302.0 77.4L250.8 -67.9M336.5 74.8L296.3 -72.0M371.2 72.2L342.3 -76.2M406.2 69.7L388.7 -80.4M441.5 67.1L435.6 -84.6M477.0 64.4L483.0 -88.8M512.8 61.8L530.8 -93.1M548.9 59.1L579.2 -97.5M585.2 56.4L628.0 -101.9M166.2 93.7L585.8 63.8M161.8 123.6L592.4 94.8M157.1 155.0L599.4 127.5M152.3 188.1L606.7 162.1M147.1 223.0L614.5 198.7M141.7 259.9L622.7 237.5M166.2 93.7L141.7 259.9M199.2 91.3L179.3 258.1M232.6 88.9L217.3 256.3M266.4 86.5L255.8 254.5M300.4 84.1L294.7 252.7M334.9 81.7L334.0 250.9M369.6 79.2L373.8 249.1M404.7 76.7L414.1 247.2M440.2 74.1L454.8 245.3M476.1 71.6L496.1 243.4M512.3 69.0L537.8 241.4M548.9 66.4L580.0 239.4M585.8 63.8L622.7 237.5M1 0L1 258" stroke="#9c9c9c" stroke-width="1.7" fill="none"/>
</g>
<text x="10" y="28" font-size="27" font-weight="bold" fill="#fff">a</text>
<clipPath id="cpb0"><rect x="0" y="283.3" width="137.9" height="90.6"/></clipPath>
<rect x="0" y="283.3" width="137.9" height="90.6" fill="#050205"/>
<g clip-path="url(#cpb0)">
<path d="M26.8 283.3L31.3 338.0M84.9 283.3L84.5 326.0M120.7 283.3L115.1 349.9M0.0 344.8L31.3 338.0M31.3 338.0L84.5 326.0M84.5 326.0L115.1 349.9M31.3 338.0L62.5 373.8M115.1 349.9L29.0 373.8M115.1 349.9L137.7 366.7M111.8 283.3L137.7 296.2" stroke="#a8a8a8" stroke-width="1.3" fill="none"/>
<ellipse cx="63" cy="322" rx="50" ry="24" transform="rotate(-15 63 322)" fill="#129a1c" opacity="0.5" filter="url(#bl7)" style="mix-blend-mode:screen"/>
<ellipse cx="62" cy="319" rx="30" ry="11" transform="rotate(-14 62 319)" fill="#2ee838" opacity="0.75" filter="url(#bl4)" style="mix-blend-mode:screen"/>
<g fill="#34f03c" opacity="0.4" filter="url(#bl3)" style="mix-blend-mode:screen"><ellipse cx="62" cy="319" rx="21.2" ry="7.5" transform="rotate(-14 62 319)" opacity="0.75" filter="url(#bl4)"/><circle cx="68.8" cy="312.4" r="3.6"/><circle cx="66.3" cy="315.9" r="5.5"/><circle cx="61.2" cy="318.5" r="4.6"/><circle cx="77.9" cy="315.6" r="2.6"/><circle cx="83.9" cy="317.2" r="4.1"/><circle cx="71.2" cy="314.4" r="4.9"/><circle cx="62.6" cy="313.5" r="3.8"/><circle cx="65.3" cy="322.4" r="4.6"/><circle cx="80.1" cy="320.9" r="3.3"/><circle cx="61.8" cy="319.7" r="4.0"/><circle cx="73.9" cy="312.6" r="3.9"/><circle cx="62.0" cy="329.3" r="5.3"/><circle cx="47.7" cy="318.0" r="3.3"/><circle cx="78.4" cy="311.3" r="2.5"/><circle cx="66.3" cy="320.6" r="5.2"/><circle cx="78.2" cy="318.8" r="3.0"/><circle cx="95.0" cy="303.8" r="4.6"/><circle cx="77.4" cy="316.4" r="3.3"/><circle cx="66.3" cy="321.7" r="2.6"/><circle cx="52.4" cy="316.1" r="3.5"/><circle cx="52.7" cy="327.5" r="4.5"/><circle cx="69.4" cy="314.4" r="3.9"/><circle cx="41.2" cy="326.8" r="2.8"/><circle cx="53.0" cy="316.0" r="2.6"/><circle cx="51.3" cy="317.1" r="3.3"/><circle cx="46.5" cy="322.3" r="3.5"/><circle cx="57.3" cy="325.1" r="3.8"/><circle cx="63.2" cy="317.4" r="2.6"/><circle cx="75.6" cy="327.0" r="5.2"/><circle cx="81.0" cy="316.2" r="3.1"/><circle cx="54.9" cy="317.2" r="2.6"/><circle cx="51.4" cy="321.7" r="3.2"/><circle cx="62.6" cy="319.9" r="5.4"/><circle cx="87.1" cy="315.5" r="3.0"/><circle cx="71.8" cy="320.9" r="2.5"/><circle cx="48.2" cy="313.1" r="2.9"/><circle cx="89.0" cy="311.3" r="4.2"/><circle cx="68.0" cy="320.2" r="3.1"/><circle cx="34.0" cy="325.3" r="2.7"/><circle cx="62.6" cy="325.4" r="4.8"/><circle cx="77.5" cy="324.6" r="4.5"/><circle cx="62.5" cy="317.5" r="5.3"/><circle cx="30.7" cy="319.3" r="3.3"/><circle cx="75.5" cy="318.9" r="3.2"/><circle cx="85.2" cy="314.0" r="3.1"/><circle cx="71.7" cy="323.7" r="2.5"/><circle cx="40.7" cy="321.6" r="4.8"/><circle cx="74.6" cy="310.8" r="4.1"/></g>
<g fill="#ffffff" opacity="0.35" filter="url(#bl3)" style="mix-blend-mode:screen"><ellipse cx="72" cy="326" rx="16.2" ry="5.0" transform="rotate(-16 72 326)" opacity="0.75" filter="url(#bl4)"/><circle cx="60.0" cy="329.9" r="2.4"/><circle cx="66.2" cy="322.4" r="2.7"/><circle cx="53.8" cy="324.4" r="3.6"/><circle cx="85.5" cy="324.0" r="3.4"/><circle cx="88.0" cy="320.6" r="2.9"/><circle cx="84.9" cy="323.3" r="2.7"/><circle cx="71.0" cy="326.0" r="2.8"/><circle cx="59.4" cy="326.0" r="3.8"/><circle cx="55.4" cy="335.0" r="2.7"/><circle cx="86.1" cy="324.9" r="3.8"/><circle cx="91.3" cy="320.5" r="2.0"/><circle cx="84.2" cy="320.4" r="2.5"/><circle cx="79.7" cy="322.3" r="2.2"/><circle cx="53.0" cy="338.3" r="2.7"/><circle cx="60.8" cy="332.5" r="2.2"/><circle cx="75.1" cy="325.6" r="1.8"/><circle cx="62.2" cy="326.4" r="3.2"/><circle cx="85.2" cy="326.6" r="2.5"/><circle cx="49.2" cy="334.5" r="3.4"/><circle cx="45.3" cy="338.7" r="3.4"/><circle cx="72.2" cy="326.8" r="2.9"/><circle cx="75.3" cy="325.7" r="2.3"/></g>
<g fill="#ee50ee" opacity="0.45" filter="url(#bl2)" style="mix-blend-mode:screen"><ellipse cx="88" cy="322" rx="12.5" ry="6.2" transform="rotate(-16 88 322)" opacity="0.75" filter="url(#bl4)"/><circle cx="93.6" cy="322.2" r="1.7"/><circle cx="89.1" cy="319.7" r="2.2"/><circle cx="92.0" cy="321.7" r="2.0"/><circle cx="86.9" cy="321.9" r="3.0"/><circle cx="100.3" cy="320.4" r="2.0"/><circle cx="77.9" cy="320.1" r="2.7"/><circle cx="86.5" cy="322.3" r="3.0"/><circle cx="85.3" cy="314.4" r="2.8"/><circle cx="82.7" cy="326.4" r="2.7"/><circle cx="81.0" cy="325.4" r="2.2"/><circle cx="96.2" cy="321.2" r="2.7"/><circle cx="87.4" cy="325.2" r="1.9"/><circle cx="76.7" cy="329.3" r="1.7"/><circle cx="89.2" cy="324.5" r="2.8"/><circle cx="63.1" cy="324.5" r="1.7"/><circle cx="74.6" cy="327.9" r="1.6"/><circle cx="80.6" cy="323.6" r="2.8"/><circle cx="92.7" cy="325.9" r="2.6"/><circle cx="83.9" cy="328.5" r="1.6"/></g>
<g fill="#702070" opacity="0.5" filter="url(#bl2)" style="mix-blend-mode:screen"><ellipse cx="50" cy="340" rx="25.0" ry="10.0" transform="rotate(-16 50 340)" opacity="0.75" filter="url(#bl4)"/><circle cx="47.3" cy="350.9" r="1.6"/><circle cx="45.6" cy="341.9" r="2.2"/><circle cx="59.8" cy="325.3" r="2.2"/><circle cx="39.3" cy="351.6" r="3.2"/><circle cx="35.6" cy="336.3" r="1.5"/><circle cx="34.7" cy="340.3" r="2.9"/><circle cx="45.7" cy="354.1" r="1.7"/><circle cx="39.2" cy="335.1" r="3.3"/><circle cx="73.5" cy="341.1" r="1.6"/><circle cx="75.7" cy="341.9" r="2.5"/><circle cx="38.1" cy="342.3" r="2.7"/><circle cx="55.5" cy="326.6" r="2.9"/><circle cx="32.6" cy="344.3" r="2.1"/><circle cx="64.3" cy="354.5" r="3.0"/><circle cx="53.4" cy="353.5" r="2.3"/><circle cx="46.0" cy="340.4" r="2.0"/><circle cx="23.9" cy="349.6" r="2.2"/><circle cx="91.6" cy="327.5" r="1.7"/><circle cx="47.2" cy="322.2" r="1.5"/><circle cx="75.5" cy="332.4" r="1.7"/><circle cx="46.3" cy="342.1" r="3.2"/><circle cx="74.6" cy="329.7" r="2.5"/><circle cx="77.4" cy="332.4" r="2.0"/><circle cx="77.7" cy="333.5" r="1.6"/><circle cx="37.7" cy="331.1" r="1.9"/></g>
</g>
<clipPath id="cpb1"><rect x="144.5" y="283.3" width="137.7" height="90.6"/></clipPath>
<rect x="144.5" y="283.3" width="137.7" height="90.6" fill="#050205"/>
<g clip-path="url(#cpb1)">
<path d="M171.3 283.3L175.8 338.0M229.4 283.3L229.0 326.0M265.2 283.3L259.6 349.9M144.5 344.8L175.8 338.0M175.8 338.0L229.0 326.0M229.0 326.0L259.6 349.9M175.8 338.0L207.0 373.8M259.6 349.9L173.5 373.8M259.6 349.9L282.2 366.7M256.3 283.3L282.2 296.2" stroke="#a8a8a8" stroke-width="1.3" fill="none"/>
<ellipse cx="207.5" cy="322" rx="50" ry="24" transform="rotate(-15 207.5 322)" fill="#129a1c" opacity="0.5" filter="url(#bl7)" style="mix-blend-mode:screen"/>
<ellipse cx="206.5" cy="319" rx="30" ry="11" transform="rotate(-14 206.5 319)" fill="#2ee838" opacity="0.75" filter="url(#bl4)" style="mix-blend-mode:screen"/>
<g fill="#34f03c" opacity="0.4" filter="url(#bl3)" style="mix-blend-mode:screen"><ellipse cx="206.5" cy="319" rx="21.2" ry="7.5" transform="rotate(-14 206.5 319)" opacity="0.75" filter="url(#bl4)"/><circle cx="208.4" cy="319.6" r="3.9"/><circle cx="200.8" cy="322.5" r="4.1"/><circle cx="210.7" cy="318.5" r="3.8"/><circle cx="209.3" cy="315.6" r="5.0"/><circle cx="218.8" cy="318.1" r="5.1"/><circle cx="170.2" cy="329.7" r="2.5"/><circle cx="181.6" cy="336.4" r="3.3"/><circle cx="200.4" cy="318.7" r="4.8"/><circle cx="204.9" cy="311.1" r="5.3"/><circle cx="214.2" cy="320.5" r="4.2"/><circle cx="191.4" cy="319.7" r="3.4"/><circle cx="198.9" cy="322.3" r="4.6"/><circle cx="215.6" cy="317.3" r="5.3"/><circle cx="206.9" cy="315.1" r="3.8"/><circle cx="207.3" cy="315.9" r="5.1"/><circle cx="200.8" cy="325.0" r="2.8"/><circle cx="220.0" cy="323.2" r="4.0"/><circle cx="204.4" cy="314.9" r="4.9"/><circle cx="231.0" cy="315.6" r="3.8"/><circle cx="246.9" cy="319.6" r="5.3"/><circle cx="220.7" cy="311.9" r="4.7"/><circle cx="180.2" cy="321.1" r="3.9"/><circle cx="233.9" cy="303.2" r="3.9"/><circle cx="223.2" cy="315.9" r="4.2"/><circle cx="244.6" cy="311.3" r="2.9"/><circle cx="228.0" cy="318.3" r="3.5"/><circle cx="210.9" cy="319.9" r="4.7"/><circle cx="193.6" cy="319.2" r="5.0"/><circle cx="215.5" cy="318.8" r="4.7"/><circle cx="202.0" cy="321.4" r="4.2"/><circle cx="204.1" cy="321.5" r="3.4"/><circle cx="200.3" cy="308.3" r="3.9"/><circle cx="195.2" cy="314.4" r="5.1"/><circle cx="185.5" cy="331.3" r="3.1"/><circle cx="198.5" cy="319.1" r="4.6"/><circle cx="214.7" cy="303.7" r="5.3"/><circle cx="196.1" cy="321.9" r="4.1"/><circle cx="217.1" cy="309.8" r="3.9"/><circle cx="205.7" cy="318.4" r="4.1"/><circle cx="223.1" cy="317.4" r="3.8"/><circle cx="217.1" cy="305.8" r="4.4"/><circle cx="219.8" cy="310.9" r="3.4"/><circle cx="176.3" cy="337.2" r="4.3"/><circle cx="207.5" cy="313.0" r="3.1"/><circle cx="228.2" cy="305.8" r="4.4"/><circle cx="193.1" cy="312.2" r="3.9"/><circle cx="208.4" cy="325.1" r="5.1"/><circle cx="204.1" cy="310.7" r="3.5"/></g>
</g>
<clipPath id="cpc0"><rect x="0" y="379.4" width="137.9" height="106.7"/></clipPath>
<rect x="0" y="379.4" width="137.9" height="106.7" fill="#050205"/>
<g clip-path="url(#cpc0)">
<path d="M31.3 382.0L35.3 425.7M65.9 383.2L67.5 427.9M126.3 384.3L124.0 432.4M0.0 414.5L5.5 444.7M5.5 444.7L35.3 425.7M35.3 425.7L137.7 434.6M5.5 444.7L137.7 461.4M67.5 427.9L0.0 482.7M124.0 432.4L88.3 486.0" stroke="#a8a8a8" stroke-width="1.3" fill="none"/>
<g fill="#60f060" opacity="0.7" filter="url(#bl3)" style="mix-blend-mode:screen"><ellipse cx="52" cy="433" rx="15.0" ry="6.2" transform="rotate(-5 52 433)" opacity="0.75" filter="url(#bl4)"/><circle cx="51.9" cy="432.9" r="2.7"/><circle cx="51.1" cy="441.6" r="3.2"/><circle cx="65.5" cy="434.7" r="3.0"/><circle cx="52.1" cy="433.7" r="2.6"/><circle cx="48.1" cy="429.6" r="3.1"/><circle cx="48.5" cy="437.0" r="3.3"/><circle cx="59.3" cy="434.6" r="3.2"/><circle cx="58.8" cy="428.3" r="3.8"/><circle cx="52.2" cy="440.2" r="3.2"/><circle cx="43.3" cy="443.7" r="5.1"/><circle cx="45.9" cy="431.8" r="4.2"/><circle cx="45.7" cy="438.3" r="4.4"/><circle cx="53.3" cy="425.7" r="2.6"/><circle cx="53.8" cy="433.5" r="3.9"/><circle cx="55.3" cy="432.6" r="4.8"/><circle cx="44.4" cy="429.7" r="4.2"/><circle cx="61.8" cy="429.3" r="3.0"/><circle cx="64.2" cy="439.8" r="3.8"/><circle cx="53.8" cy="433.3" r="4.7"/><circle cx="48.2" cy="445.5" r="4.8"/><circle cx="70.7" cy="434.7" r="2.8"/><circle cx="65.9" cy="432.8" r="4.6"/><circle cx="67.2" cy="434.8" r="5.2"/><circle cx="60.8" cy="428.8" r="4.0"/><circle cx="51.5" cy="426.6" r="2.8"/><circle cx="49.9" cy="423.6" r="4.2"/><circle cx="60.0" cy="432.0" r="5.3"/><circle cx="33.3" cy="435.4" r="4.3"/><circle cx="57.6" cy="436.5" r="4.0"/><circle cx="72.8" cy="433.1" r="5.3"/><circle cx="62.9" cy="428.7" r="5.0"/><circle cx="59.6" cy="426.9" r="4.5"/><circle cx="61.7" cy="427.4" r="4.7"/><circle cx="38.7" cy="429.6" r="2.8"/><circle cx="58.0" cy="436.6" r="5.1"/><circle cx="26.6" cy="430.2" r="3.5"/><circle cx="63.3" cy="423.4" r="3.2"/><circle cx="58.7" cy="433.4" r="2.6"/></g>
<g fill="#30a040" opacity="0.4" filter="url(#bl3)" style="mix-blend-mode:screen"><ellipse cx="80" cy="421" rx="15.0" ry="5.0" transform="rotate(-5 80 421)" opacity="0.75" filter="url(#bl4)"/><circle cx="86.4" cy="416.9" r="2.4"/><circle cx="73.5" cy="420.5" r="4.4"/><circle cx="76.0" cy="414.7" r="3.9"/><circle cx="98.8" cy="422.7" r="3.0"/><circle cx="70.2" cy="425.3" r="4.2"/><circle cx="85.4" cy="423.2" r="2.6"/><circle cx="59.2" cy="424.5" r="3.2"/><circle cx="63.5" cy="422.2" r="2.6"/><circle cx="78.9" cy="423.2" r="4.0"/><circle cx="86.2" cy="426.0" r="3.8"/><circle cx="74.4" cy="420.8" r="4.0"/><circle cx="77.5" cy="418.4" r="3.7"/><circle cx="94.7" cy="424.6" r="3.2"/><circle cx="101.1" cy="417.7" r="4.3"/><circle cx="65.9" cy="418.7" r="3.2"/><circle cx="84.9" cy="422.6" r="3.4"/><circle cx="74.3" cy="421.0" r="3.0"/><circle cx="77.4" cy="424.0" r="3.8"/><circle cx="61.1" cy="427.2" r="3.8"/></g>
<g fill="#d848d8" opacity="0.5" filter="url(#bl3)" style="mix-blend-mode:screen"><ellipse cx="88" cy="440" rx="16.2" ry="6.2" transform="rotate(-5 88 440)" opacity="0.75" filter="url(#bl4)"/><circle cx="91.6" cy="441.1" r="2.7"/><circle cx="95.1" cy="432.7" r="3.9"/><circle cx="75.4" cy="442.7" r="2.7"/><circle cx="70.7" cy="441.5" r="4.2"/><circle cx="81.2" cy="449.4" r="5.3"/><circle cx="84.5" cy="447.8" r="4.4"/><circle cx="85.7" cy="431.5" r="4.9"/><circle cx="99.9" cy="447.2" r="4.3"/><circle cx="100.2" cy="445.0" r="3.9"/><circle cx="87.4" cy="432.9" r="2.6"/><circle cx="81.1" cy="433.0" r="4.7"/><circle cx="86.5" cy="439.1" r="2.8"/><circle cx="81.2" cy="431.6" r="5.1"/><circle cx="93.7" cy="438.5" r="4.8"/><circle cx="63.9" cy="438.5" r="5.0"/><circle cx="86.3" cy="436.4" r="4.9"/><circle cx="87.0" cy="436.6" r="4.1"/><circle cx="49.1" cy="437.9" r="3.6"/><circle cx="89.6" cy="435.0" r="5.2"/><circle cx="81.1" cy="438.9" r="3.0"/><circle cx="83.1" cy="441.2" r="2.7"/><circle cx="78.7" cy="434.0" r="3.0"/><circle cx="82.9" cy="439.0" r="5.1"/><circle cx="88.9" cy="442.6" r="4.4"/><circle cx="102.5" cy="441.2" r="4.7"/><circle cx="87.5" cy="445.2" r="4.4"/><circle cx="69.2" cy="441.4" r="3.3"/><circle cx="71.1" cy="437.1" r="3.8"/><circle cx="113.2" cy="439.0" r="3.5"/><circle cx="98.5" cy="443.6" r="3.8"/><circle cx="71.6" cy="446.7" r="4.0"/><circle cx="92.6" cy="439.1" r="4.3"/></g>
<g fill="#ffffff" opacity="0.85" filter="url(#bl3)" style="mix-blend-mode:screen"><ellipse cx="70" cy="436" rx="12.5" ry="5.6" transform="rotate(-5 70 436)" opacity="0.75" filter="url(#bl4)"/><circle cx="80.7" cy="442.1" r="3.2"/><circle cx="70.2" cy="438.9" r="2.6"/><circle cx="74.4" cy="435.8" r="4.8"/><circle cx="63.5" cy="436.2" r="4.5"/><circle cx="75.2" cy="435.1" r="2.9"/><circle cx="83.7" cy="441.9" r="4.8"/><circle cx="83.4" cy="439.6" r="2.9"/><circle cx="59.1" cy="435.0" r="4.3"/><circle cx="73.8" cy="440.8" r="2.5"/><circle cx="71.4" cy="436.9" r="4.9"/><circle cx="69.2" cy="439.9" r="4.4"/><circle cx="69.0" cy="436.9" r="3.3"/><circle cx="78.0" cy="434.9" r="2.6"/><circle cx="65.3" cy="436.3" r="4.7"/><circle cx="68.6" cy="439.4" r="2.5"/><circle cx="67.2" cy="436.7" r="2.4"/><circle cx="76.8" cy="430.7" r="3.7"/><circle cx="81.9" cy="441.4" r="3.3"/><circle cx="62.8" cy="430.6" r="3.1"/><circle cx="77.3" cy="436.6" r="4.3"/><circle cx="75.8" cy="434.2" r="3.5"/><circle cx="57.8" cy="434.1" r="4.8"/><circle cx="56.5" cy="435.6" r="4.4"/><circle cx="75.8" cy="435.3" r="2.5"/><circle cx="58.5" cy="432.8" r="3.9"/><circle cx="73.7" cy="447.8" r="4.7"/><circle cx="66.6" cy="437.2" r="4.6"/><circle cx="78.4" cy="435.3" r="4.1"/></g>
</g>
<clipPath id="cpc1"><rect x="144.5" y="379.4" width="137.7" height="106.7"/></clipPath>
<rect x="144.5" y="379.4" width="137.7" height="106.7" fill="#050205"/>
<g clip-path="url(#cpc1)">
<path d="M175.8 382.0L179.8 425.7M210.4 383.2L212.0 427.9M270.8 384.3L268.5 432.4M144.5 414.5L150.0 444.7M150.0 444.7L179.8 425.7M179.8 425.7L282.2 434.6M150.0 444.7L282.2 461.4M212.0 427.9L144.5 482.7M268.5 432.4L232.8 486.0" stroke="#a8a8a8" stroke-width="1.3" fill="none"/>
<ellipse cx="220.5" cy="433" rx="40" ry="15" fill="#129a1c" opacity="0.5" filter="url(#bl7)" style="mix-blend-mode:screen"/>
<g fill="#34f03c" opacity="0.5" filter="url(#bl3)" style="mix-blend-mode:screen"><ellipse cx="220.5" cy="432" rx="20.0" ry="6.2" transform="rotate(-3 220.5 432)" opacity="0.75" filter="url(#bl4)"/><circle cx="194.9" cy="435.0" r="4.5"/><circle cx="222.7" cy="428.2" r="2.7"/><circle cx="216.5" cy="434.8" r="4.0"/><circle cx="236.8" cy="430.4" r="5.3"/><circle cx="245.9" cy="426.5" r="4.9"/><circle cx="249.4" cy="431.8" r="3.2"/><circle cx="186.9" cy="439.2" r="4.8"/><circle cx="222.4" cy="434.1" r="4.3"/><circle cx="208.6" cy="434.6" r="3.2"/><circle cx="211.1" cy="442.7" r="3.4"/><circle cx="234.7" cy="427.2" r="2.6"/><circle cx="208.8" cy="427.5" r="5.5"/><circle cx="211.1" cy="430.4" r="3.9"/><circle cx="209.4" cy="427.3" r="4.4"/><circle cx="224.9" cy="438.4" r="4.5"/><circle cx="230.8" cy="434.6" r="2.6"/><circle cx="218.5" cy="432.3" r="5.4"/><circle cx="202.8" cy="436.0" r="4.2"/><circle cx="207.5" cy="436.1" r="4.6"/><circle cx="214.8" cy="426.3" r="5.5"/><circle cx="207.8" cy="427.4" r="3.6"/><circle cx="202.0" cy="438.3" r="5.0"/><circle cx="188.4" cy="428.9" r="3.5"/><circle cx="204.3" cy="432.6" r="3.1"/><circle cx="195.9" cy="430.8" r="3.2"/><circle cx="222.5" cy="434.8" r="4.4"/><circle cx="255.8" cy="425.4" r="4.3"/><circle cx="226.0" cy="437.5" r="3.0"/><circle cx="189.0" cy="432.2" r="4.3"/><circle cx="219.8" cy="426.2" r="2.7"/><circle cx="224.5" cy="436.8" r="5.2"/><circle cx="220.9" cy="427.7" r="2.8"/><circle cx="212.8" cy="437.9" r="3.9"/><circle cx="215.8" cy="431.8" r="4.2"/><circle cx="217.7" cy="430.0" r="5.2"/><circle cx="228.1" cy="429.6" r="3.9"/><circle cx="193.7" cy="429.8" r="3.4"/><circle cx="227.1" cy="427.3" r="4.4"/><circle cx="203.3" cy="430.2" r="5.2"/><circle cx="217.6" cy="428.8" r="3.4"/><circle cx="206.7" cy="435.7" r="4.1"/><circle cx="231.4" cy="440.7" r="5.5"/><circle cx="226.2" cy="431.0" r="4.7"/><circle cx="223.1" cy="430.8" r="5.4"/><circle cx="226.0" cy="430.6" r="4.5"/><circle cx="247.4" cy="431.3" r="3.7"/><circle cx="209.1" cy="430.8" r="4.2"/><circle cx="220.3" cy="432.9" r="3.1"/></g>
</g>
<clipPath id="cpd0"><rect x="0" y="491.1" width="137.9" height="124.8"/></clipPath>
<rect x="0" y="491.1" width="137.9" height="124.8" fill="#050205"/>
<g clip-path="url(#cpd0)">
<path d="M19.0 491.8L23.4 547.7M65.9 491.8L63.7 523.1M120.7 491.8L110.6 546.6M0.0 498.5L19.0 491.8M120.7 491.8L137.7 498.5M23.4 547.7L63.7 523.1M63.7 523.1L110.6 546.6M0.0 561.1L23.4 547.7M23.4 547.7L129.6 615.9M110.6 546.6L20.1 615.9M110.6 546.6L137.7 562.2M0.0 602.5L20.1 615.9M129.6 615.9L137.7 605.8" stroke="#a8a8a8" stroke-width="1.3" fill="none"/>
<ellipse cx="66" cy="558" rx="52" ry="33" transform="rotate(-38 66 558)" fill="#18b020" opacity="0.75" filter="url(#bl7)" style="mix-blend-mode:screen"/>
<ellipse cx="64" cy="560" rx="34" ry="20" transform="rotate(-38 64 560)" fill="#30f038" opacity="0.55" filter="url(#bl4)" style="mix-blend-mode:screen"/>
<g fill="#34f03c" opacity="0.35" filter="url(#bl3)" style="mix-blend-mode:screen"><ellipse cx="66" cy="556" rx="27.5" ry="16.2" transform="rotate(-38 66 556)" opacity="0.75" filter="url(#bl4)"/><circle cx="73.6" cy="573.1" r="4.5"/><circle cx="51.3" cy="557.4" r="6.5"/><circle cx="76.3" cy="549.5" r="4.8"/><circle cx="62.1" cy="570.8" r="4.3"/><circle cx="63.2" cy="556.9" r="5.6"/><circle cx="95.2" cy="532.3" r="6.5"/><circle cx="62.0" cy="564.8" r="4.8"/><circle cx="79.0" cy="548.1" r="3.0"/><circle cx="61.3" cy="535.2" r="3.1"/><circle cx="70.4" cy="573.5" r="6.0"/><circle cx="62.2" cy="555.5" r="6.6"/><circle cx="65.0" cy="584.0" r="3.3"/><circle cx="65.2" cy="530.2" r="5.2"/><circle cx="53.0" cy="553.8" r="5.5"/><circle cx="59.9" cy="569.1" r="6.1"/><circle cx="78.1" cy="553.0" r="3.2"/><circle cx="47.4" cy="561.1" r="5.6"/><circle cx="69.7" cy="579.1" r="3.6"/><circle cx="58.5" cy="557.1" r="4.7"/><circle cx="69.4" cy="552.3" r="5.6"/><circle cx="52.6" cy="560.5" r="4.8"/><circle cx="61.1" cy="546.8" r="6.0"/><circle cx="64.4" cy="564.5" r="6.3"/><circle cx="29.2" cy="566.1" r="5.8"/><circle cx="74.3" cy="555.2" r="5.4"/><circle cx="78.6" cy="551.3" r="6.3"/><circle cx="66.6" cy="563.4" r="3.0"/><circle cx="66.4" cy="558.5" r="5.6"/><circle cx="41.3" cy="568.7" r="3.1"/><circle cx="72.7" cy="551.2" r="4.7"/><circle cx="55.8" cy="589.7" r="6.6"/><circle cx="59.8" cy="569.1" r="3.7"/><circle cx="57.1" cy="563.0" r="4.4"/><circle cx="78.9" cy="559.8" r="3.7"/><circle cx="43.1" cy="564.0" r="5.5"/><circle cx="101.3" cy="541.9" r="6.0"/><circle cx="85.3" cy="570.4" r="5.4"/><circle cx="56.3" cy="553.0" r="6.0"/><circle cx="62.3" cy="566.4" r="4.7"/><circle cx="51.7" cy="581.4" r="3.6"/><circle cx="80.6" cy="547.9" r="6.4"/><circle cx="53.2" cy="551.0" r="5.4"/><circle cx="85.5" cy="539.1" r="5.1"/><circle cx="56.6" cy="550.1" r="4.6"/><circle cx="59.9" cy="550.5" r="4.8"/><circle cx="100.7" cy="553.4" r="4.4"/><circle cx="85.2" cy="535.0" r="3.9"/><circle cx="87.8" cy="543.5" r="6.6"/><circle cx="27.9" cy="590.1" r="6.0"/><circle cx="54.5" cy="544.0" r="5.4"/><circle cx="79.0" cy="554.2" r="5.9"/><circle cx="86.2" cy="555.7" r="3.6"/><circle cx="58.8" cy="553.7" r="3.1"/><circle cx="45.1" cy="558.5" r="5.3"/><circle cx="24.2" cy="571.5" r="5.9"/><circle cx="81.2" cy="559.3" r="3.1"/><circle cx="62.1" cy="552.2" r="4.3"/><circle cx="38.5" cy="587.5" r="3.2"/><circle cx="68.6" cy="559.9" r="3.3"/><circle cx="71.6" cy="572.8" r="5.6"/><circle cx="58.9" cy="559.1" r="3.6"/><circle cx="55.5" cy="569.1" r="6.5"/><circle cx="89.3" cy="541.1" r="5.8"/><circle cx="60.5" cy="567.1" r="3.2"/></g>
<g fill="#e038e0" filter="url(#bl3)" style="mix-blend-mode:screen"><circle cx="55.3" cy="543.2" r="4" opacity="0.6"/><circle cx="87.6" cy="552.6" r="5" opacity="0.6"/><circle cx="75.1" cy="567.2" r="6" opacity="0.6"/><circle cx="29.2" cy="569.3" r="4" opacity="0.6"/><circle cx="100.1" cy="546.3" r="5" opacity="0.6"/><circle cx="114.8" cy="533.8" r="6" opacity="0.6"/><circle cx="64.7" cy="552.6" r="4" opacity="0.6"/><circle cx="60.5" cy="561" r="5" opacity="0.6"/><circle cx="41.7" cy="579.7" r="6" opacity="0.6"/><circle cx="98" cy="523.4" r="4" opacity="0.6"/><circle cx="87.6" cy="569.3" r="5" opacity="0.6"/><circle cx="110.6" cy="508.8" r="6" opacity="0.6"/><circle cx="70" cy="545" r="4" opacity="0.6"/><circle cx="48" cy="560" r="5" opacity="0.6"/></g>
<g fill="#a020a0" filter="url(#bl2)" style="mix-blend-mode:screen"><circle cx="43.8" cy="498.3" r="2" opacity="0.4"/><circle cx="85.5" cy="499.4" r="2" opacity="0.4"/><circle cx="37.6" cy="505.6" r="2" opacity="0.4"/><circle cx="50.1" cy="521.3" r="2" opacity="0.4"/><circle cx="33.4" cy="530.7" r="2" opacity="0.4"/><circle cx="125.2" cy="506.7" r="2" opacity="0.4"/><circle cx="133.5" cy="538" r="2" opacity="0.4"/><circle cx="129.4" cy="548.4" r="2" opacity="0.4"/><circle cx="14.6" cy="598.5" r="2" opacity="0.4"/><circle cx="104.3" cy="603.7" r="2" opacity="0.4"/><circle cx="123.1" cy="590.1" r="2" opacity="0.4"/><circle cx="4.2" cy="542.2" r="2" opacity="0.4"/><circle cx="20" cy="520" r="2" opacity="0.4"/><circle cx="120" cy="575" r="2" opacity="0.4"/><circle cx="90" cy="600" r="2" opacity="0.4"/><circle cx="60" cy="605" r="2" opacity="0.4"/><circle cx="8" cy="590" r="2" opacity="0.4"/></g>
<ellipse cx="62" cy="565" rx="9" ry="7" fill="#ffffff" opacity="0.45" filter="url(#bl4)" style="mix-blend-mode:screen"/>
</g>
<clipPath id="cpd1"><rect x="144.5" y="491.1" width="137.7" height="124.8"/></clipPath>
<rect x="144.5" y="491.1" width="137.7" height="124.8" fill="#050205"/>
<g clip-path="url(#cpd1)">
<path d="M163.5 491.8L167.9 547.7M210.4 491.8L208.2 523.1M265.2 491.8L255.1 546.6M144.5 498.5L163.5 491.8M265.2 491.8L282.2 498.5M167.9 547.7L208.2 523.1M208.2 523.1L255.1 546.6M144.5 561.1L167.9 547.7M167.9 547.7L274.1 615.9M255.1 546.6L164.6 615.9M255.1 546.6L282.2 562.2M144.5 602.5L164.6 615.9M274.1 615.9L282.2 605.8" stroke="#a8a8a8" stroke-width="1.3" fill="none"/>
<ellipse cx="210.5" cy="558" rx="52" ry="33" transform="rotate(-38 210.5 558)" fill="#18b020" opacity="0.75" filter="url(#bl7)" style="mix-blend-mode:screen"/>
<ellipse cx="208.5" cy="560" rx="34" ry="20" transform="rotate(-38 208.5 560)" fill="#30f038" opacity="0.55" filter="url(#bl4)" style="mix-blend-mode:screen"/>
<g fill="#34f03c" opacity="0.35" filter="url(#bl3)" style="mix-blend-mode:screen"><ellipse cx="210.5" cy="556" rx="27.5" ry="16.2" transform="rotate(-38 210.5 556)" opacity="0.75" filter="url(#bl4)"/><circle cx="221.5" cy="546.6" r="6.4"/><circle cx="218.0" cy="579.4" r="5.1"/><circle cx="207.3" cy="547.2" r="6.5"/><circle cx="215.5" cy="537.3" r="5.8"/><circle cx="243.4" cy="533.9" r="5.8"/><circle cx="233.3" cy="564.8" r="4.6"/><circle cx="204.3" cy="558.7" r="4.0"/><circle cx="232.2" cy="545.0" r="6.6"/><circle cx="221.7" cy="554.2" r="6.4"/><circle cx="215.9" cy="551.5" r="4.4"/><circle cx="191.3" cy="548.9" r="3.5"/><circle cx="207.9" cy="583.0" r="3.9"/><circle cx="226.2" cy="526.1" r="3.4"/><circle cx="206.8" cy="536.0" r="6.3"/><circle cx="186.2" cy="581.7" r="5.2"/><circle cx="197.6" cy="542.0" r="3.3"/><circle cx="228.0" cy="544.6" r="3.3"/><circle cx="224.2" cy="559.5" r="4.7"/><circle cx="242.7" cy="557.9" r="4.9"/><circle cx="203.1" cy="553.4" r="5.7"/><circle cx="204.1" cy="554.0" r="5.8"/><circle cx="234.9" cy="526.3" r="5.9"/><circle cx="198.8" cy="551.1" r="5.9"/><circle cx="212.6" cy="562.9" r="3.4"/><circle cx="218.1" cy="548.4" r="3.7"/><circle cx="229.7" cy="554.3" r="4.9"/><circle cx="211.1" cy="542.3" r="4.3"/><circle cx="210.4" cy="562.8" r="5.5"/><circle cx="212.8" cy="544.1" r="6.3"/><circle cx="220.9" cy="564.6" r="4.2"/><circle cx="228.1" cy="549.1" r="5.3"/><circle cx="244.1" cy="541.3" r="3.3"/><circle cx="210.1" cy="546.0" r="4.2"/><circle cx="200.0" cy="557.5" r="4.3"/><circle cx="206.1" cy="525.7" r="4.8"/><circle cx="199.4" cy="562.8" r="3.5"/><circle cx="214.1" cy="559.2" r="6.1"/><circle cx="230.6" cy="538.6" r="6.1"/><circle cx="212.6" cy="561.4" r="4.1"/><circle cx="228.9" cy="545.7" r="6.5"/><circle cx="219.4" cy="555.7" r="3.2"/><circle cx="192.7" cy="556.0" r="6.0"/><circle cx="208.7" cy="548.1" r="3.2"/><circle cx="194.3" cy="536.4" r="5.8"/><circle cx="224.0" cy="525.8" r="4.1"/><circle cx="196.8" cy="572.9" r="5.4"/><circle cx="236.7" cy="532.7" r="4.0"/><circle cx="198.9" cy="574.6" r="3.4"/><circle cx="244.1" cy="544.8" r="4.9"/><circle cx="238.2" cy="551.8" r="4.1"/><circle cx="207.8" cy="550.5" r="3.5"/><circle cx="215.7" cy="572.9" r="4.1"/><circle cx="205.7" cy="554.5" r="5.0"/><circle cx="228.3" cy="546.3" r="6.1"/><circle cx="206.0" cy="563.0" r="4.6"/><circle cx="216.7" cy="557.0" r="4.7"/><circle cx="218.1" cy="564.6" r="4.0"/><circle cx="215.9" cy="546.5" r="4.8"/><circle cx="229.2" cy="560.1" r="5.7"/><circle cx="222.4" cy="566.3" r="6.4"/><circle cx="217.7" cy="535.2" r="4.3"/><circle cx="215.5" cy="549.3" r="4.1"/><circle cx="179.5" cy="586.5" r="4.9"/><circle cx="194.1" cy="568.3" r="3.8"/></g>
</g>
<path d="M164.6 335.4L254 308.1M169 436.2L266.3 431.9M182.5 589.1L255.8 515.3" stroke="#7f80f0" stroke-width="2.4" stroke-linecap="butt" fill="none"/>
<text x="10" y="311.7" font-size="27" font-weight="bold" fill="#fff">b</text>
<text x="11" y="407.6" font-size="27" font-weight="bold" fill="#fff">c</text>
<text x="10.5" y="520.6" font-size="27" font-weight="bold" fill="#fff">d</text>
<text x="307.5" y="298.4" font-size="27" font-weight="bold">e</text>
<path d="M385.2 318.2L385.2 521.5M384.9 522.2L631.9 522.2M379 494.2L386 494.2M379 459.3L386 459.3M379 424.3L386 424.3M379 389.4L386 389.4M379 354.4L386 354.4M379 319.5L386 319.5M386.2 522L386.2 532.8M437.9 522L437.9 532.8M489.6 522L489.6 532.8M541.3 522L541.3 532.8M593.0 522L593.0 532.8" stroke="#000" stroke-width="2.2" fill="none"/>
<text x="372" y="501.0" font-size="22" text-anchor="end">0.0</text>
<text x="372" y="466.1" font-size="22" text-anchor="end">0.2</text>
<text x="372" y="431.1" font-size="22" text-anchor="end">0.4</text>
<text x="372" y="396.2" font-size="22" text-anchor="end">0.6</text>
<text x="372" y="361.2" font-size="22" text-anchor="end">0.8</text>
<text x="372" y="326.3" font-size="22" text-anchor="end">1.0</text>
<text x="385.7" y="557.4" font-size="22" text-anchor="middle">–200</text>
<text x="437.9" y="557.4" font-size="22" text-anchor="middle">0</text>
<text x="489.6" y="557.4" font-size="22" text-anchor="middle">200</text>
<text x="541.3" y="557.4" font-size="22" text-anchor="middle">400</text>
<text x="593.0" y="557.4" font-size="22" text-anchor="middle">600</text>
<text x="508.5" y="589.8" font-size="22" text-anchor="middle">Distance from onset of</text>
<text x="508.5" y="616.3" font-size="22" text-anchor="middle">increased fluorescence (nm)</text>
<text transform="translate(327.2 428.3) rotate(-90)" font-size="22" text-anchor="middle">Normalized fluorescence</text>
<path d="M385.6 494.5L631.8 494.5" stroke="#000" stroke-width="3" stroke-dasharray="10.7 10.8" fill="none"/>
<path d="M384.9 487.1L393.3 483.7L402.1 474.9L413.2 464.9L422.1 448.3L433.1 443.9L439.8 430.6L446.4 415.1L453.1 408.5L459.7 397.4L468.6 357.6L473.0 342.1L477.4 333.2L481.8 342.1L488.5 336.5L495.1 324.4L499.0 319.0L508.6 338.0L518.0 335.8L527.7 344.0L537.2 354.8L546.8 364.4L553.9 378.7L561.0 402.5L568.2 424.0L575.4 443.0L582.5 466.9L589.7 481.2L599.0 488.4L610.0 490.0L620.0 493.0L631.0 492.0" stroke="#8ed11c" stroke-width="3" stroke-dasharray="5 4.5" fill="none"/>
<path d="M384.9 505.0L393.0 500.0L402.0 492.0L411.0 488.0L420.0 478.0L428.0 465.0L435.0 445.0L441.0 420.0L446.0 400.0L452.0 395.0L458.0 378.0L464.0 346.0L468.0 322.0L472.0 319.0L476.0 335.0L480.0 333.4L487.2 350.0L494.0 330.0L501.5 345.3L508.6 371.5L515.8 404.9L522.9 426.4L530.0 462.0L539.6 471.7L549.0 471.7L556.3 478.8L565.8 488.4L580.1 495.5L589.7 505.0L600.0 510.0L612.0 500.0L622.0 508.0L631.0 500.0" stroke="#23903a" stroke-width="3" stroke-dasharray="5 4.5" fill="none"/>
<path d="M387.7 492.6L394.4 481.5L402.1 460.5L408.8 464.9L415.4 477.1L419.8 463.8L427.6 450.5L433.1 455.0L438.7 424.0L444.2 393.0L450.8 356.5L457.5 393.0L463.0 408.5L468.6 388.6L473.0 355.3L477.4 322.1L481.8 339.8L487.2 350.0L491.9 319.0L496.7 342.9L503.8 354.8L511.0 393.0L515.8 409.7L522.9 390.6L532.5 364.4L538.4 358.4L544.4 388.2L551.5 416.8L561.0 426.4L570.6 433.5L580.1 452.6L587.3 490.7L594.4 507.4L608.8 509.8L618.3 500.3L630.2 505.0" stroke="#1c6844" stroke-width="3" stroke-dasharray="5 4.5" fill="none"/>
<path d="M384.9 494.8L393.3 494.8L402.1 490.4L408.8 483.8L417.6 480.4L426.5 481.5L433.1 474.9L437.6 441.7L440.9 419.5L446.4 401.8L455.3 401.8L461.9 397.4L468.6 386.3L477.4 375.3L484.0 378.6L490.7 376.4L497.3 375.3L503.8 383.5L513.4 387.0L522.9 389.4L530.1 397.8L537.2 412.1L544.4 431.1L553.9 445.4L562.3 449.0L570.6 462.1L580.1 476.4L588.5 488.4L596.8 493.1L604.0 490.7L615.9 496.7L623.0 490.7L631.4 486.0" stroke="#b98ee8" stroke-width="12" stroke-linejoin="round" fill="none" opacity="0.85"/>
<path d="M384.9 494.8L393.3 494.8L402.1 490.4L408.8 483.8L417.6 480.4L426.5 481.5L433.1 474.9L437.6 441.7L440.9 419.5L446.4 401.8L455.3 401.8L461.9 397.4L468.6 386.3L477.4 375.3L484.0 378.6L490.7 376.4L497.3 375.3L503.8 383.5L513.4 387.0L522.9 389.4L530.1 397.8L537.2 412.1L544.4 431.1L553.9 445.4L562.3 449.0L570.6 462.1L580.1 476.4L588.5 488.4L596.8 493.1L604.0 490.7L615.9 496.7L623.0 490.7L631.4 486.0" stroke="#7a22d8" stroke-width="2.6" stroke-linejoin="round" fill="none"/>
<path d="M384.9 500.4L393.3 497.0L402.1 496.0L413.2 492.6L419.8 486.0L427.6 477.1L433.1 468.3L436.5 446.1L439.8 424.0L444.2 404.0L450.8 397.4L457.5 393.0L464.1 386.3L470.8 377.5L477.4 370.8L482.9 358.7L488.3 362.2L493.7 358.7L497.3 359.9L503.8 364.4L511.0 373.9L519.3 388.2L527.7 402.5L534.8 421.6L542.0 426.4L549.1 438.3L556.3 452.6L563.5 462.1L573.0 466.9L581.3 470.5L587.3 466.9L594.4 476.4L604.0 481.2L613.5 488.4L623.0 490.7L631.4 489.6" stroke="#8fe28f" stroke-width="9" stroke-linejoin="round" fill="none" opacity="0.8"/>
<path d="M384.9 500.4L393.3 497.0L402.1 496.0L413.2 492.6L419.8 486.0L427.6 477.1L433.1 468.3L436.5 446.1L439.8 424.0L444.2 404.0L450.8 397.4L457.5 393.0L464.1 386.3L470.8 377.5L477.4 370.8L482.9 358.7L488.3 362.2L493.7 358.7L497.3 359.9L503.8 364.4L511.0 373.9L519.3 388.2L527.7 402.5L534.8 421.6L542.0 426.4L549.1 438.3L556.3 452.6L563.5 462.1L573.0 466.9L581.3 470.5L587.3 466.9L594.4 476.4L604.0 481.2L613.5 488.4L623.0 490.7L631.4 489.6" stroke="#1ec21e" stroke-width="2.8" stroke-linejoin="round" fill="none"/>
<path d="M573.2 307.6L587.8 307.6" stroke="#22cc22" stroke-width="2.6"/>
<path d="M573.2 342.3L587.8 342.3" stroke="#7a22d8" stroke-width="2.6"/>
<path d="M573.2 387.6L587.8 387.6" stroke="#1c6844" stroke-width="2.6" stroke-dasharray="6 3"/>
<path d="M573.2 396.4L587.8 396.4" stroke="#23903a" stroke-width="2.6" stroke-dasharray="6 3"/>
<path d="M573.2 405.2L587.8 405.2" stroke="#8ed11c" stroke-width="2.6" stroke-dasharray="6 3"/>
<text transform="translate(595.5 315.5) scale(0.87 1)" font-size="22">Ca<tspan font-size="17" dy="5.2">V</tspan><tspan dy="-5.2">1.3</tspan></text>
<text transform="translate(595.5 349.5) scale(0.84 1)" font-size="22">BSN</text>
<text transform="translate(595.5 386) scale(0.87 1)" font-size="22">Ca<tspan font-size="17" dy="5.2">V</tspan><tspan dy="-5.2">1.3</tspan></text>
<text transform="translate(595.5 409.5) scale(0.87 1)" font-size="22">example</text>
<text transform="translate(595.5 433) scale(0.86 1)" font-size="22">traces</text>
<text x="2" y="671" font-size="27" font-weight="bold">f</text>
<text x="75.5" y="926.5" font-size="22" text-anchor="end">0</text>
<text x="75.5" y="895.0" font-size="22" text-anchor="end">100</text>
<text x="75.5" y="863.6" font-size="22" text-anchor="end">200</text>
<text x="75.5" y="832.1" font-size="22" text-anchor="end">300</text>
<text x="75.5" y="800.6" font-size="22" text-anchor="end">400</text>
<text x="75.5" y="769.1" font-size="22" text-anchor="end">500</text>
<text x="75.5" y="737.7" font-size="22" text-anchor="end">600</text>
<text x="75.5" y="706.2" font-size="22" text-anchor="end">700</text>
<path d="M94.6 699.9L94.6 926.6M84.3 921.2L95 921.2M84.3 889.7L95 889.7M84.3 858.3L95 858.3M84.3 826.8L95 826.8M84.3 795.3L95 795.3M84.3 763.8L95 763.8M84.3 732.4L95 732.4M84.3 700.9L95 700.9" stroke="#000" stroke-width="2.2" fill="none"/>
<text transform="translate(23.3 809.6) rotate(-90)" font-size="23" text-anchor="middle">Length of cluster (nm)</text>
<path d="M101 753.3H187.4V805H101ZM101 784.6H187.4M143.9 722.5V753.3" stroke="#66cc66" stroke-width="2.4" fill="none"/>
<path d="M214.2 759.7H300.7V800.7H214.2ZM214.2 775.7H300.7M257.5 747.4V759.7M257.5 800.7V808.5" stroke="#cc66cc" stroke-width="2.4" fill="none"/>
<path d="M141.4 704.2H150.0M145.7 699.9V708.5M145.1 704.9H153.7M149.4 700.6V709.2M138.4 714.6H147.0M142.7 710.3V718.9M125.7 740.7H134.3M130.0 736.4V745.0M128.0 740.7H136.6M132.3 736.4V745.0M134.7 739.2H143.3M139.0 734.9V743.5M148.8 740.0H157.4M153.1 735.7V744.3M122.7 751.8H131.3M127.0 747.5V756.1M125.0 763.0H133.6M129.3 758.7V767.3M143.6 757.8H152.2M147.9 753.5V762.1M142.1 766.7H150.7M146.4 762.4V771.0M126.5 780.9H135.1M130.8 776.6V785.2M137.6 780.2H146.2M141.9 775.9V784.5M154.8 777.9H163.4M159.1 773.6V782.2M130.9 786.9H139.5M135.2 782.6V791.2M128.7 790.6H137.3M133.0 786.3V794.9M154.0 785.4H162.6M158.3 781.1V789.7M147.3 792.1H155.9M151.6 787.8V796.4M156.3 792.1H164.9M160.6 787.8V796.4M157.0 799.5H165.6M161.3 795.2V803.8M135.4 804.0H144.0M139.7 799.7V808.3M132.4 807.7H141.0M136.7 803.4V812.0M139.1 809.2H147.7M143.4 804.9V813.5M148.8 808.5H157.4M153.1 804.2V812.8M122.7 810.0H131.3M127.0 805.7V814.3M151.1 812.2H159.7M155.4 807.9V816.5M130.2 816.7H138.8M134.5 812.4V821.0" stroke="#44ee44" stroke-width="1.4" fill="none"/>
<path d="M238.0 739.9H246.6M242.3 735.6V744.2M239.2 742.9H247.8M243.5 738.6V747.2M260.3 744.4H268.9M264.6 740.1V748.7M257.3 748.1H265.9M261.6 743.8V752.4M252.9 752.6H261.5M257.2 748.3V756.9M264.8 754.8H273.4M269.1 750.5V759.1M244.7 756.3H253.3M249.0 752.0V760.6M235.7 759.3H244.3M240.0 755.0V763.6M245.4 760.8H254.0M249.7 756.5V765.1M247.6 764.5H256.2M251.9 760.2V768.8M254.4 767.5H263.0M258.7 763.2V771.8M256.6 766.7H265.2M260.9 762.4V771.0M265.5 763.7H274.1M269.8 759.4V768.0M273.0 769.0H281.6M277.3 764.7V773.3M245.4 773.4H254.0M249.7 769.1V777.7M251.4 776.4H260.0M255.7 772.1V780.7M266.3 774.9H274.9M270.6 770.6V779.2M257.3 780.1H265.9M261.6 775.8V784.4M248.4 785.4H257.0M252.7 781.1V789.7M262.5 785.4H271.1M266.8 781.1V789.7M271.5 786.1H280.1M275.8 781.8V790.4M240.9 794.3H249.5M245.2 790.0V798.6M261.1 797.3H269.7M265.4 793.0V801.6M249.9 800.3H258.5M254.2 796.0V804.6M269.3 800.3H277.9M273.6 796.0V804.6M236.5 805.5H245.1M240.8 801.2V809.8M240.2 810.0H248.8M244.5 805.7V814.3M258.8 808.5H267.4M263.1 804.2V812.8M269.3 809.2H277.9M273.6 804.9V813.5M243.9 818.9H252.5M248.2 814.6V823.2M261.8 833.8H270.4M266.1 829.5V838.1" stroke="#ff77ff" stroke-width="1.4" fill="none"/>
<text transform="translate(168 925.5) rotate(-45)" font-size="22" text-anchor="end">Ca<tspan font-size="15" dy="5">V</tspan><tspan dy="-5">1.3</tspan></text>
<text transform="translate(275.5 925) rotate(-45)" font-size="22" text-anchor="end">BSN</text>
<text x="327" y="671" font-size="27" font-weight="bold">g</text>
<text x="427.5" y="924.0" font-size="22" text-anchor="end">0</text>
<text x="427.5" y="852.6" font-size="22" text-anchor="end">200</text>
<text x="427.5" y="781.2" font-size="22" text-anchor="end">400</text>
<text x="427.5" y="709.7" font-size="22" text-anchor="end">600</text>
<text x="450.5" y="958.2" font-size="22" text-anchor="middle">0</text>
<text x="510.4" y="958.2" font-size="22" text-anchor="middle">200</text>
<text x="570.3" y="958.2" font-size="22" text-anchor="middle">400</text>
<text x="630.2" y="958.2" font-size="22" text-anchor="middle">600</text>
<path d="M445.7 666L445.7 923.2M444.7 922.1L666 922.1M436.3 916.9H446M440 881.2H446M436.3 845.5H446M440 809.8H446M436.3 774.1H446M440 738.4H446M436.3 702.6H446M440 666.9H446M450.5 922V933M480.4 922V927.5M510.4 922V933M540.4 922V927.5M570.3 922V933M600.2 922V927.5M630.2 922V933M660.1 922V927.5" stroke="#000" stroke-width="2.2" fill="none"/>
<text x="552" y="985.5" font-size="22" text-anchor="middle">BSN cluster length (nm)</text>
<text transform="translate(348 806.4) rotate(-90)" font-size="23" text-anchor="middle">Ca<tspan font-size="16" dy="5">V</tspan><tspan dy="-5">1.3 cluster length</tspan></text>
<text transform="translate(377 806) rotate(-90)" font-size="22" text-anchor="middle">(nm)</text>
<path d="M485.9 809.7a5.1 5.1 0 1 0 -10.2 0a5.1 5.1 0 1 0 10.2 0M501.5 809.7a5.1 5.1 0 1 0 -10.2 0a5.1 5.1 0 1 0 10.2 0M481.4 823.1a5.1 5.1 0 1 0 -10.2 0a5.1 5.1 0 1 0 10.2 0M485.9 832.0a5.1 5.1 0 1 0 -10.2 0a5.1 5.1 0 1 0 10.2 0M482.9 841.0a5.1 5.1 0 1 0 -10.2 0a5.1 5.1 0 1 0 10.2 0M473.9 862.6a5.1 5.1 0 1 0 -10.2 0a5.1 5.1 0 1 0 10.2 0M474.7 870.0a5.1 5.1 0 1 0 -10.2 0a5.1 5.1 0 1 0 10.2 0M482.1 864.0a5.1 5.1 0 1 0 -10.2 0a5.1 5.1 0 1 0 10.2 0M488.8 859.6a5.1 5.1 0 1 0 -10.2 0a5.1 5.1 0 1 0 10.2 0M494.1 877.5a5.1 5.1 0 1 0 -10.2 0a5.1 5.1 0 1 0 10.2 0M506.0 862.6a5.1 5.1 0 1 0 -10.2 0a5.1 5.1 0 1 0 10.2 0M515.7 879.7a5.1 5.1 0 1 0 -10.2 0a5.1 5.1 0 1 0 10.2 0M517.9 871.5a5.1 5.1 0 1 0 -10.2 0a5.1 5.1 0 1 0 10.2 0M526.1 861.1a5.1 5.1 0 1 0 -10.2 0a5.1 5.1 0 1 0 10.2 0M535.1 864.0a5.1 5.1 0 1 0 -10.2 0a5.1 5.1 0 1 0 10.2 0M527.6 855.1a5.1 5.1 0 1 0 -10.2 0a5.1 5.1 0 1 0 10.2 0M494.8 816.4a5.1 5.1 0 1 0 -10.2 0a5.1 5.1 0 1 0 10.2 0M499.3 825.3a5.1 5.1 0 1 0 -10.2 0a5.1 5.1 0 1 0 10.2 0M506.7 820.9a5.1 5.1 0 1 0 -10.2 0a5.1 5.1 0 1 0 10.2 0M512.7 819.4a5.1 5.1 0 1 0 -10.2 0a5.1 5.1 0 1 0 10.2 0M520.1 816.4a5.1 5.1 0 1 0 -10.2 0a5.1 5.1 0 1 0 10.2 0M524.6 809.0a5.1 5.1 0 1 0 -10.2 0a5.1 5.1 0 1 0 10.2 0M530.6 804.5a5.1 5.1 0 1 0 -10.2 0a5.1 5.1 0 1 0 10.2 0M536.5 820.9a5.1 5.1 0 1 0 -10.2 0a5.1 5.1 0 1 0 10.2 0M542.5 819.4a5.1 5.1 0 1 0 -10.2 0a5.1 5.1 0 1 0 10.2 0M545.5 840.2a5.1 5.1 0 1 0 -10.2 0a5.1 5.1 0 1 0 10.2 0M544.0 846.2a5.1 5.1 0 1 0 -10.2 0a5.1 5.1 0 1 0 10.2 0M502.3 831.3a5.1 5.1 0 1 0 -10.2 0a5.1 5.1 0 1 0 10.2 0M512.7 829.8a5.1 5.1 0 1 0 -10.2 0a5.1 5.1 0 1 0 10.2 0M521.6 828.3a5.1 5.1 0 1 0 -10.2 0a5.1 5.1 0 1 0 10.2 0M530.6 829.8a5.1 5.1 0 1 0 -10.2 0a5.1 5.1 0 1 0 10.2 0M497.8 838.7a5.1 5.1 0 1 0 -10.2 0a5.1 5.1 0 1 0 10.2 0M506.7 837.3a5.1 5.1 0 1 0 -10.2 0a5.1 5.1 0 1 0 10.2 0M515.7 838.7a5.1 5.1 0 1 0 -10.2 0a5.1 5.1 0 1 0 10.2 0M524.6 837.3a5.1 5.1 0 1 0 -10.2 0a5.1 5.1 0 1 0 10.2 0M533.6 840.2a5.1 5.1 0 1 0 -10.2 0a5.1 5.1 0 1 0 10.2 0M494.8 844.7a5.1 5.1 0 1 0 -10.2 0a5.1 5.1 0 1 0 10.2 0M503.8 847.7a5.1 5.1 0 1 0 -10.2 0a5.1 5.1 0 1 0 10.2 0M512.7 847.7a5.1 5.1 0 1 0 -10.2 0a5.1 5.1 0 1 0 10.2 0M521.6 844.7a5.1 5.1 0 1 0 -10.2 0a5.1 5.1 0 1 0 10.2 0M530.6 844.7a5.1 5.1 0 1 0 -10.2 0a5.1 5.1 0 1 0 10.2 0M490.3 853.7a5.1 5.1 0 1 0 -10.2 0a5.1 5.1 0 1 0 10.2 0M499.3 856.6a5.1 5.1 0 1 0 -10.2 0a5.1 5.1 0 1 0 10.2 0M509.7 853.7a5.1 5.1 0 1 0 -10.2 0a5.1 5.1 0 1 0 10.2 0M518.7 852.2a5.1 5.1 0 1 0 -10.2 0a5.1 5.1 0 1 0 10.2 0M485.9 858.1a5.1 5.1 0 1 0 -10.2 0a5.1 5.1 0 1 0 10.2 0M493.3 862.6a5.1 5.1 0 1 0 -10.2 0a5.1 5.1 0 1 0 10.2 0M499.3 861.1a5.1 5.1 0 1 0 -10.2 0a5.1 5.1 0 1 0 10.2 0M542.5 832.0a5.1 5.1 0 1 0 -10.2 0a5.1 5.1 0 1 0 10.2 0M503.4 781.3a5.1 5.1 0 1 0 -10.2 0a5.1 5.1 0 1 0 10.2 0M514.0 787.9a5.1 5.1 0 1 0 -10.2 0a5.1 5.1 0 1 0 10.2 0M507.5 795.2a5.1 5.1 0 1 0 -10.2 0a5.1 5.1 0 1 0 10.2 0M515.7 801.0a5.1 5.1 0 1 0 -10.2 0a5.1 5.1 0 1 0 10.2 0M524.7 782.1a5.1 5.1 0 1 0 -10.2 0a5.1 5.1 0 1 0 10.2 0M527.1 772.3a5.1 5.1 0 1 0 -10.2 0a5.1 5.1 0 1 0 10.2 0M538.6 784.6a5.1 5.1 0 1 0 -10.2 0a5.1 5.1 0 1 0 10.2 0M532.1 764.9a5.1 5.1 0 1 0 -10.2 0a5.1 5.1 0 1 0 10.2 0M548.5 792.8a5.1 5.1 0 1 0 -10.2 0a5.1 5.1 0 1 0 10.2 0M538.6 801.0a5.1 5.1 0 1 0 -10.2 0a5.1 5.1 0 1 0 10.2 0M551.7 802.6a5.1 5.1 0 1 0 -10.2 0a5.1 5.1 0 1 0 10.2 0M548.5 819.0a5.1 5.1 0 1 0 -10.2 0a5.1 5.1 0 1 0 10.2 0M555.0 827.2a5.1 5.1 0 1 0 -10.2 0a5.1 5.1 0 1 0 10.2 0M546.8 845.2a5.1 5.1 0 1 0 -10.2 0a5.1 5.1 0 1 0 10.2 0M552.2 700.8a5.1 5.1 0 1 0 -10.2 0a5.1 5.1 0 1 0 10.2 0M520.4 725.0a5.1 5.1 0 1 0 -10.2 0a5.1 5.1 0 1 0 10.2 0M584.1 731.4a5.1 5.1 0 1 0 -10.2 0a5.1 5.1 0 1 0 10.2 0M619.8 725.7a5.1 5.1 0 1 0 -10.2 0a5.1 5.1 0 1 0 10.2 0M665.1 719.1a5.1 5.1 0 1 0 -10.2 0a5.1 5.1 0 1 0 10.2 0M562.4 753.8a5.1 5.1 0 1 0 -10.2 0a5.1 5.1 0 1 0 10.2 0M540.8 756.8a5.1 5.1 0 1 0 -10.2 0a5.1 5.1 0 1 0 10.2 0M573.9 767.0a5.1 5.1 0 1 0 -10.2 0a5.1 5.1 0 1 0 10.2 0M535.7 762.0a5.1 5.1 0 1 0 -10.2 0a5.1 5.1 0 1 0 10.2 0M607.4 790.1a5.1 5.1 0 1 0 -10.2 0a5.1 5.1 0 1 0 10.2 0M595.8 798.1a5.1 5.1 0 1 0 -10.2 0a5.1 5.1 0 1 0 10.2 0M571.6 780.3a5.1 5.1 0 1 0 -10.2 0a5.1 5.1 0 1 0 10.2 0M578.8 791.9a5.1 5.1 0 1 0 -10.2 0a5.1 5.1 0 1 0 10.2 0M561.8 791.9a5.1 5.1 0 1 0 -10.2 0a5.1 5.1 0 1 0 10.2 0M573.4 800.8a5.1 5.1 0 1 0 -10.2 0a5.1 5.1 0 1 0 10.2 0M568.0 808.0a5.1 5.1 0 1 0 -10.2 0a5.1 5.1 0 1 0 10.2 0M553.7 809.8a5.1 5.1 0 1 0 -10.2 0a5.1 5.1 0 1 0 10.2 0M593.1 827.7a5.1 5.1 0 1 0 -10.2 0a5.1 5.1 0 1 0 10.2 0M572.5 827.7a5.1 5.1 0 1 0 -10.2 0a5.1 5.1 0 1 0 10.2 0M476.8 862.3a5.1 5.1 0 1 0 -10.2 0a5.1 5.1 0 1 0 10.2 0M579.8 844.0a5.1 5.1 0 1 0 -10.2 0a5.1 5.1 0 1 0 10.2 0M591.8 832.0a5.1 5.1 0 1 0 -10.2 0a5.1 5.1 0 1 0 10.2 0M590.8 790.6a5.1 5.1 0 1 0 -10.2 0a5.1 5.1 0 1 0 10.2 0M536.8 755.3a5.1 5.1 0 1 0 -10.2 0a5.1 5.1 0 1 0 10.2 0M542.8 753.8a5.1 5.1 0 1 0 -10.2 0a5.1 5.1 0 1 0 10.2 0M547.3 761.3a5.1 5.1 0 1 0 -10.2 0a5.1 5.1 0 1 0 10.2 0M552.5 764.3a5.1 5.1 0 1 0 -10.2 0a5.1 5.1 0 1 0 10.2 0M542.8 771.7a5.1 5.1 0 1 0 -10.2 0a5.1 5.1 0 1 0 10.2 0M551.7 774.7a5.1 5.1 0 1 0 -10.2 0a5.1 5.1 0 1 0 10.2 0M554.7 779.2a5.1 5.1 0 1 0 -10.2 0a5.1 5.1 0 1 0 10.2 0M545.8 777.7a5.1 5.1 0 1 0 -10.2 0a5.1 5.1 0 1 0 10.2 0M529.4 789.6a5.1 5.1 0 1 0 -10.2 0a5.1 5.1 0 1 0 10.2 0M529.4 798.6a5.1 5.1 0 1 0 -10.2 0a5.1 5.1 0 1 0 10.2 0M538.3 803.0a5.1 5.1 0 1 0 -10.2 0a5.1 5.1 0 1 0 10.2 0M547.3 801.5a5.1 5.1 0 1 0 -10.2 0a5.1 5.1 0 1 0 10.2 0M572.6 782.2a5.1 5.1 0 1 0 -10.2 0a5.1 5.1 0 1 0 10.2 0M568.1 798.6a5.1 5.1 0 1 0 -10.2 0a5.1 5.1 0 1 0 10.2 0M572.6 803.0a5.1 5.1 0 1 0 -10.2 0a5.1 5.1 0 1 0 10.2 0M502.6 819.4a5.1 5.1 0 1 0 -10.2 0a5.1 5.1 0 1 0 10.2 0M526.4 819.4a5.1 5.1 0 1 0 -10.2 0a5.1 5.1 0 1 0 10.2 0M535.3 817.9a5.1 5.1 0 1 0 -10.2 0a5.1 5.1 0 1 0 10.2 0M557.7 820.9a5.1 5.1 0 1 0 -10.2 0a5.1 5.1 0 1 0 10.2 0M593.5 798.6a5.1 5.1 0 1 0 -10.2 0a5.1 5.1 0 1 0 10.2 0M479.7 862.4a5.1 5.1 0 1 0 -10.2 0a5.1 5.1 0 1 0 10.2 0M488.6 854.9a5.1 5.1 0 1 0 -10.2 0a5.1 5.1 0 1 0 10.2 0M493.8 866.1a5.1 5.1 0 1 0 -10.2 0a5.1 5.1 0 1 0 10.2 0M529.6 856.4a5.1 5.1 0 1 0 -10.2 0a5.1 5.1 0 1 0 10.2 0M550.5 844.5a5.1 5.1 0 1 0 -10.2 0a5.1 5.1 0 1 0 10.2 0M489.4 846.0a5.1 5.1 0 1 0 -10.2 0a5.1 5.1 0 1 0 10.2 0M497.4 843.9a5.1 5.1 0 1 0 -10.2 0a5.1 5.1 0 1 0 10.2 0M507.5 816.2a5.1 5.1 0 1 0 -10.2 0a5.1 5.1 0 1 0 10.2 0M532.3 798.2a5.1 5.1 0 1 0 -10.2 0a5.1 5.1 0 1 0 10.2 0M533.7 774.6a5.1 5.1 0 1 0 -10.2 0a5.1 5.1 0 1 0 10.2 0M544.7 800.1a5.1 5.1 0 1 0 -10.2 0a5.1 5.1 0 1 0 10.2 0M551.7 771.8a5.1 5.1 0 1 0 -10.2 0a5.1 5.1 0 1 0 10.2 0M521.5 795.7a5.1 5.1 0 1 0 -10.2 0a5.1 5.1 0 1 0 10.2 0M512.9 834.1a5.1 5.1 0 1 0 -10.2 0a5.1 5.1 0 1 0 10.2 0M519.2 803.7a5.1 5.1 0 1 0 -10.2 0a5.1 5.1 0 1 0 10.2 0M527.9 775.2a5.1 5.1 0 1 0 -10.2 0a5.1 5.1 0 1 0 10.2 0M522.6 809.6a5.1 5.1 0 1 0 -10.2 0a5.1 5.1 0 1 0 10.2 0M498.9 840.4a5.1 5.1 0 1 0 -10.2 0a5.1 5.1 0 1 0 10.2 0M508.8 838.7a5.1 5.1 0 1 0 -10.2 0a5.1 5.1 0 1 0 10.2 0M524.6 796.0a5.1 5.1 0 1 0 -10.2 0a5.1 5.1 0 1 0 10.2 0M553.6 757.1a5.1 5.1 0 1 0 -10.2 0a5.1 5.1 0 1 0 10.2 0M511.8 796.7a5.1 5.1 0 1 0 -10.2 0a5.1 5.1 0 1 0 10.2 0M494.8 848.9a5.1 5.1 0 1 0 -10.2 0a5.1 5.1 0 1 0 10.2 0M511.3 820.9a5.1 5.1 0 1 0 -10.2 0a5.1 5.1 0 1 0 10.2 0M532.2 801.6a5.1 5.1 0 1 0 -10.2 0a5.1 5.1 0 1 0 10.2 0M519.4 796.1a5.1 5.1 0 1 0 -10.2 0a5.1 5.1 0 1 0 10.2 0M514.4 817.0a5.1 5.1 0 1 0 -10.2 0a5.1 5.1 0 1 0 10.2 0M543.3 783.1a5.1 5.1 0 1 0 -10.2 0a5.1 5.1 0 1 0 10.2 0M531.2 784.6a5.1 5.1 0 1 0 -10.2 0a5.1 5.1 0 1 0 10.2 0M538.4 797.9a5.1 5.1 0 1 0 -10.2 0a5.1 5.1 0 1 0 10.2 0M544.1 769.3a5.1 5.1 0 1 0 -10.2 0a5.1 5.1 0 1 0 10.2 0M550.9 762.0a5.1 5.1 0 1 0 -10.2 0a5.1 5.1 0 1 0 10.2 0M522.1 778.2a5.1 5.1 0 1 0 -10.2 0a5.1 5.1 0 1 0 10.2 0" stroke="#ff0d0d" stroke-width="1.55" fill="none"/>
<path d="M617.2 663.5L623.6 674.7L610.8 674.7ZM612.1 675.7L618.5 686.9L605.7 686.9ZM563.7 704.3L570.1 715.5L557.3 715.5ZM580.3 704.3L586.7 715.5L573.9 715.5ZM604.5 704.3L610.9 715.5L598.1 715.5ZM621.0 704.3L627.4 715.5L614.6 715.5ZM558.6 725.9L565.0 737.1L552.2 737.1ZM585.4 722.1L591.8 733.3L579.0 733.3ZM604.5 718.3L610.9 729.5L598.1 729.5ZM623.6 729.8L630.0 741.0L617.2 741.0ZM598.1 734.8L604.5 746.0L591.7 746.0ZM557.6 748.5L564.0 759.7L551.2 759.7ZM565.6 754.8L572.0 766.0L559.2 766.0ZM588.0 750.3L594.4 761.5L581.6 761.5ZM580.8 758.3L587.2 769.5L574.4 769.5ZM588.9 756.6L595.3 767.8L582.5 767.8ZM596.9 761.9L603.3 773.1L590.5 773.1ZM590.7 764.6L597.1 775.8L584.3 775.8ZM579.0 770.9L585.4 782.1L572.6 782.1ZM566.5 774.4L572.9 785.6L560.1 785.6ZM564.7 780.7L571.1 791.9L558.3 791.9ZM560.3 783.4L566.7 794.6L553.9 794.6ZM592.5 778.9L598.9 790.1L586.1 790.1ZM600.5 779.8L606.9 791.0L594.1 791.0ZM609.4 778.9L615.8 790.1L603.0 790.1ZM607.7 790.5L614.1 801.7L601.3 801.7ZM602.3 784.3L608.7 795.5L595.9 795.5ZM532.5 761.9L538.9 773.1L526.1 773.1ZM548.6 761.9L555.0 773.1L542.2 773.1ZM558.6 728.5L565.0 739.7L552.2 739.7ZM580.9 725.5L587.3 736.7L574.5 736.7ZM531.7 764.3L538.1 775.5L525.3 775.5ZM566.0 778.4L572.4 789.6L559.6 789.6ZM571.2 783.7L577.6 794.9L564.8 794.9ZM588.4 780.7L594.8 791.9L582.0 791.9Z" stroke="#000" stroke-width="1.4" stroke-linejoin="miter" fill="none"/>
<circle cx="551.5" cy="879.1" r="5.2" stroke="#ff1010" stroke-width="1.3" fill="none"/>
<path d="M552.7 893.8L559.1 905.0L546.3 905.0Z" stroke="#000" stroke-width="1.4" fill="none"/>
<text x="567.2" y="885.3" font-size="19">2D STED</text>
<text x="567.2" y="905.3" font-size="19">3D STED</text>
</svg></body></html>
